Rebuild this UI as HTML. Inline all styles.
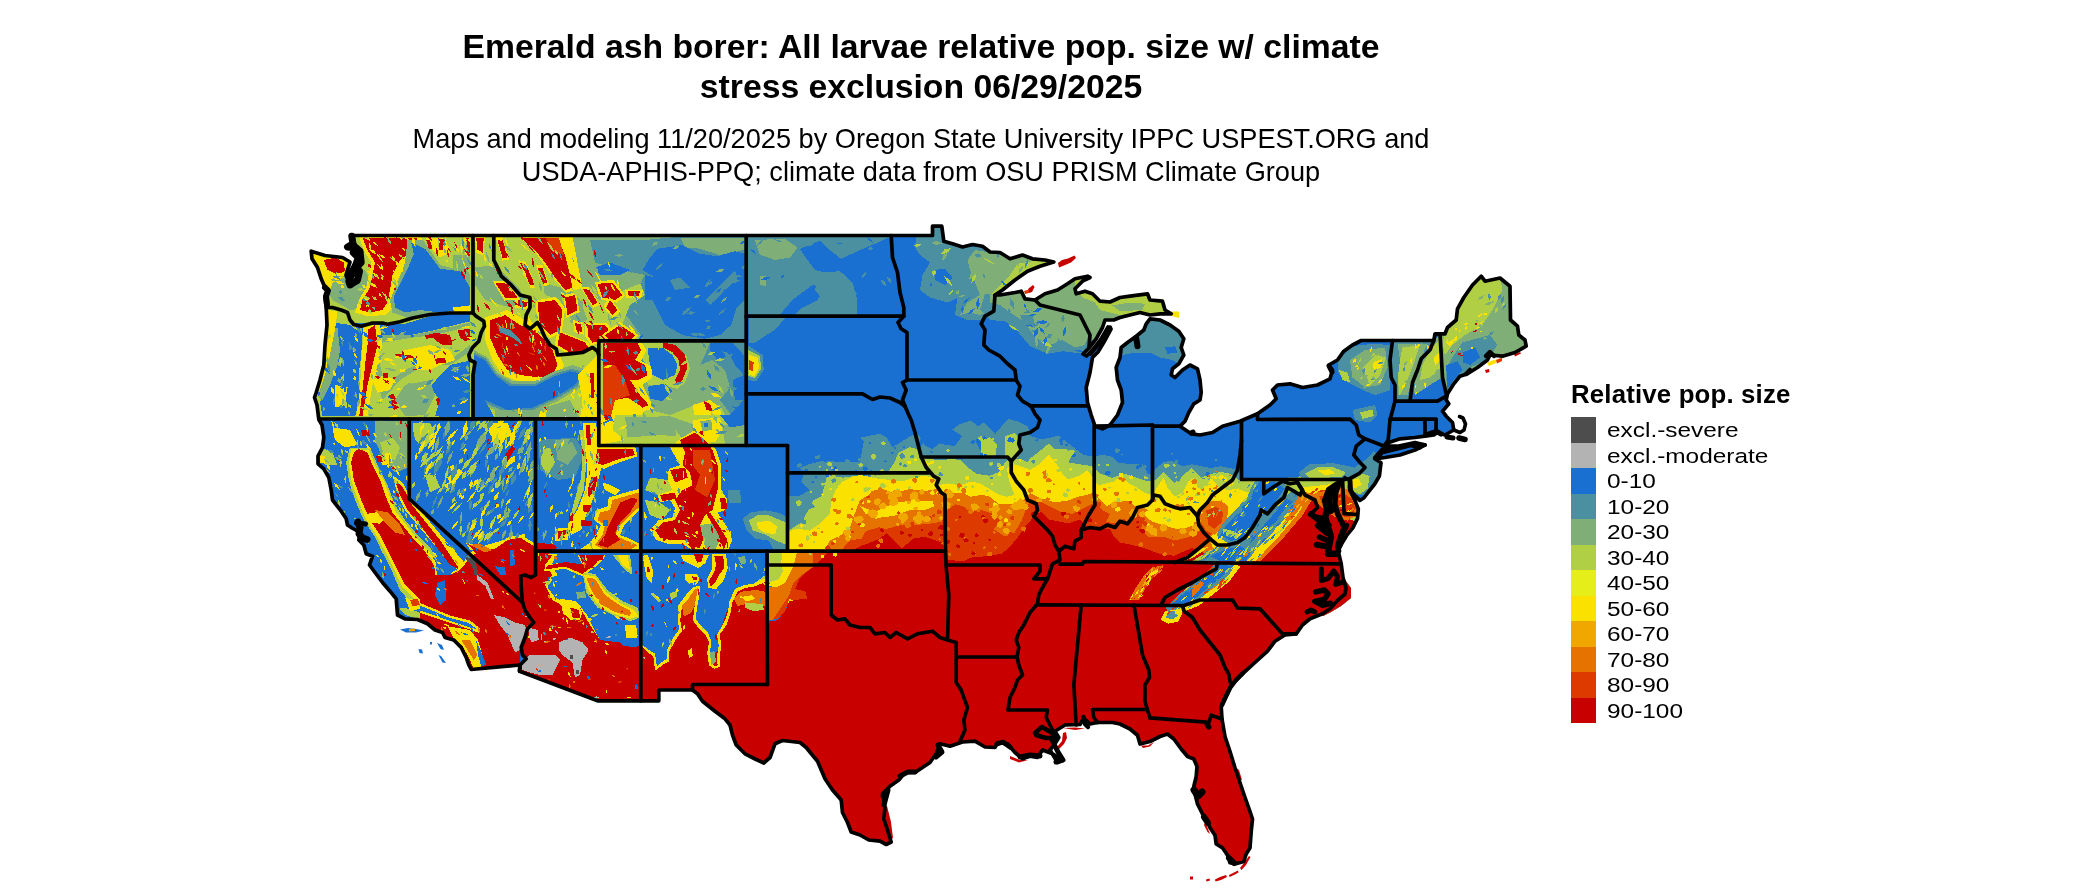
<!DOCTYPE html>
<html><head><meta charset="utf-8"><title>Emerald ash borer</title>
<style>
html,body{margin:0;padding:0;background:#fff}
body{width:2100px;height:892px;position:relative;overflow:hidden;font-family:"Liberation Sans",sans-serif;color:#000}
.t{position:absolute;left:0;width:1842px;text-align:center;white-space:nowrap;will-change:transform}
.t1{font-weight:bold;font-size:33.72px;line-height:40px}
  .t2{font-size:27.16px;line-height:34px}
.lt{will-change:transform;position:absolute;left:1571px;top:379px;font-weight:bold;font-size:25.8px;letter-spacing:0.17px;line-height:30px;white-space:nowrap}
.sw{position:absolute;left:1571px;width:25px;height:25.5px}
.lb{will-change:transform;position:absolute;left:1607px;font-size:20.5px;line-height:26px;white-space:nowrap;transform-origin:0 50%;transform:scaleX(1.19)}
</style></head><body>
<div class="t t1" style="top:26px">Emerald ash borer: All larvae relative pop. size w/ climate</div>
<div class="t t1" style="top:66px">stress exclusion 06/29/2025</div>
<div class="t t2" style="top:122px">Maps and modeling 11/20/2025 by Oregon State University IPPC USPEST.ORG and</div>
<div class="t t2" style="top:155px">USDA-APHIS-PPQ; climate data from OSU PRISM Climate Group</div>
<svg width="2100" height="892" viewBox="0 0 2100 892" style="position:absolute;left:0;top:0"><defs><clipPath id="us"><polygon points="351.2,235.5 932.5,235.5 932.5,226.2 941.8,226.2 943.8,241.2 952.5,243.8 962.5,247.0 972.5,244.5 982.5,246.2 990.0,252.0 1000.0,252.5 1010.0,258.8 1022.5,255.0 1032.5,258.8 1045.0,260.0 1053.8,262.0 1040.0,266.2 1027.5,271.2 1015.0,280.0 1002.5,290.0 995.0,295.0 1000.0,295.0 1015.0,292.5 1021.2,291.2 1025.0,298.8 1035.0,300.0 1045.0,293.8 1057.5,290.0 1067.5,283.8 1075.0,278.8 1087.5,276.2 1090.0,277.5 1082.5,281.2 1075.0,288.8 1076.2,293.8 1085.0,291.2 1092.5,293.8 1100.0,301.2 1110.0,302.0 1120.0,297.5 1130.0,296.2 1147.5,293.8 1150.0,300.0 1162.5,301.2 1165.0,310.0 1171.2,313.8 1160.0,313.8 1150.0,315.0 1140.0,312.5 1130.0,315.0 1120.0,317.5 1113.8,320.0 1105.0,320.0 1102.5,327.5 1096.2,338.8 1089.0,348.0 1083.0,354.0 1086.5,356.0 1093.5,349.0 1100.5,340.0 1108.0,327.0 1111.0,329.0 1104.0,342.0 1098.0,352.0 1092.5,357.5 1090.0,372.5 1086.2,387.5 1087.5,402.5 1091.2,415.0 1095.0,426.2 1102.5,428.8 1110.0,425.0 1117.5,415.0 1122.5,402.5 1121.2,390.0 1117.5,380.0 1116.2,367.5 1120.0,357.5 1121.2,347.5 1127.5,342.5 1136.2,336.2 1143.8,330.0 1146.2,323.8 1150.0,318.8 1160.0,320.0 1170.0,325.0 1178.8,331.2 1183.8,338.8 1181.2,347.5 1183.8,355.0 1178.8,363.8 1172.5,368.8 1171.2,375.0 1175.0,377.5 1182.5,370.0 1190.0,365.0 1197.5,368.8 1200.0,380.0 1201.2,392.5 1200.0,400.0 1193.8,403.8 1188.8,412.5 1185.0,421.2 1180.0,426.2 1191.2,433.8 1200.0,435.0 1212.5,432.5 1222.5,426.2 1240.0,421.2 1257.5,413.8 1270.0,405.0 1276.2,398.8 1272.5,390.0 1277.5,385.0 1290.0,383.8 1302.5,387.5 1317.5,385.0 1330.0,378.8 1332.5,370.0 1328.8,365.0 1337.5,360.0 1343.8,351.2 1352.5,345.0 1361.2,340.5 1433.8,340.5 1435.0,333.8 1445.0,333.8 1447.5,327.5 1456.2,320.0 1457.5,308.8 1463.8,297.5 1472.5,285.0 1481.2,276.2 1485.0,281.2 1500.0,278.0 1510.0,286.2 1510.5,320.0 1517.5,326.2 1518.8,335.0 1525.0,340.0 1526.2,346.2 1515.0,352.5 1502.5,356.2 1490.0,355.0 1487.5,360.0 1477.5,367.5 1467.5,373.8 1460.0,376.2 1453.8,383.8 1447.5,393.8 1446.2,400.0 1448.8,403.8 1442.5,411.2 1446.2,416.2 1452.5,422.5 1453.8,430.0 1445.0,435.0 1437.5,432.5 1433.8,435.0 1425.0,436.2 1415.0,437.5 1400.0,438.8 1388.8,442.5 1383.8,446.2 1397.5,446.2 1415.0,442.5 1425.0,445.0 1415.0,450.0 1400.0,455.0 1385.0,457.5 1375.0,458.8 1381.0,462.8 1379.4,476.0 1374.7,484.0 1368.5,491.8 1363.8,498.0 1359.8,500.4 1352.8,493.4 1349.6,487.0 1350.4,480.0 1351.2,491.8 1355.9,502.8 1358.3,509.0 1357.5,518.5 1352.8,527.9 1346.5,535.7 1341.8,543.6 1338.6,549.8 1338.8,553.8 1341.2,563.8 1343.0,577.5 1346.0,588.0 1345.0,594.0 1338.0,600.0 1330.0,608.8 1322.5,613.8 1310.0,618.8 1302.5,625.0 1296.2,633.8 1285.0,635.0 1275.0,641.2 1267.5,651.2 1255.0,662.5 1245.0,671.5 1237.5,679.0 1231.2,685.2 1227.5,694.0 1221.2,706.5 1222.0,719.0 1225.0,736.5 1230.0,751.5 1235.0,767.8 1238.8,779.0 1243.8,794.0 1250.0,811.5 1252.5,819.0 1251.2,831.5 1250.0,847.8 1246.2,854.0 1243.8,861.5 1235.0,864.0 1230.0,862.8 1227.5,855.2 1222.5,847.8 1216.2,844.0 1215.0,835.2 1210.0,827.8 1206.2,819.0 1202.5,814.0 1197.5,804.0 1195.0,794.0 1193.8,786.5 1196.2,776.5 1197.0,766.5 1193.8,759.0 1187.5,756.5 1181.2,749.0 1173.8,739.0 1167.5,734.0 1160.0,736.5 1150.0,741.5 1140.0,744.0 1137.5,735.2 1130.0,729.0 1120.0,724.0 1112.5,722.5 1097.5,722.5 1090.0,724.0 1083.8,718.0 1080.0,724.5 1065.0,725.0 1055.0,731.2 1058.8,737.5 1055.0,743.8 1050.0,750.0 1057.5,762.5 1062.5,760.0 1052.5,753.8 1042.5,750.0 1037.5,757.5 1030.0,756.2 1022.5,758.8 1015.0,752.5 1007.5,743.8 997.5,742.5 995.0,747.5 985.0,747.0 975.0,741.2 962.5,742.0 950.0,746.2 940.0,743.8 936.2,753.8 930.0,762.5 915.0,772.5 905.0,772.5 898.8,780.0 890.0,786.2 882.5,793.8 885.0,807.5 883.8,818.8 887.5,830.0 891.2,842.0 886.2,844.5 880.0,841.2 868.8,840.0 860.0,835.0 851.2,832.0 847.5,822.5 842.5,812.5 841.2,800.0 832.5,790.0 825.0,778.8 817.5,761.2 806.2,747.5 800.0,742.5 782.5,740.5 775.0,743.8 770.0,757.5 763.8,763.0 756.2,759.5 745.0,753.8 736.2,745.0 732.5,735.0 730.0,725.0 725.0,718.8 715.0,711.2 702.5,701.2 697.5,693.8 692.5,690.0 658.8,690.0 658.8,700.8 597.5,700.8 519.5,671.2 520.0,665.0 471.2,669.5 468.8,665.0 466.2,657.5 461.2,647.5 453.8,640.0 445.0,637.5 442.5,632.5 435.0,630.0 427.5,623.8 417.5,619.5 405.0,618.8 397.5,615.0 396.2,598.8 390.0,591.2 382.5,582.5 375.0,572.5 369.5,565.0 372.5,556.2 366.2,553.8 363.8,545.0 358.8,540.0 360.0,532.5 352.0,528.0 347.5,525.0 346.2,518.8 341.2,511.2 332.5,500.0 331.2,490.0 328.8,477.5 323.8,468.8 318.0,463.8 318.0,456.2 322.5,447.5 323.8,437.5 322.0,425.0 318.8,419.5 317.0,405.0 314.5,397.5 316.2,392.5 320.0,380.0 323.8,365.0 325.0,345.0 327.0,325.0 326.2,307.5 325.0,297.5 327.5,290.0 325.0,287.5 321.2,278.8 317.5,267.5 312.0,258.8 311.2,251.2 325.0,255.5 342.5,257.5 350.0,262.0 346.0,275.0 350.0,285.0 358.0,282.0 360.0,262.0 358.0,248.0 351.2,240.0"/><polygon points="1342,576 1351,588 1351,598 1341,606 1331,612 1323,616 1320,613 1338,600 1346,592"/></clipPath></defs><g clip-path="url(#us)" shape-rendering="crispEdges"><rect x="300" y="220" width="1240" height="670" fill="#1a70d0"/><polygon points="788.4,475.0 809.4,474.4 799.1,468.1 808.6,464.3 823.8,460.5 842.9,462.4 860.1,462.4 862.0,451.0 863.9,441.4 860.1,437.6 869.6,435.7 879.1,433.8 886.7,437.6 892.5,447.2 902.0,441.4 911.5,435.7 917.2,433.8 919.2,435.7 924.9,445.2 932.5,449.1 942.0,441.4 951.6,430.0 959.2,424.3 970.6,420.5 978.2,426.2 984.0,422.4 989.7,428.1 995.4,433.8 1004.9,422.4 1008.7,418.6 1020.2,422.4 1027.8,426.2 1030.0,435.7 1041.4,439.5 1051.0,437.6 1058.6,435.7 1068.1,443.3 1075.7,449.1 1083.4,454.8 1092.9,456.7 1102.4,454.8 1112.0,456.7 1117.7,462.4 1131.0,464.3 1142.5,464.3 1148.2,473.8 1152.0,475.7 1155.8,468.1 1163.4,462.4 1171.1,460.5 1182.5,466.2 1192.0,464.3 1201.6,466.2 1211.1,468.1 1220.6,466.2 1230.2,468.1 1237.8,470.0 1241.6,475.7 1244.6,478.3 1246.6,458.2 1260.7,456.1 1264.8,470.3 1285.0,477.3 1299.1,472.3 1309.2,464.2 1333.4,464.2 1353.6,468.3 1367.7,458.2 1373.8,452.1 1381.8,460.2 1379.8,480.4 1369.7,496.5 1361.7,502.6 1361.7,900.0 788.4,900.0" fill="#4a90a0"/><polygon points="788.4,475.0 803.3,475.0 801.3,482.1 809.4,490.2 799.3,496.2 788.4,496.2" fill="#1a70d0"/><polygon points="935.0,432.0 950.0,428.0 962.0,436.0 955.0,446.0 940.0,444.0" fill="#1a70d0"/><polygon points="975.0,440.0 985.0,436.0 992.0,446.0 980.0,450.0" fill="#1a70d0"/><polygon points="788.4,530.6 801.3,522.5 809.4,508.3 813.4,500.3 821.5,496.2 825.5,482.1 827.5,475.0 842.9,477.7 856.2,475.7 862.0,479.6 875.3,475.7 886.7,473.8 894.4,462.4 898.2,452.9 909.6,447.2 917.2,449.1 921.1,454.8 926.8,458.6 942.0,460.5 951.6,458.6 961.1,460.5 968.7,468.1 976.3,473.8 989.7,475.7 999.2,471.9 1004.9,462.4 1008.7,458.6 1014.5,458.6 1020.2,458.6 1027.8,462.4 1030.0,458.6 1037.6,452.9 1049.1,443.3 1054.8,449.1 1066.2,449.1 1071.9,454.8 1068.1,462.4 1079.6,464.3 1092.9,466.2 1100.5,473.8 1112.0,477.7 1125.3,473.8 1136.7,477.7 1148.2,481.5 1155.8,479.6 1163.4,471.9 1171.1,479.6 1176.8,485.3 1182.5,475.7 1192.0,468.1 1201.6,477.7 1211.1,473.8 1220.6,471.9 1230.2,473.8 1236.8,477.7 1239.7,481.5 1240.6,480.4 1248.6,462.2 1258.7,460.2 1260.7,472.3 1268.8,480.4 1297.1,478.3 1305.1,470.3 1321.3,468.3 1341.5,472.3 1353.6,474.3 1361.7,472.3 1369.7,478.3 1367.7,488.4 1357.6,494.5 1357.6,900.0 788.4,900.0" fill="#b0cf45"/><polygon points="981.0,441.0 990.0,437.0 997.0,445.0 995.0,458.0 981.0,458.0" fill="#b0cf45"/><polygon points="1005.0,436.0 1015.0,433.0 1020.0,440.0 1018.0,458.0 1005.0,458.0" fill="#b0cf45"/><polygon points="788.4,531.6 797.2,528.5 809.4,530.6 821.5,522.5 829.5,514.4 831.6,500.3 835.6,490.2 841.7,482.1 853.8,476.1 861.8,475.0 873.9,478.1 886.7,479.6 902.0,481.5 913.4,477.7 924.9,475.7 932.5,477.7 938.2,485.3 947.7,483.4 961.1,485.3 970.6,481.5 980.2,483.4 989.7,489.1 999.2,494.8 1006.8,496.7 1014.5,494.8 1008.7,479.6 1006.8,468.1 1014.5,464.3 1025.9,468.1 1030.0,470.0 1039.5,464.3 1049.1,454.8 1056.7,464.3 1062.4,473.8 1068.1,479.6 1079.6,475.7 1087.2,470.0 1092.9,477.7 1098.6,485.3 1113.9,481.5 1121.5,475.7 1129.1,483.4 1136.7,487.2 1144.4,492.9 1152.0,494.8 1155.8,489.1 1163.4,477.7 1167.2,487.2 1174.9,496.7 1182.5,492.9 1188.2,481.5 1193.9,477.7 1197.7,487.2 1209.2,485.3 1220.6,487.2 1228.2,485.3 1235.9,487.2 1230.5,486.4 1240.6,486.4 1250.6,490.5 1248.6,498.5 1240.6,506.6 1232.5,516.7 1226.4,526.8 1246.6,545.0 1246.6,900.0 788.4,900.0" fill="#fbe100"/><polygon points="821.5,550.7 825.5,549.7 829.5,540.6 841.7,534.6 849.7,528.5 853.8,516.4 859.8,500.3 869.9,494.2 871.5,491.0 882.9,489.1 894.4,492.9 909.6,489.1 924.9,491.0 936.3,489.1 942.0,494.8 947.7,492.9 963.0,492.9 970.6,496.7 982.1,494.8 989.7,496.7 999.2,504.3 1008.7,504.3 1018.3,502.4 1025.9,498.6 1030.0,492.9 1041.4,498.6 1054.8,502.4 1068.1,500.5 1077.7,496.7 1087.2,494.8 1092.9,492.9 1098.6,498.6 1106.2,506.2 1115.8,502.4 1129.1,500.5 1134.8,506.2 1140.6,506.2 1148.2,510.1 1142.5,513.9 1152.0,521.5 1163.4,525.3 1176.8,529.1 1188.2,527.2 1195.8,521.5 1195.8,512.0 1201.6,506.2 1209.2,502.4 1220.6,500.5 1228.2,506.2 1228.2,513.9 1220.6,525.3 1214.9,532.9 1209.2,538.7 1213.0,548.2 1213.0,900.0 821.5,900.0" fill="#e67300"/><polygon points="860.1,506.2 875.3,512.0 886.7,506.2 898.2,502.4 913.4,500.5 932.5,500.5 934.4,506.2 924.9,510.1 909.6,510.1 894.4,515.8 879.1,517.7 865.8,513.9" fill="#fbe100"/><polygon points="1152.0,500.5 1159.6,498.6 1167.2,506.2 1178.7,510.1 1192.0,510.1 1195.8,515.8 1193.9,525.3 1182.5,529.1 1171.1,523.4 1161.5,515.8 1152.0,510.1" fill="#fbe100"/><polygon points="837.6,550.7 841.7,549.7 849.7,540.6 861.8,538.6 865.8,531.0 879.1,527.2 886.7,529.1 898.2,525.3 913.4,525.3 932.5,523.4 942.0,521.5 947.7,510.1 955.4,504.3 963.0,506.2 970.6,512.0 982.1,510.1 993.5,513.9 1001.1,521.5 993.5,529.1 1004.9,536.7 1014.5,532.9 1022.1,519.6 1026.9,506.2 1030.0,502.4 1037.6,500.5 1049.1,506.2 1060.5,512.0 1071.9,513.9 1083.4,508.2 1094.8,502.4 1102.4,510.1 1110.1,513.9 1106.2,521.5 1113.9,523.4 1121.5,519.6 1129.1,517.7 1136.7,513.9 1144.4,519.6 1140.6,529.1 1148.2,536.7 1163.4,536.7 1174.9,540.6 1190.1,536.7 1199.7,531.0 1201.6,519.6 1199.7,513.9 1209.2,508.2 1218.7,510.1 1222.5,519.6 1216.8,529.1 1209.2,536.7 1201.6,544.4 1201.6,553.9 1201.6,900.0 837.6,900.0" fill="#dd3a00"/><polygon points="769.0,551.7 785.1,551.7 781.1,566.9 785.1,570.9 779.1,579.0 773.0,583.0 769.0,583.0" fill="#b0cf45"/><polygon points="782.1,551.7 799.3,551.7 793.2,566.9 789.2,575.0 785.1,583.0 777.1,587.1 769.0,586.1 770.0,582.0 779.1,579.0 783.1,570.9 781.1,564.9" fill="#fbe100"/><polygon points="797.2,551.7 815.4,551.7 813.4,566.9 801.3,575.0 793.2,583.0 789.2,595.1 781.1,607.2 773.0,619.4 769.0,620.4 769.0,587.1 777.1,587.1 785.1,583.0 789.2,575.0 793.2,566.9" fill="#e67300"/><polygon points="813.4,551.7 829.5,551.7 817.4,566.9 809.4,572.9 799.3,579.0 795.2,589.1 805.3,591.1 807.3,599.2 799.3,601.2 789.2,599.2 785.1,611.3 777.1,619.4 773.0,619.4 781.1,607.2 789.2,595.1 793.2,583.0 801.3,575.0 813.4,566.9" fill="#dd3a00"/><polygon points="640.0,900.0 640.0,720.0 718.5,650.0 720.6,635.5 722.6,623.4 726.6,611.3 732.7,603.2 740.7,609.3 748.8,611.3 754.9,617.3 765.0,611.3 769.0,621.4 777.1,620.4 785.1,611.3 789.2,601.2 801.3,599.2 807.3,599.2 805.3,591.1 795.2,589.1 799.3,579.0 805.3,572.9 813.4,566.9 819.5,560.8 827.5,552.8 841.7,550.7 853.8,549.7 861.8,545.7 869.9,542.7 880.0,538.6 886.7,532.9 898.2,544.4 902.0,548.2 913.4,538.7 924.9,536.7 942.0,542.5 943.9,552.0 947.7,559.6 963.0,561.5 970.6,557.7 989.7,555.8 1001.1,553.9 1008.7,548.2 1018.3,536.7 1025.9,525.3 1030.0,521.5 1035.7,513.9 1041.4,512.0 1049.1,519.6 1058.6,521.5 1068.1,523.4 1079.6,519.6 1085.3,525.3 1096.7,529.1 1110.1,529.1 1113.9,536.7 1119.6,542.5 1129.1,544.4 1144.4,548.2 1159.6,553.9 1174.9,555.8 1182.5,552.0 1192.0,548.2 1201.6,552.0 1220.4,561.1 1246.6,559.1 1256.7,547.0 1268.8,536.9 1278.9,528.8 1289.0,518.7 1297.1,508.6 1305.1,500.6 1311.2,498.5 1321.3,506.6 1333.4,508.6 1341.5,516.7 1353.6,520.7 1361.7,520.7 1420.0,520.0 1420.0,900.0" fill="#c90000"/><polygon points="1202.2,506.6 1212.3,500.6 1222.4,502.6 1228.4,510.6 1226.4,520.7 1222.4,528.8 1214.3,534.9 1206.2,530.8 1200.2,520.7" fill="#e67300"/><polygon points="1206.2,510.6 1216.3,506.6 1223.4,512.7 1221.4,522.8 1214.3,528.8 1208.3,524.8" fill="#dd3a00"/><polygon points="1220.4,483.4 1238.5,480.4 1254.7,485.4 1256.7,492.5 1248.6,504.6 1240.6,512.7 1234.5,506.6 1240.6,496.5 1238.5,488.4 1226.4,490.5" fill="#b0cf45"/><polygon points="1226.4,492.5 1238.5,489.4 1248.6,492.5 1246.6,500.6 1238.5,508.6 1230.5,506.6 1226.4,500.6" fill="#fbe100"/><polygon points="1257.7,477.3 1276.9,479.4 1289.0,487.4 1278.9,504.6 1268.8,514.7 1260.7,522.8 1252.7,532.8 1244.6,542.9 1228.4,543.9 1216.3,534.9 1223.4,522.8 1231.5,513.7 1239.5,505.6 1247.6,496.5 1251.7,486.4" fill="#4a90a0"/><polygon points="1260.7,480.4 1274.9,482.4 1285.0,488.4 1274.9,502.6 1264.8,512.7 1256.7,520.7 1248.6,530.8 1242.6,538.9 1230.5,540.9 1220.4,534.9 1226.4,524.8 1234.5,516.7 1242.6,508.6 1250.6,498.5 1254.7,488.4" fill="#1a70d0"/><polygon points="1223.4,528.8 1232.5,530.8 1240.6,534.9 1236.5,538.9 1228.4,536.9 1223.4,533.9" fill="#b0cf45"/><polygon points="1293.0,490.5 1301.1,492.5 1299.1,502.6 1291.0,512.7 1280.9,524.8 1270.8,534.9 1260.7,545.0 1250.6,557.1 1246.6,561.1 1206.2,561.1 1192.1,561.1 1208.3,551.0 1220.4,545.0 1232.5,542.9 1246.6,536.9 1256.7,526.8 1266.8,516.7 1276.9,506.6 1285.0,496.5" fill="#4a90a0"/><polygon points="1210.3,556.1 1224.4,550.0 1240.6,546.0 1250.6,553.0 1246.6,560.7 1220.4,561.5" fill="#1a70d0"/><polygon points="1260.7,528.8 1274.9,512.7 1287.0,498.5 1291.0,500.6 1278.9,516.7 1264.8,532.8" fill="#1a70d0"/><polygon points="1246.6,561.1 1252.7,553.0 1262.8,542.9 1272.8,532.8 1282.9,520.7 1293.0,508.6 1301.1,498.5 1306.1,500.6 1298.1,513.7 1286.0,527.8 1275.9,539.9 1265.8,550.0 1255.7,561.1" fill="#fbe100"/><polygon points="1255.7,561.1 1265.8,550.0 1275.9,539.9 1286.0,527.8 1298.1,513.7 1306.1,500.6 1311.2,500.6 1303.1,514.7 1291.0,528.8 1280.9,540.9 1270.8,551.0 1260.7,561.1" fill="#e67300"/><polygon points="1192.1,561.1 1200.2,556.1 1210.3,550.0 1220.4,546.0 1216.3,551.0 1206.2,557.1 1198.2,561.1" fill="#b0cf45"/><polygon points="1180.0,559.1 1188.1,555.0 1198.2,549.0 1208.3,547.0 1200.2,553.0 1192.1,558.1 1184.0,561.1 1180.0,561.1" fill="#fbe100"/><polygon points="1216.3,563.1 1235.5,565.1 1225.4,579.3 1210.3,590.4 1195.1,602.5 1180.0,608.5 1167.9,613.6 1165.9,607.5 1180.0,593.4 1191.1,585.3 1203.2,575.2 1210.3,568.2" fill="#4a90a0"/><polygon points="1218.3,564.1 1231.5,566.1 1221.4,577.2 1208.3,587.3 1194.1,599.5 1180.0,605.5 1171.9,609.5 1171.9,603.5 1180.0,596.4 1192.1,587.3 1204.2,577.2 1212.3,569.2" fill="#1a70d0"/><polygon points="1192.1,589.4 1200.2,581.3 1204.2,583.3 1198.2,591.4 1192.1,597.4" fill="#e67300"/><polygon points="1235.5,565.1 1240.6,566.1 1229.4,581.3 1214.3,593.4 1199.2,605.5 1184.0,611.6 1176.0,615.6 1167.9,613.6 1180.0,608.5 1195.1,602.5 1210.3,590.4 1225.4,579.3" fill="#fbe100"/><polygon points="1164.9,611.6 1173.9,609.5 1182.0,613.6 1178.0,621.7 1167.9,623.7 1160.8,619.6" fill="#fbe100"/><polygon points="1167.9,611.6 1173.9,610.6 1178.0,615.6 1171.9,619.6 1165.9,617.6" fill="#4a90a0"/><polygon points="1129.1,600.0 1136.7,586.3 1144.4,574.9 1152.0,567.2 1163.4,565.3 1161.5,571.1 1152.0,578.7 1144.4,590.1 1138.7,600.0" fill="#e67300"/><polygon points="1144.4,582.5 1150.1,573.0 1159.6,568.2 1157.7,572.0 1152.0,577.7 1147.2,585.4" fill="#fbe100"/><polygon points="1301.1,490.5 1313.2,494.5 1321.3,490.5 1329.4,488.4 1341.5,486.4 1351.6,492.5 1357.6,500.6 1357.6,514.7 1347.5,520.7 1337.4,518.7 1325.3,510.6 1317.2,502.6 1309.2,500.6 1301.1,506.6 1293.0,516.7 1285.0,524.8 1278.9,528.8 1287.0,518.7 1293.0,508.6 1297.1,498.5" fill="#e67300"/><polygon points="1319.3,496.5 1329.4,493.5 1341.5,492.5 1351.6,498.5 1355.6,508.6 1349.5,517.7 1339.5,515.7 1329.4,508.6 1321.3,502.6" fill="#dd3a00"/><polygon points="1301.1,487.4 1321.3,485.4 1337.4,483.4 1341.5,486.8 1329.4,488.8 1321.3,490.9 1313.2,494.1 1303.1,491.5" fill="#fbe100"/><polygon points="1245.6,457.2 1260.7,455.1 1265.8,470.3 1256.7,477.3 1244.6,477.3" fill="#4a90a0"/><polygon points="1248.6,461.2 1258.7,459.2 1260.7,471.3 1252.7,475.3 1248.6,470.3" fill="#b0cf45"/><polygon points="1251.7,462.2 1256.7,461.2 1257.7,468.3 1252.7,469.3" fill="#fbe100"/><polygon points="1266.8,452.1 1305.1,452.1 1309.2,462.2 1299.1,470.3 1285.0,476.3 1268.8,477.3 1265.8,470.3" fill="#1a70d0"/><polygon points="1240.6,440.0 1240.6,479.4 1266.8,479.4 1301.1,476.3 1309.2,462.2 1361.7,462.2 1361.7,440.0" fill="#1a70d0"/><polygon points="1299.1,472.3 1309.2,464.2 1333.4,463.2 1353.6,467.2 1361.7,470.3 1357.6,477.3 1301.1,478.3" fill="#4a90a0"/><polygon points="1305.1,473.3 1317.2,467.2 1333.4,467.2 1345.5,472.3 1341.5,477.3 1309.2,477.9" fill="#b0cf45"/><polygon points="1317.2,470.3 1329.4,469.3 1335.4,473.3 1325.3,475.3" fill="#fbe100"/><polygon points="1345.5,476.3 1357.6,474.3 1367.7,458.2 1373.8,451.1 1381.8,460.2 1379.8,480.4 1369.7,496.5 1361.7,502.6 1353.6,500.6 1349.5,490.5" fill="#4a90a0"/><polygon points="1349.5,477.3 1361.7,473.3 1369.7,476.3 1367.7,488.4 1359.6,494.5 1351.6,490.5" fill="#b0cf45"/><polygon points="1350.6,480.4 1358.6,478.3 1361.7,484.4 1355.6,488.4 1350.6,486.4" fill="#fbe100"/><polygon points="1353.6,495.5 1361.7,494.5 1365.7,498.5 1359.6,503.6 1353.6,501.6" fill="#1a70d0"/><polygon points="595.0,235.0 891.2,235.0 891.2,314.5 746.2,314.5 746.2,340.5 595.0,340.5" fill="#4a90a0"/><polygon points="600.0,236.2 745.0,236.2 743.8,252.5 725.0,250.0 705.0,252.5 687.5,245.0 662.5,242.5 650.0,250.0 625.0,245.0 600.0,248.8" fill="#7fae76"/><polygon points="687.5,237.5 710.0,237.5 707.5,247.5 695.0,248.8" fill="#b0cf45"/><polygon points="657.5,247.5 682.5,245.0 700.0,255.0 717.5,257.5 735.0,252.5 743.8,255.0 743.8,300.0 735.0,307.5 730.0,325.0 720.0,335.0 705.0,338.8 682.5,335.0 665.0,325.0 657.5,310.0 662.5,300.0 660.0,287.5 655.0,277.5 642.5,270.0 650.0,257.5" fill="#1a70d0"/><polygon points="707.5,292.5 720.0,280.0 735.0,267.5 737.5,275.0 725.0,287.5 712.5,297.5" fill="#4a90a0"/><polygon points="670.0,280.0 680.0,278.8 685.0,287.5 675.0,291.2 668.8,287.5" fill="#4a90a0"/><polygon points="600.0,248.8 625.0,247.5 647.5,252.5 657.5,262.5 650.0,275.0 657.5,290.0 657.5,310.0 665.0,325.0 682.5,335.0 675.0,340.5 600.0,340.5" fill="#7fae76"/><polygon points="600.0,270.0 620.0,267.5 642.5,275.0 652.5,290.0 650.0,305.0 637.5,315.0 625.0,325.0 640.0,340.5 600.0,340.5" fill="#b0cf45"/><polygon points="600.0,278.8 617.5,277.5 637.5,285.0 647.5,293.8 642.5,302.5 625.0,305.0 620.0,320.0 610.0,325.0 600.0,325.0" fill="#fbe100"/><polygon points="600.0,283.8 612.5,282.5 622.5,292.5 617.5,300.0 605.0,300.0 600.0,297.5" fill="#c90000"/><polygon points="627.5,291.2 640.0,290.0 640.0,297.5 628.8,297.5" fill="#c90000"/><polygon points="605.0,305.0 615.0,305.0 618.8,315.0 610.0,317.5" fill="#c90000"/><polygon points="600.0,330.0 610.0,326.2 625.0,325.0 637.5,340.5 600.0,340.5" fill="#c90000"/><polygon points="618.8,252.5 632.5,248.8 642.5,253.8 641.2,262.5 627.5,265.0 620.0,260.0" fill="#b0cf45"/><polygon points="622.5,254.5 635.0,252.5 638.8,257.5 630.0,261.2 623.0,258.8" fill="#fbe100"/><polygon points="625.0,255.5 633.8,255.0 633.8,258.8 625.5,259.0" fill="#c90000"/><polygon points="646.2,260.0 653.8,258.8 655.0,265.0 648.8,266.2" fill="#b0cf45"/><polygon points="648.8,333.8 660.0,335.0 665.0,340.5 647.5,340.5" fill="#b0cf45"/><polygon points="650.0,334.5 656.2,335.0 656.2,338.8 651.2,338.0" fill="#c90000"/><polygon points="755.0,240.0 785.0,238.8 797.5,247.5 790.0,257.5 775.0,260.0 760.0,255.0" fill="#7fae76"/><polygon points="800.0,248.8 820.0,240.5 831.2,251.2 841.2,258.8 860.0,250.0 875.0,243.8 887.5,237.5 903.8,237.5 903.8,314.5 857.5,314.5 855.0,297.5 847.5,282.5 835.0,273.8 825.0,272.5 815.0,270.0 807.5,260.0" fill="#1a70d0"/><polygon points="792.5,300.0 812.5,285.0 825.0,287.5 817.5,300.0 802.5,307.5 795.0,314.5 780.0,314.5" fill="#1a70d0"/><polygon points="825.0,272.5 840.0,271.2 852.5,282.5 857.5,300.0 856.2,313.8 832.5,313.8 825.0,302.5 815.0,290.0 817.5,278.8" fill="#4a90a0"/><polygon points="760.0,276.2 766.2,276.2 766.2,286.2 760.0,285.0" fill="#7fae76"/><polygon points="748.8,318.0 785.0,318.0 775.0,330.0 762.5,337.5 755.0,342.5 748.8,342.5" fill="#4a90a0"/><polygon points="730.0,345.0 743.8,342.5 762.5,355.0 763.8,370.0 756.2,381.2 747.5,380.0 740.0,370.0 732.5,357.5" fill="#4a90a0"/><polygon points="733.8,346.2 743.8,347.5 760.0,356.2 761.2,368.8 755.0,378.0 748.8,376.2 742.5,367.5 736.2,357.5" fill="#b0cf45"/><polygon points="736.2,350.0 743.0,351.2 743.8,367.5 738.8,360.0" fill="#fbe100"/><polygon points="748.8,355.0 757.5,357.5 759.5,367.5 754.5,376.2 748.8,374.5" fill="#fbe100"/><polygon points="749.2,360.0 753.8,362.5 752.5,371.2 749.2,370.0" fill="#dd3a00"/><polygon points="600.0,341.2 745.0,341.2 745.0,445.5 600.0,445.5" fill="#4a90a0"/><polygon points="632.5,342.5 710.0,342.5 705.0,355.0 700.0,365.0 712.5,360.0 725.0,370.0 730.0,387.5 720.0,400.0 735.0,420.0 743.8,425.0 743.8,445.5 601.2,445.5 601.2,420.0 615.0,405.0 632.5,400.0 645.0,380.0 650.0,365.0" fill="#7fae76"/><polygon points="710.0,342.5 732.5,342.5 743.8,355.0 743.8,375.0 735.0,365.0 730.0,355.0 717.5,360.0 710.0,350.0" fill="#1a70d0"/><polygon points="725.0,420.0 743.8,400.0 744.5,445.5 730.0,445.5" fill="#1a70d0"/><polygon points="732.5,380.0 744.5,375.0 744.5,400.0 735.0,400.0" fill="#1a70d0"/><polygon points="601.2,420.0 615.0,400.0 632.5,397.5 650.0,410.0 670.0,415.0 695.0,405.0 720.0,405.0 730.0,425.0 725.0,445.5 601.2,445.5" fill="#b0cf45"/><polygon points="601.2,415.0 612.5,400.0 627.5,397.5 647.5,407.5 637.5,420.0 615.0,425.0 610.0,445.5 601.2,445.5" fill="#fbe100"/><polygon points="692.5,405.0 710.0,400.0 720.0,407.5 722.5,425.0 717.5,440.0 707.5,445.5 682.5,445.5 690.0,430.0 695.0,417.5" fill="#fbe100"/><polygon points="698.8,420.0 710.0,418.8 712.5,430.0 701.2,431.2" fill="#7fae76"/><polygon points="702.5,422.5 707.5,422.5 708.0,427.5 703.0,427.5" fill="#1a70d0"/><polygon points="703.8,401.2 710.0,403.8 712.5,411.2 706.2,410.0" fill="#c90000"/><polygon points="693.8,431.2 701.2,430.0 703.8,445.0 696.2,445.0" fill="#c90000"/><polygon points="680.0,438.8 686.2,437.5 687.5,445.0 681.2,445.0" fill="#c90000"/><polygon points="637.5,342.5 662.5,342.5 675.0,345.0 686.2,355.0 690.0,368.8 685.0,382.5 677.5,388.8 660.0,385.0 648.8,385.0 642.5,375.0 646.2,365.0 640.0,355.0" fill="#b0cf45"/><polygon points="647.5,347.5 662.5,347.5 672.5,355.0 677.5,365.0 675.0,375.0 662.5,380.0 652.5,375.0 650.0,365.0" fill="#1a70d0"/><polygon points="647.5,386.2 665.0,383.8 672.5,391.2 662.5,401.2 650.0,398.8" fill="#1a70d0"/><polygon points="662.5,342.5 675.0,345.0 685.0,355.0 687.5,367.5 682.5,380.0 677.5,385.0 675.0,380.0 680.0,370.0 678.8,360.0 672.5,352.5 662.5,347.5" fill="#c90000"/><polygon points="600.0,341.2 641.2,341.2 646.2,350.0 641.2,361.2 651.2,366.2 652.5,377.5 642.5,385.0 650.0,400.0 653.8,408.8 642.5,411.2 627.5,401.2 617.5,403.8 612.5,422.5 600.0,422.5" fill="#fbe100"/><polygon points="601.2,342.5 637.5,342.5 641.2,350.0 635.0,360.0 645.0,365.0 647.5,375.0 637.5,380.0 630.0,380.0 640.0,395.0 648.8,405.0 642.5,407.5 627.5,397.5 615.0,400.0 610.0,420.0 603.8,420.0 601.2,400.0" fill="#c90000"/><polygon points="601.2,365.0 615.0,365.0 625.0,380.0 630.0,395.0 615.0,400.0 610.0,420.0 603.8,420.0 601.2,400.0" fill="#dd3a00"/><polygon points="916.2,236.5 932.5,235.5 933.8,227.5 941.8,227.5 943.8,241.2 962.5,247.0 980.0,247.5 995.0,253.8 1010.0,260.0 995.0,295.0 992.5,312.5 980.0,320.0 967.5,320.0 955.0,315.0 957.5,297.5 947.5,302.5 930.0,297.5 920.0,290.0 922.5,275.0 930.0,262.5 920.0,255.0 915.0,247.5" fill="#4a90a0"/><polygon points="933.8,270.0 945.0,268.8 952.5,277.5 945.0,285.0 935.0,280.0" fill="#1a70d0"/><polygon points="975.0,250.0 990.0,252.5 1000.0,253.8 1010.0,259.5 1022.5,256.2 1032.5,259.5 1045.0,260.5 1055.0,262.0 1035.0,267.5 1020.0,273.8 1005.0,282.5 995.0,295.0 992.5,310.0 980.0,315.0 970.0,312.5 960.0,315.0 967.5,302.5 980.0,295.0 975.0,282.5 970.0,270.0 967.5,260.0" fill="#7fae76"/><polygon points="1017.5,263.8 1032.5,261.2 1053.8,262.0 1032.5,268.8 1017.5,278.8 1005.0,290.0 995.0,297.5 990.0,295.0 1000.0,285.0 1010.0,275.0" fill="#b0cf45"/><polygon points="1025.0,271.2 1040.0,265.0 1051.2,262.5 1037.5,268.8 1026.2,275.0" fill="#fbe100"/><polygon points="985.0,293.8 1000.0,293.8 1021.2,291.2 1025.0,298.8 1035.0,300.0 1060.0,310.0 1080.0,315.0 1086.2,325.0 1090.0,335.0 1092.5,342.5 1083.8,353.8 1062.5,351.2 1047.5,353.8 1030.0,346.2 1017.5,331.2 1005.0,321.2 990.0,320.0 980.0,310.0" fill="#4a90a0"/><polygon points="990.0,293.8 1000.0,293.8 1021.2,291.2 1025.0,298.8 1035.0,300.0 1060.0,310.0 1080.0,315.0 1086.2,325.0 1088.8,333.8 1085.0,345.0 1075.0,347.5 1062.5,340.0 1050.0,345.0 1035.0,337.5 1025.0,322.5 1010.0,312.5 1000.0,305.0 990.0,302.5" fill="#7fae76"/><polygon points="1020.0,315.0 1032.5,315.0 1035.0,325.0 1025.0,327.5" fill="#4a90a0"/><polygon points="1032.5,297.5 1045.0,292.5 1057.5,288.8 1067.5,282.5 1075.0,277.5 1088.8,275.0 1085.0,281.2 1076.2,288.8 1077.5,295.0 1086.2,291.2 1093.8,293.8 1101.2,301.2 1111.2,302.5 1121.2,298.0 1131.2,296.2 1148.8,293.8 1151.2,300.0 1163.8,301.2 1166.2,310.0 1172.5,315.0 1160.0,315.0 1150.0,316.2 1140.0,313.8 1130.0,316.2 1120.0,318.8 1113.8,321.2 1105.0,321.2 1102.5,328.8 1096.2,340.0 1091.2,340.0 1086.2,325.0 1080.0,315.0 1060.0,310.0 1035.0,301.2" fill="#7fae76"/><polygon points="1075.0,280.0 1087.5,276.2 1082.5,282.5 1077.5,293.8 1085.0,291.2 1092.5,293.8 1100.0,301.2 1110.0,302.5 1120.0,298.8 1130.0,297.0 1147.5,295.0 1150.0,301.2 1162.5,302.5 1165.0,311.2 1150.0,315.0 1135.0,312.5 1120.0,315.0 1110.0,312.5 1100.0,310.0 1095.0,302.5 1082.5,297.5 1075.0,290.0" fill="#b0cf45"/><polygon points="1112.5,305.5 1130.0,302.5 1145.0,303.8 1142.5,310.0 1120.0,311.2" fill="#7fae76"/><polygon points="1150.0,319.5 1160.0,320.5 1170.0,325.5 1179.5,331.8 1184.5,339.2 1182.0,348.0 1184.5,355.0 1178.8,363.8 1172.5,360.0 1160.0,357.5 1150.0,352.5 1135.0,352.5 1122.5,355.0 1120.0,347.5 1126.2,341.8 1135.0,335.8 1142.5,329.5 1145.5,323.2" fill="#4a90a0"/><polygon points="1165.0,347.5 1175.0,346.2 1177.5,352.5 1167.5,353.8" fill="#1a70d0"/><polygon points="1337.5,360.0 1352.5,346.2 1372.5,343.8 1390.0,345.0 1390.0,390.0 1375.0,395.0 1362.5,390.0 1347.5,382.5 1337.5,372.5" fill="#4a90a0"/><polygon points="1350.0,360.0 1365.0,350.0 1385.0,347.5 1387.5,367.5 1380.0,385.0 1365.0,387.5 1352.5,377.5" fill="#7fae76"/><polygon points="1362.5,367.5 1375.0,355.0 1386.2,357.5 1380.0,375.0 1370.0,385.0" fill="#b0cf45"/><polygon points="1372.5,362.5 1382.5,358.8 1381.2,367.5 1373.8,370.0" fill="#fbe100"/><polygon points="1338.8,370.0 1347.5,372.5 1350.0,382.5 1342.5,380.0" fill="#b0cf45"/><polygon points="1352.5,410.0 1375.0,405.0 1377.5,415.0 1370.0,422.5 1355.0,420.0" fill="#4a90a0"/><polygon points="1360.0,412.5 1372.5,409.5 1373.8,416.2 1362.5,418.8" fill="#b0cf45"/><polygon points="1393.8,342.0 1432.5,342.0 1426.2,355.0 1418.0,370.0 1410.5,399.5 1395.8,399.5 1395.0,385.0 1391.2,377.5 1390.0,360.0" fill="#4a90a0"/><polygon points="1397.5,343.8 1427.5,343.8 1422.5,355.0 1415.0,370.0 1407.5,395.0 1397.5,395.0 1397.5,380.0 1400.0,360.0" fill="#7fae76"/><polygon points="1402.5,347.5 1420.0,345.0 1415.0,360.0 1407.5,380.0 1400.0,395.0 1397.5,380.0 1400.0,360.0" fill="#b0cf45"/><polygon points="1433.8,341.2 1440.0,335.0 1442.5,377.5 1430.0,385.0 1415.0,395.0 1412.5,382.5 1417.5,370.0 1421.2,358.8 1430.0,350.0" fill="#7fae76"/><polygon points="1430.0,350.0 1440.0,338.8 1441.8,367.5 1430.0,377.5 1420.0,380.0 1422.5,365.0" fill="#b0cf45"/><polygon points="1433.8,357.5 1439.5,352.5 1440.0,360.0 1435.0,365.0" fill="#fbe100"/><polygon points="1440.0,332.5 1450.0,322.5 1457.5,307.5 1472.5,283.8 1481.2,275.0 1500.0,276.2 1512.5,285.0 1512.5,320.0 1527.5,340.0 1527.5,347.5 1502.5,357.5 1487.5,360.0 1465.0,375.0 1455.0,382.5 1446.2,395.0 1442.5,377.5" fill="#7fae76"/><polygon points="1445.0,332.5 1456.2,320.0 1457.5,308.8 1472.5,285.0 1481.2,275.5 1485.0,281.2 1500.0,277.5 1502.5,290.0 1492.5,310.0 1482.5,325.0 1465.0,335.0 1452.5,345.0 1445.0,355.0 1442.5,342.5" fill="#b0cf45"/><polygon points="1446.2,342.5 1452.5,340.0 1457.5,335.0 1456.2,340.0 1450.0,346.2" fill="#fbe100"/><polygon points="1462.5,342.5 1490.0,335.0 1497.5,345.0 1487.5,360.0 1470.0,367.5 1455.0,380.0 1447.5,392.5 1445.5,370.0 1452.5,357.5" fill="#4a90a0"/><polygon points="1462.5,352.5 1475.0,347.5 1480.0,357.5 1470.0,365.0 1462.5,362.5" fill="#1a70d0"/><polygon points="1446.2,365.0 1457.5,361.2 1462.5,370.0 1453.8,380.0 1447.5,388.8" fill="#1a70d0"/><polygon points="1482.5,363.8 1497.5,357.0 1515.0,351.2 1526.2,346.2 1525.0,350.0 1505.0,360.0 1490.0,367.5" fill="#fbe100"/><polygon points="1495.0,360.5 1502.5,358.8 1501.2,363.8 1496.2,365.0" fill="#dd3a00"/><polygon points="307.5,232.5 475.0,232.5 475.0,420.0 307.5,420.0" fill="#b0cf45"/><polygon points="330.0,272.5 365.0,270.0 375.0,290.0 367.5,307.5 350.0,310.0 332.5,300.0 325.0,287.5" fill="#7fae76"/><polygon points="310.0,250.0 327.5,253.8 345.0,256.2 350.0,267.5 342.5,277.5 332.5,282.5 327.5,300.0 330.0,307.5 325.0,307.5 323.8,290.0 317.5,275.0 311.2,260.0" fill="#fbe100"/><polygon points="323.8,260.0 335.0,257.5 343.8,262.5 345.0,271.2 337.5,275.0 327.5,270.0" fill="#c90000"/><polygon points="358.8,236.2 425.0,236.2 417.5,255.0 405.0,265.0 397.5,280.0 395.0,295.0 392.5,307.5 385.0,315.0 367.5,316.2 355.0,312.5 358.8,300.0 366.2,287.5 368.8,275.0 371.2,262.5 363.8,250.0" fill="#fbe100"/><polygon points="362.5,237.5 417.5,237.5 410.0,252.5 400.0,260.0 392.5,275.0 390.0,290.0 387.5,302.5 382.5,310.0 370.0,312.5 360.0,310.0 362.5,300.0 370.0,287.5 372.5,275.0 375.0,262.5 367.5,250.0" fill="#c90000"/><polygon points="407.5,240.0 430.0,240.0 450.0,262.5 472.5,267.5 473.0,312.5 450.0,313.8 430.0,314.5 410.0,318.8 392.5,312.5 390.0,300.0 398.8,280.0 405.0,262.5" fill="#7fae76"/><polygon points="411.2,242.5 425.0,248.8 440.0,268.8 460.0,271.2 470.0,287.5 472.5,305.0 460.0,310.0 440.0,312.5 420.0,310.0 405.0,312.5 395.0,307.5 393.8,296.2 401.2,281.2 408.8,266.2 413.8,253.8" fill="#1a70d0"/><polygon points="420.0,236.2 473.0,236.2 473.0,285.0 460.0,270.0 440.0,265.0 430.0,250.0" fill="#b0cf45"/><polygon points="425.0,237.5 445.0,237.5 450.0,252.5 440.0,257.5 430.0,247.5" fill="#fbe100"/><polygon points="440.0,238.8 445.0,238.8 442.5,250.0 438.8,250.0" fill="#c90000"/><polygon points="426.2,240.0 430.0,240.0 432.5,248.8 428.8,248.8" fill="#c90000"/><polygon points="466.2,237.5 472.5,237.5 472.5,252.5 467.5,252.5" fill="#c90000"/><polygon points="452.5,255.0 472.5,255.0 472.5,285.0 462.5,272.5 452.5,267.5" fill="#7fae76"/><polygon points="452.5,307.5 472.5,305.0 472.5,313.0 455.0,313.0" fill="#fbe100"/><polygon points="332.5,322.5 350.0,325.0 362.5,335.0 361.2,355.0 358.8,375.0 360.0,400.0 355.0,416.2 322.5,416.2 320.0,402.5 327.5,385.0 335.0,365.0 337.5,342.5" fill="#1a70d0"/><polygon points="327.5,330.0 337.5,327.5 340.0,350.0 337.5,365.0 330.0,385.0 322.5,400.0 318.8,397.5 323.8,365.0 326.2,342.5" fill="#7fae76"/><polygon points="327.0,310.0 337.5,311.2 335.0,330.0 330.0,355.0 325.0,375.0 320.0,390.0 317.0,387.5 323.8,365.0 326.2,330.0" fill="#fbe100"/><polygon points="352.5,322.5 382.5,323.8 405.0,323.8 430.0,316.2 450.0,313.8 472.5,314.5 475.0,320.0 455.0,325.0 435.0,330.0 410.0,335.0 385.0,335.0 375.0,342.5 362.5,335.0" fill="#1a70d0"/><polygon points="382.5,335.0 412.5,335.0 437.5,330.0 460.0,325.0 475.0,321.2 480.0,332.5 472.5,350.0 450.0,365.0 425.0,365.0 400.0,380.0 382.5,400.0 375.0,375.0 377.5,350.0" fill="#7fae76"/><polygon points="382.5,342.5 412.5,337.5 435.0,335.0 455.0,330.0 472.5,325.0 470.0,345.0 450.0,360.0 425.0,361.2 405.0,370.0 385.0,385.0 380.0,365.0" fill="#b0cf45"/><polygon points="362.5,325.0 380.0,325.0 382.5,345.0 377.5,365.0 372.5,385.0 367.5,416.2 356.2,416.2 360.0,390.0 361.2,365.0 362.5,345.0" fill="#fbe100"/><polygon points="367.5,330.0 375.0,325.0 377.5,345.0 372.5,365.0 367.5,385.0 362.5,416.2 359.2,416.2 362.5,390.0 365.0,365.0 367.5,345.0" fill="#c90000"/><polygon points="405.0,350.0 430.0,345.0 450.0,350.0 455.0,360.0 440.0,365.0 430.0,370.0 417.5,370.0 410.0,360.0 395.0,357.5" fill="#fbe100"/><polygon points="372.5,380.0 385.0,375.0 395.0,380.0 390.0,390.0 377.5,392.5" fill="#fbe100"/><polygon points="395.0,353.8 417.5,356.2 416.2,358.8 396.2,356.2" fill="#c90000"/><polygon points="432.5,332.5 450.0,335.0 452.5,345.0 442.5,345.0 435.0,340.0" fill="#c90000"/><polygon points="457.5,330.0 472.5,328.8 475.0,337.5 465.0,341.2 460.0,337.5" fill="#c90000"/><polygon points="435.0,358.8 445.0,357.5 446.2,362.5 436.2,363.8" fill="#c90000"/><polygon points="425.0,335.0 435.0,333.8 436.2,337.5 426.2,338.8" fill="#c90000"/><polygon points="382.5,372.5 387.5,372.5 388.0,377.5 383.2,378.0" fill="#c90000"/><polygon points="388.8,395.0 393.8,393.8 398.8,407.5 393.8,410.0" fill="#c90000"/><polygon points="436.2,398.8 441.2,397.5 440.0,405.0 437.0,405.5" fill="#c90000"/><polygon points="450.0,365.0 472.5,360.0 473.0,417.5 450.0,417.5 435.0,416.2 440.0,400.0 430.0,387.5 440.0,375.0" fill="#1a70d0"/><polygon points="405.0,385.0 430.0,380.0 435.0,395.0 425.0,415.0 405.0,416.2 395.0,400.0" fill="#7fae76"/><polygon points="335.0,385.0 347.5,387.5 345.0,405.0 335.0,407.5" fill="#fbe100"/><polygon points="470.0,235.0 602.5,235.0 602.5,420.0 470.0,420.0" fill="#b0cf45"/><polygon points="570.0,235.0 747.5,235.0 747.5,342.5 600.0,342.5 600.0,300.0 582.5,287.5 575.0,262.5" fill="#7fae76"/><polygon points="590.0,240.0 645.0,240.0 670.0,237.5 747.5,236.2 747.5,341.2 645.0,341.2 630.0,320.0 620.0,307.5 630.0,300.0 645.0,275.0 620.0,270.0 595.0,262.5" fill="#4a90a0"/><polygon points="680.0,237.5 743.8,237.5 743.8,250.0 720.0,255.0 695.0,247.5 685.0,247.5" fill="#7fae76"/><polygon points="657.5,248.8 682.5,245.0 700.0,253.8 717.5,256.2 735.0,251.2 745.0,253.8 745.0,300.0 736.2,308.8 731.2,325.0 720.0,335.0 705.0,338.8 682.5,335.0 665.0,325.0 657.5,310.0 652.5,300.0 645.0,300.0 645.0,275.0 655.0,277.5 642.5,270.0 650.0,257.5" fill="#1a70d0"/><polygon points="595.0,267.5 610.0,262.5 630.0,270.0 620.0,275.0 600.0,275.0" fill="#1a70d0"/><polygon points="705.0,300.0 720.0,285.0 735.0,270.0 737.5,278.8 722.5,292.5 710.0,305.0" fill="#4a90a0"/><polygon points="670.0,280.0 680.0,277.5 690.0,287.5 675.0,290.0" fill="#4a90a0"/><polygon points="495.0,235.0 570.0,235.0 575.0,262.5 580.0,287.5 600.0,300.0 640.0,282.5 645.0,295.0 630.0,305.0 620.0,330.0 640.0,335.0 635.0,342.5 600.0,342.5 595.0,355.0 557.5,357.5 540.0,330.0 530.0,300.0 510.0,285.0 497.5,260.0" fill="#b0cf45"/><polygon points="575.0,262.5 587.5,280.0 610.0,277.5 625.0,275.0 642.5,282.5 630.0,287.5 600.0,300.0 582.5,290.0" fill="#7fae76"/><polygon points="542.5,282.5 570.0,290.0 580.0,300.0 587.5,320.0 575.0,325.0 560.0,300.0 545.0,295.0" fill="#7fae76"/><polygon points="555.0,236.2 572.5,236.2 577.5,262.5 582.5,287.5 572.5,291.2 565.0,275.0 557.5,255.0" fill="#fbe100"/><polygon points="475.0,267.5 495.0,265.0 520.0,290.0 525.0,300.0 510.0,307.5 485.0,300.0 475.0,285.0" fill="#7fae76"/><polygon points="517.6,235.7 557.9,234.5 567.4,253.2 572.4,276.7 574.3,289.9 566.2,292.8 555.2,280.5 542.0,262.1 532.6,248.2" fill="#fbe100"/><polygon points="520.0,237.5 557.5,237.5 565.0,255.0 570.0,275.0 572.5,287.5 565.0,290.0 555.0,277.5 545.0,262.5 535.0,250.0" fill="#c90000"/><polygon points="545.0,237.5 558.8,237.5 563.8,255.0 555.0,252.5" fill="#dd3a00"/><polygon points="535.5,300.3 555.7,297.1 565.1,308.4 561.7,332.4 549.9,338.0 537.6,326.8" fill="#fbe100"/><polygon points="537.5,302.5 555.0,300.0 562.5,310.0 560.0,330.0 550.0,335.0 540.0,325.0" fill="#c90000"/><polygon points="563.0,295.3 576.1,292.2 579.7,312.0 566.5,317.8" fill="#fbe100"/><polygon points="565.0,297.5 575.0,295.0 577.5,310.0 567.5,315.0" fill="#c90000"/><polygon points="595.0,282.1 613.3,279.6 625.4,295.8 616.6,302.6 600.1,299.3" fill="#fbe100"/><polygon points="597.5,283.8 612.5,282.5 622.5,295.0 615.0,300.0 602.5,297.5" fill="#c90000"/><polygon points="609.4,297.1 620.4,310.9 612.9,318.0 603.3,307.1" fill="#fbe100"/><polygon points="610.0,300.0 617.5,310.0 612.5,315.0 606.2,307.5" fill="#c90000"/><polygon points="624.7,290.1 642.8,290.1 641.4,297.6 626.1,297.6" fill="#fbe100"/><polygon points="627.5,291.2 640.0,291.2 638.8,296.2 628.8,296.2" fill="#c90000"/><polygon points="585.2,323.1 606.8,322.6 615.5,335.3 607.2,342.1 590.8,345.0 584.5,335.3" fill="#fbe100"/><polygon points="587.5,325.0 605.0,325.0 612.5,335.0 605.0,340.0 592.5,342.5 587.5,335.0" fill="#c90000"/><polygon points="602.0,335.0 620.0,322.0 638.0,335.0 632.7,341.9 607.3,341.9" fill="#fbe100"/><polygon points="605.0,335.0 620.0,325.0 635.0,335.0 630.0,340.5 610.0,340.5" fill="#c90000"/><polygon points="573.2,320.1 583.4,322.9 584.3,334.9 574.1,332.1" fill="#fbe100"/><polygon points="575.0,322.5 581.2,325.0 582.5,332.5 576.2,330.0" fill="#c90000"/><polygon points="580.3,286.7 589.7,287.0 599.8,304.5 593.2,307.9" fill="#fbe100"/><polygon points="582.5,288.8 590.0,290.0 597.5,302.5 592.5,305.0" fill="#c90000"/><polygon points="557.8,330.4 588.0,342.0 592.9,350.9 569.1,355.4 554.5,345.1" fill="#fbe100"/><polygon points="560.0,332.5 585.0,342.5 590.0,350.0 570.0,352.5 557.5,345.0" fill="#c90000"/><polygon points="496.0,237.4 502.5,237.0 509.0,260.1 502.5,260.5" fill="#fbe100"/><polygon points="497.5,240.0 502.5,240.0 507.5,257.5 502.5,257.5" fill="#c90000"/><polygon points="518.4,260.0 525.8,262.0 536.7,287.5 530.6,287.9" fill="#fbe100"/><polygon points="520.0,262.5 526.2,265.0 535.0,285.0 530.0,285.0" fill="#c90000"/><polygon points="535.9,265.0 542.5,264.5 549.2,285.0 542.5,286.8" fill="#fbe100"/><polygon points="537.5,267.5 542.5,267.5 547.5,282.5 542.5,283.8" fill="#c90000"/><polygon points="474.8,234.9 485.2,234.9 483.4,255.4 476.3,252.7" fill="#fbe100"/><polygon points="476.2,237.5 483.8,237.5 482.5,252.5 477.5,250.0" fill="#c90000"/><polygon points="492.5,280.8 508.1,280.8 520.0,299.1 504.5,300.5" fill="#fbe100"/><polygon points="495.0,282.5 507.5,283.8 517.5,297.5 505.0,297.5" fill="#c90000"/><polygon points="515.2,298.0 530.4,301.7 528.5,309.4 514.8,307.5" fill="#fbe100"/><polygon points="517.5,300.0 527.5,302.5 526.2,307.5 517.5,306.2" fill="#c90000"/><polygon points="485.0,317.5 507.5,310.0 525.0,320.0 537.5,325.0 545.0,335.0 557.5,350.0 563.8,365.0 557.5,380.0 540.0,383.8 517.5,381.2 502.5,375.0 492.5,360.0 485.0,340.0" fill="#fbe100"/><polygon points="490.0,320.0 505.0,315.0 520.0,325.0 532.5,330.0 540.0,335.0 552.5,350.0 557.5,365.0 552.5,375.0 540.0,377.5 520.0,375.0 507.5,370.0 497.5,355.0 490.0,337.5" fill="#c90000"/><polygon points="497.5,325.0 510.0,330.0 520.0,340.0 522.5,345.0 512.5,337.5 500.0,332.5" fill="#4a90a0"/><polygon points="473.8,350.0 487.5,357.5 497.5,372.5 512.5,381.2 535.0,381.2 555.0,371.2 572.5,365.0 587.5,370.0 580.0,387.5 557.5,401.2 532.5,412.5 507.5,415.0 482.5,405.0 473.8,390.0" fill="#7fae76"/><polygon points="473.8,352.5 486.2,358.8 496.2,373.8 511.2,383.8 535.0,383.8 555.0,373.8 571.2,368.8 585.0,372.5 577.5,386.2 556.2,398.8 532.5,410.0 507.5,412.5 483.8,402.5 473.8,387.5" fill="#4a90a0"/><polygon points="473.8,355.0 485.0,360.0 495.0,375.0 510.0,386.2 535.0,386.2 555.0,376.2 570.0,371.2 582.5,373.8 575.0,385.0 555.0,397.5 532.5,407.5 507.5,410.0 485.0,400.0 473.8,385.0" fill="#1a70d0"/><polygon points="473.8,385.0 485.0,400.0 495.0,418.8 473.8,418.8" fill="#1a70d0"/><polygon points="577.5,375.0 597.5,355.0 598.0,418.8 580.0,418.8 582.5,400.0" fill="#fbe100"/><polygon points="590.0,372.5 593.8,372.5 594.2,397.5 591.2,397.5" fill="#c90000"/><polygon points="495.0,410.0 535.0,410.0 570.0,400.0 580.0,418.8 495.0,418.8" fill="#7fae76"/><polygon points="540.0,411.2 547.5,410.0 545.0,418.8 538.8,418.8" fill="#fbe100"/><polygon points="375.0,421.2 408.8,421.2 408.8,467.5 395.0,472.5 382.5,457.5 375.0,440.0" fill="#7fae76"/><polygon points="380.0,442.5 392.5,437.5 400.0,447.5 395.0,460.0 385.0,457.5" fill="#b0cf45"/><polygon points="377.5,455.0 390.0,452.5 392.5,462.5 382.5,465.0" fill="#fbe100"/><polygon points="361.2,430.0 368.8,430.0 370.0,436.2 362.5,436.2" fill="#c90000"/><polygon points="376.2,456.2 385.0,455.0 385.0,461.2 377.5,462.5" fill="#c90000"/><polygon points="332.5,427.5 350.0,430.0 357.5,445.0 345.0,447.5 335.0,440.0" fill="#fbe100"/><polygon points="321.2,447.5 332.5,452.5 337.5,465.0 325.0,465.0 318.8,457.5" fill="#b0cf45"/><polygon points="319.5,455.0 325.0,456.2 325.0,463.8 319.5,462.5" fill="#fbe100"/><polygon points="350.0,447.5 370.0,447.5 377.5,465.0 387.5,485.0 395.0,505.0 405.0,520.0 417.5,535.0 430.0,547.5 440.0,565.0 443.8,585.0 445.0,605.0 430.0,612.5 412.5,605.0 400.0,590.0 392.5,572.5 382.5,552.5 373.8,535.0 363.8,520.0 355.0,500.0 348.8,480.0 346.2,462.5" fill="#b0cf45"/><polygon points="351.2,448.8 368.8,450.0 375.0,465.0 383.8,480.0 390.0,497.5 396.2,512.5 406.2,525.0 416.2,537.5 428.8,551.2 437.5,565.0 440.0,580.0 442.5,601.2 430.0,608.8 416.2,601.2 402.5,587.5 395.0,571.2 385.0,551.2 376.2,535.0 366.2,520.0 358.0,500.0 351.2,480.0 348.8,462.5" fill="#fbe100"/><polygon points="358.8,448.8 367.5,452.5 372.5,465.0 380.0,480.0 386.2,497.5 392.5,512.5 402.5,525.0 412.5,537.5 425.0,551.2 433.8,565.0 436.2,580.0 438.8,600.0 430.0,605.0 417.5,597.5 405.0,585.0 397.5,570.0 387.5,550.0 380.0,535.0 370.0,520.0 361.2,500.0 353.8,480.0 351.2,462.5 353.8,452.5" fill="#c90000"/><polygon points="367.5,513.8 382.5,511.2 386.2,517.5 380.0,523.8 370.0,522.5" fill="#fbe100"/><polygon points="375.0,510.0 387.5,512.5 400.0,525.0 405.0,535.0 395.0,532.5 385.0,522.5" fill="#e67300"/><polygon points="392.5,475.0 402.5,482.5 410.0,497.5 420.0,510.0 432.5,525.0 445.0,540.0 460.0,557.5 475.0,575.0 465.0,577.5 447.5,560.0 432.5,542.5 417.5,525.0 405.0,510.0 397.5,495.0" fill="#fbe100"/><polygon points="395.0,480.0 405.0,490.0 410.0,502.5 420.0,515.0 430.0,527.5 440.0,540.0 450.0,555.0 460.0,570.0 450.0,565.0 435.0,545.0 420.0,525.0 407.5,510.0 400.0,495.0" fill="#c90000"/><polygon points="436.2,601.2 447.5,575.0 460.0,567.5 470.0,552.5 482.5,546.2 500.0,541.2 515.0,536.2 525.0,533.8 525.0,545.0 475.0,555.0 455.0,580.0 442.5,605.0" fill="#fbe100"/><polygon points="438.8,600.0 450.0,575.0 460.0,570.0 472.5,555.0 485.0,550.0 500.0,545.0 515.0,540.0 525.0,537.5 525.0,638.0 445.0,638.0 435.0,630.0 430.0,620.0 435.0,612.5" fill="#c90000"/><polygon points="410.0,575.0 430.0,590.0 450.0,590.0 460.0,600.0 450.0,610.0 430.0,610.0 415.0,595.0" fill="#c90000"/><polygon points="436.2,565.0 450.0,567.5 452.5,585.0 445.0,600.0 438.8,600.0 437.0,580.0" fill="#1a70d0"/><polygon points="495.0,565.0 502.5,562.5 507.5,575.0 500.0,577.5" fill="#1a70d0"/><polygon points="510.0,552.5 513.8,551.2 515.0,565.0 511.2,566.2" fill="#1a70d0"/><polygon points="466.2,555.0 475.0,560.0 478.8,575.0 485.0,585.0 482.5,587.5 475.0,577.5 472.5,565.0 466.2,560.0" fill="#4d4d4d"/><polygon points="475.0,575.0 490.0,585.0 493.8,600.0 490.0,598.8 486.2,587.5 476.2,578.8" fill="#b3b3b3"/><polygon points="395.0,600.0 412.5,605.0 430.0,612.5 435.0,620.0 430.0,627.5 417.5,620.0 400.0,617.5" fill="#1a70d0"/><polygon points="398.8,607.5 410.0,608.8 425.0,615.0 430.0,622.5 420.0,620.0 405.0,615.0" fill="#b0cf45"/><polygon points="420.0,612.5 432.5,615.0 435.0,620.5 425.0,618.8" fill="#fbe100"/><polygon points="405.0,597.5 417.5,601.2 420.0,608.8 410.0,611.2" fill="#fbe100"/><polygon points="410.0,600.0 417.5,598.8 420.0,605.0 412.5,606.2" fill="#dd3a00"/><polygon points="451.0,446.0 454.2,443.9 454.7,440.2 451.6,442.3" fill="#fbe100"/><polygon points="482.5,537.6 484.6,534.4 483.8,530.7 481.8,533.9" fill="#b0cf45"/><polygon points="423.1,478.8 426.5,476.8 428.1,473.1 424.7,475.1" fill="#7fae76"/><polygon points="522.9,502.6 526.9,494.6 528.9,485.9 524.9,493.9" fill="#b0cf45"/><polygon points="448.4,447.1 450.7,442.5 449.4,437.5 447.1,442.1" fill="#b0cf45"/><polygon points="426.5,497.1 428.7,493.8 427.6,490.0 425.4,493.3" fill="#7fae76"/><polygon points="418.9,454.3 423.1,450.5 425.1,445.1 420.9,449.0" fill="#7fae76"/><polygon points="522.2,472.4 524.8,468.8 523.9,464.4 521.3,468.0" fill="#b0cf45"/><polygon points="477.1,493.4 483.1,488.9 487.3,482.7 481.3,487.1" fill="#b0cf45"/><polygon points="426.4,478.3 430.0,476.1 431.2,472.1 427.6,474.3" fill="#b0cf45"/><polygon points="523.9,441.1 529.2,435.2 531.2,427.5 525.9,433.5" fill="#fbe100"/><polygon points="493.6,501.3 498.0,497.2 499.1,491.3 494.7,495.4" fill="#fbe100"/><polygon points="470.1,511.9 472.1,504.8 470.9,497.5 468.8,504.6" fill="#4a90a0"/><polygon points="446.6,473.9 449.5,472.1 450.0,468.7 447.1,470.5" fill="#b0cf45"/><polygon points="485.6,488.9 488.2,484.6 487.4,479.6 484.8,483.9" fill="#4a90a0"/><polygon points="460.3,535.3 462.3,529.7 461.1,523.9 459.2,529.5" fill="#b0cf45"/><polygon points="509.5,534.0 512.2,529.0 512.2,523.3 509.5,528.4" fill="#4a90a0"/><polygon points="526.4,447.5 528.3,443.3 527.7,438.8 525.8,442.9" fill="#4a90a0"/><polygon points="511.3,450.6 513.7,447.3 513.2,443.1 510.7,446.5" fill="#7fae76"/><polygon points="477.8,544.4 482.6,540.3 484.7,534.4 479.9,538.5" fill="#b0cf45"/><polygon points="463.2,534.3 469.5,530.7 473.7,524.7 467.4,528.4" fill="#4a90a0"/><polygon points="459.9,440.3 462.6,438.0 463.5,434.6 460.8,436.9" fill="#b0cf45"/><polygon points="464.7,441.3 467.9,439.0 468.4,435.1 465.2,437.4" fill="#7fae76"/><polygon points="426.7,476.9 428.5,468.7 427.1,460.4 425.3,468.6" fill="#b0cf45"/><polygon points="486.3,544.7 490.2,540.2 492.2,534.6 488.3,539.1" fill="#4a90a0"/><polygon points="529.8,484.1 532.2,481.4 532.6,477.7 530.2,480.5" fill="#fbe100"/><polygon points="498.2,487.5 502.6,483.1 505.1,477.4 500.6,481.8" fill="#7fae76"/><polygon points="451.9,513.1 458.2,508.7 462.7,502.5 456.4,506.9" fill="#b0cf45"/><polygon points="495.2,460.1 498.1,456.9 497.7,452.5 494.8,455.8" fill="#7fae76"/><polygon points="474.8,491.0 479.9,486.3 481.9,479.6 476.8,484.4" fill="#b0cf45"/><polygon points="506.7,526.7 510.5,524.1 511.9,519.7 508.1,522.3" fill="#fbe100"/><polygon points="506.3,488.2 508.8,481.9 508.6,475.1 506.1,481.4" fill="#fbe100"/><polygon points="525.9,473.0 527.9,469.0 527.6,464.5 525.6,468.5" fill="#b0cf45"/><polygon points="482.8,428.8 487.6,426.4 490.0,421.7 485.2,424.1" fill="#b0cf45"/><polygon points="517.9,523.5 522.4,519.6 525.0,514.2 520.5,518.2" fill="#fbe100"/><polygon points="497.3,483.4 500.4,481.3 501.6,477.8 498.5,479.9" fill="#b0cf45"/><polygon points="415.5,502.3 419.7,496.5 421.0,489.5 416.7,495.3" fill="#7fae76"/><polygon points="527.8,509.9 530.8,504.2 531.6,497.9 528.6,503.5" fill="#b0cf45"/><polygon points="507.9,519.6 509.7,512.3 509.2,504.7 507.4,512.1" fill="#b0cf45"/><polygon points="510.6,455.0 512.9,450.6 512.7,445.7 510.4,450.1" fill="#7fae76"/><polygon points="450.9,492.8 454.4,491.5 455.4,487.8 451.8,489.2" fill="#4a90a0"/><polygon points="489.0,530.0 494.2,523.6 496.0,515.6 490.8,522.0" fill="#b0cf45"/><polygon points="477.1,493.5 478.4,487.8 477.3,482.2 476.0,487.8" fill="#b0cf45"/><polygon points="505.0,449.6 506.9,443.1 506.6,436.3 504.7,442.8" fill="#b0cf45"/><polygon points="449.5,494.0 454.1,487.7 456.7,480.4 452.2,486.7" fill="#7fae76"/><polygon points="421.5,451.5 423.1,448.0 421.8,444.4 420.2,447.9" fill="#b0cf45"/><polygon points="501.4,540.7 505.3,535.1 506.4,528.3 502.5,533.9" fill="#7fae76"/><polygon points="435.0,465.3 439.7,458.9 441.7,451.2 437.0,457.6" fill="#b0cf45"/><polygon points="493.5,533.3 497.9,531.3 500.1,527.1 495.7,529.0" fill="#b0cf45"/><polygon points="512.7,447.1 514.3,441.6 513.9,435.8 512.2,441.3" fill="#b0cf45"/><polygon points="464.1,454.1 466.8,451.0 466.1,446.9 463.4,450.1" fill="#fbe100"/><polygon points="524.2,455.0 529.2,452.4 532.2,447.7 527.2,450.3" fill="#b0cf45"/><polygon points="431.7,481.3 435.0,477.3 436.1,472.2 432.8,476.3" fill="#fbe100"/><polygon points="424.1,474.4 427.4,469.4 427.5,463.4 424.2,468.4" fill="#4a90a0"/><polygon points="452.3,502.9 455.6,500.7 455.2,496.8 452.0,499.0" fill="#b0cf45"/><polygon points="527.9,440.7 530.4,438.0 529.4,434.4 527.0,437.2" fill="#fbe100"/><polygon points="498.7,528.6 504.9,524.7 508.2,518.2 502.0,522.1" fill="#4a90a0"/><polygon points="481.5,512.4 483.4,509.2 482.0,505.7 480.1,508.9" fill="#4a90a0"/><polygon points="519.7,460.8 521.0,457.3 519.8,453.7 518.5,457.3" fill="#7fae76"/><polygon points="511.3,437.2 516.2,433.9 519.1,428.8 514.2,432.1" fill="#7fae76"/><polygon points="462.2,537.6 465.3,535.7 465.6,532.1 462.4,534.0" fill="#b0cf45"/><polygon points="527.0,464.9 530.0,456.7 529.8,447.9 526.8,456.2" fill="#7fae76"/><polygon points="502.1,463.5 505.1,460.4 505.6,456.1 502.6,459.2" fill="#b0cf45"/><polygon points="531.3,435.5 533.3,429.5 531.5,423.4 529.4,429.4" fill="#7fae76"/><polygon points="469.8,545.0 472.0,537.3 471.3,529.3 469.1,537.0" fill="#4a90a0"/><polygon points="475.2,534.9 479.7,532.6 482.5,528.4 478.1,530.7" fill="#b0cf45"/><polygon points="451.2,530.4 456.2,525.7 459.0,519.3 454.0,524.1" fill="#fbe100"/><polygon points="529.8,532.2 531.8,525.5 530.0,518.7 528.0,525.4" fill="#4a90a0"/><polygon points="428.6,441.2 435.3,436.3 439.6,429.0 432.9,434.0" fill="#fbe100"/><polygon points="484.9,512.2 486.3,508.2 485.2,504.0 483.8,508.1" fill="#b0cf45"/><polygon points="526.9,499.2 530.1,490.9 530.7,482.1 527.5,490.4" fill="#fbe100"/><polygon points="436.1,469.9 438.1,465.4 436.7,460.6 434.8,465.1" fill="#b0cf45"/><polygon points="473.2,429.0 475.4,425.9 474.9,422.1 472.7,425.3" fill="#b0cf45"/><polygon points="459.3,463.9 462.8,462.0 462.9,458.0 459.4,459.9" fill="#b0cf45"/><polygon points="488.2,514.8 492.9,511.8 495.6,507.1 491.0,510.0" fill="#4a90a0"/><polygon points="430.8,514.7 434.0,512.9 434.2,509.1 430.9,510.9" fill="#7fae76"/><polygon points="485.9,516.0 489.6,514.1 490.9,510.2 487.2,512.1" fill="#7fae76"/><polygon points="481.4,529.7 483.3,522.6 481.6,515.4 479.7,522.5" fill="#b0cf45"/><polygon points="420.3,437.5 426.1,430.8 429.6,422.6 423.8,429.3" fill="#4a90a0"/><polygon points="476.7,506.4 481.6,501.1 484.0,494.3 479.1,499.6" fill="#b0cf45"/><polygon points="462.4,439.2 469.2,434.2 474.6,427.7 467.7,432.6" fill="#7fae76"/><polygon points="442.8,441.1 445.7,434.2 446.2,426.8 443.3,433.7" fill="#4a90a0"/><polygon points="469.9,477.4 474.4,471.6 475.7,464.4 471.2,470.2" fill="#7fae76"/><polygon points="487.7,451.1 489.8,449.2 490.4,446.5 488.3,448.4" fill="#c90000"/><polygon points="486.5,443.7 488.6,441.4 488.9,438.3 486.8,440.6" fill="#c90000"/><polygon points="495.2,509.0 496.7,506.3 496.7,503.1 495.2,505.9" fill="#c90000"/><polygon points="479.0,465.3 480.0,462.5 479.5,459.5 478.5,462.3" fill="#c90000"/><polygon points="466.9,461.1 468.3,457.4 468.3,453.4 466.9,457.1" fill="#c90000"/><polygon points="429.9,489.4 432.2,488.6 433.3,486.4 431.0,487.2" fill="#c90000"/><polygon points="518.0,513.1 519.5,509.6 519.5,505.7 518.0,509.2" fill="#c90000"/><polygon points="493.1,475.9 495.4,474.1 496.4,471.4 494.1,473.2" fill="#c90000"/><polygon points="511.1,428.1 513.8,425.6 515.5,422.3 512.8,424.8" fill="#c90000"/><polygon points="497.7,535.8 499.2,533.4 499.1,530.5 497.7,533.0" fill="#c90000"/><polygon points="456.7,478.4 457.8,476.5 457.7,474.3 456.6,476.2" fill="#c90000"/><polygon points="487.1,444.8 489.8,443.4 491.4,441.0 488.8,442.3" fill="#c90000"/><polygon points="506.8,479.9 507.6,476.3 507.0,472.8 506.1,476.3" fill="#c90000"/><polygon points="497.5,433.3 499.9,431.5 500.9,428.6 498.5,430.4" fill="#c90000"/><polygon points="470.7,536.5 472.5,534.8 472.9,532.4 471.1,534.1" fill="#c90000"/><polygon points="412.5,422.5 430.0,422.5 435.0,435.0 425.0,447.5 415.0,440.0" fill="#b0cf45"/><polygon points="447.5,477.5 458.8,468.8 462.5,472.5 451.2,487.5" fill="#fbe100"/><polygon points="425.0,475.0 435.0,475.0 440.0,487.5 430.0,492.5" fill="#b0cf45"/><polygon points="505.0,455.0 512.5,445.0 515.0,448.8 507.5,461.2" fill="#c90000"/><polygon points="487.5,422.5 507.5,422.5 512.5,435.0 500.0,440.0 490.0,435.0" fill="#fbe100"/><polygon points="599.5,415.0 745.0,415.0 745.0,444.5 599.5,444.5" fill="#b0cf45"/><polygon points="625.0,417.5 670.0,416.2 695.0,425.0 692.5,437.5 660.0,435.0 627.5,437.5" fill="#7fae76"/><polygon points="600.0,415.0 615.0,415.0 612.5,430.0 625.0,440.0 600.0,444.5" fill="#fbe100"/><polygon points="603.8,415.0 611.2,415.0 610.0,420.0 605.0,420.5" fill="#c90000"/><polygon points="692.5,420.0 720.0,417.5 722.5,430.0 715.0,442.5 695.0,440.0" fill="#fbe100"/><polygon points="700.0,421.2 711.2,420.0 712.5,430.0 702.5,431.2" fill="#7fae76"/><polygon points="703.8,423.0 708.0,423.0 708.0,427.0 703.8,427.0" fill="#1a70d0"/><polygon points="692.5,432.5 702.5,431.2 706.2,444.5 695.0,444.5" fill="#c90000"/><polygon points="722.5,425.0 745.0,422.5 745.0,444.5 725.0,444.5" fill="#7fae76"/><polygon points="720.0,415.0 745.0,415.0 745.0,425.0 730.0,427.5" fill="#1a70d0"/><polygon points="538.8,440.0 575.0,437.5 585.0,452.5 575.0,477.5 557.5,480.0 540.0,470.0" fill="#4a90a0"/><polygon points="540.0,450.0 550.0,447.5 555.0,462.5 547.5,475.0 541.2,465.0" fill="#b0cf45"/><polygon points="555.0,440.0 570.0,438.8 577.5,452.5 567.5,465.0 557.5,460.0" fill="#7fae76"/><polygon points="582.5,422.5 596.2,422.5 598.0,447.5 603.8,460.0 598.8,477.5 593.8,497.5 586.2,515.0 581.2,530.0 571.2,535.0 567.5,525.0 577.5,510.0 585.0,490.0 587.5,470.0 585.0,447.5" fill="#fbe100"/><polygon points="578.8,430.0 583.8,430.0 586.2,465.0 583.8,490.0 576.2,510.0 570.0,520.0 573.8,502.5 581.2,477.5 582.5,452.5" fill="#b0cf45"/><polygon points="585.5,425.0 590.0,425.0 591.2,445.0 587.0,445.0" fill="#c90000"/><polygon points="591.2,477.5 597.5,476.2 595.0,490.0 588.8,497.5 587.5,490.0" fill="#c90000"/><polygon points="582.5,505.0 591.2,505.0 592.5,511.2 583.8,512.5" fill="#c90000"/><polygon points="581.2,520.0 592.5,521.2 591.2,526.2 581.2,526.2" fill="#c90000"/><polygon points="568.8,512.5 572.5,512.5 573.0,521.2 568.8,521.2" fill="#c90000"/><polygon points="555.0,528.8 568.8,527.5 567.5,540.0 555.0,541.2" fill="#fbe100"/><polygon points="557.5,531.2 566.2,530.0 565.0,537.5 557.5,538.8" fill="#c90000"/><polygon points="595.0,446.2 635.0,446.2 637.5,456.2 622.5,461.2 603.8,468.8 595.0,465.0" fill="#fbe100"/><polygon points="597.5,448.8 632.5,448.8 635.0,455.0 620.0,458.8 602.5,465.0 595.0,462.5" fill="#c90000"/><polygon points="608.8,497.5 630.0,491.2 639.5,488.8 639.5,510.0 632.5,517.5 623.8,526.2 620.0,535.0 630.0,538.8 639.5,543.8 639.5,551.2 577.5,551.2 590.0,542.5 597.5,532.5 601.2,525.0 593.8,520.0 596.2,510.0 607.5,506.2" fill="#fbe100"/><polygon points="612.5,500.0 630.0,495.0 638.8,492.5 638.8,507.5 630.0,515.0 620.0,525.0 615.0,535.0 625.0,540.0 637.5,545.0 630.0,550.0 605.0,550.0 595.0,545.0 602.5,535.0 605.0,525.0 597.5,520.0 600.0,512.5 610.0,510.0" fill="#e67300"/><polygon points="620.0,502.5 632.5,497.5 637.5,500.0 630.0,512.5 620.0,522.5 615.0,532.5 620.0,540.0 607.5,547.5 597.5,545.0 605.0,535.0 608.8,525.0 613.8,515.0" fill="#c90000"/><polygon points="602.5,520.0 607.5,520.0 608.0,526.2 603.0,526.2" fill="#1a70d0"/><polygon points="520.0,542.5 552.5,543.8 557.5,547.5 550.0,552.0 520.0,552.0" fill="#c90000"/><polygon points="602.5,482.5 610.0,485.0 620.0,490.0 615.0,495.0 605.0,490.0" fill="#fbe100"/><polygon points="555.7,516.3 558.8,514.5 560.0,511.0 556.9,512.9" fill="#7fae76"/><polygon points="569.3,510.0 569.8,505.2 568.7,500.5 568.2,505.3" fill="#4a90a0"/><polygon points="572.4,484.5 574.1,479.5 573.6,474.2 572.0,479.2" fill="#fbe100"/><polygon points="553.5,449.4 555.6,446.3 555.8,442.5 553.7,445.6" fill="#fbe100"/><polygon points="592.5,518.8 594.4,515.2 594.0,511.1 592.1,514.7" fill="#4a90a0"/><polygon points="555.1,519.6 557.2,515.5 557.4,510.9 555.2,515.0" fill="#fbe100"/><polygon points="544.8,537.3 546.6,532.8 546.3,527.9 544.5,532.4" fill="#7fae76"/><polygon points="591.3,532.3 592.2,529.5 590.5,527.2 589.7,529.9" fill="#4a90a0"/><polygon points="598.7,489.5 599.5,483.6 597.5,478.1 596.7,483.9" fill="#4a90a0"/><polygon points="598.6,457.8 599.5,454.7 598.1,451.8 597.2,454.9" fill="#b0cf45"/><polygon points="594.5,516.4 597.5,512.0 598.5,506.8 595.5,511.2" fill="#b0cf45"/><polygon points="539.2,442.6 541.3,440.5 540.9,437.6 538.9,439.7" fill="#fbe100"/><polygon points="576.5,493.5 578.4,488.6 578.7,483.3 576.8,488.2" fill="#7fae76"/><polygon points="570.9,498.2 572.7,495.1 572.0,491.7 570.3,494.8" fill="#b0cf45"/><polygon points="572.0,548.2 573.6,544.7 572.5,541.0 570.9,544.5" fill="#fbe100"/><polygon points="568.3,459.0 569.8,453.2 568.8,447.3 567.2,453.1" fill="#7fae76"/><polygon points="540.6,452.2 544.0,448.8 546.0,444.4 542.6,447.8" fill="#fbe100"/><polygon points="580.0,538.6 581.0,536.0 580.1,533.4 579.0,536.0" fill="#4a90a0"/><polygon points="562.3,476.0 563.1,472.3 561.1,469.1 560.4,472.8" fill="#b0cf45"/><polygon points="551.8,546.7 553.2,541.5 552.8,536.0 551.4,541.3" fill="#fbe100"/><polygon points="556.3,536.4 557.1,531.6 555.5,527.1 554.7,531.8" fill="#fbe100"/><polygon points="569.7,538.8 570.5,534.1 568.5,529.7 567.7,534.4" fill="#b0cf45"/><polygon points="552.9,544.6 553.6,541.9 552.6,539.2 552.0,541.9" fill="#4a90a0"/><polygon points="566.7,513.3 567.8,510.5 567.3,507.6 566.2,510.4" fill="#fbe100"/><polygon points="556.7,451.4 560.4,447.7 562.8,443.2 559.1,446.8" fill="#4a90a0"/><polygon points="589.7,546.0 591.1,543.4 591.0,540.4 589.6,543.0" fill="#b0cf45"/><polygon points="561.5,545.5 562.0,539.6 560.7,533.8 560.2,539.7" fill="#7fae76"/><polygon points="584.7,464.5 587.2,462.7 587.5,459.6 585.0,461.4" fill="#fbe100"/><polygon points="562.4,539.1 563.8,535.3 562.3,531.6 560.9,535.3" fill="#b0cf45"/><polygon points="576.5,458.4 578.9,455.1 579.3,451.1 576.9,454.4" fill="#4a90a0"/><polygon points="543.5,540.5 545.2,535.5 544.0,530.3 542.3,535.3" fill="#7fae76"/><polygon points="560.2,467.3 562.8,466.0 563.4,463.1 560.7,464.4" fill="#7fae76"/><polygon points="593.4,464.8 596.7,461.3 597.5,456.6 594.2,460.1" fill="#b0cf45"/><polygon points="540.1,458.7 542.9,453.4 542.8,447.4 540.0,452.7" fill="#4a90a0"/><polygon points="585.9,537.2 588.4,535.2 588.9,532.1 586.4,534.1" fill="#b0cf45"/><polygon points="585.5,518.1 589.2,514.2 590.8,509.2 587.1,513.0" fill="#7fae76"/><polygon points="589.4,484.3 592.7,480.8 593.9,476.3 590.7,479.7" fill="#4a90a0"/><polygon points="585.5,457.3 586.3,454.5 584.9,452.1 584.0,454.8" fill="#7fae76"/><polygon points="549.9,478.9 550.9,476.1 549.4,473.4 548.4,476.3" fill="#fbe100"/><polygon points="544.0,488.5 546.6,485.2 547.5,481.1 544.9,484.4" fill="#4a90a0"/><polygon points="567.6,534.5 568.6,532.0 567.7,529.4 566.7,531.9" fill="#c90000"/><polygon points="586.6,462.3 587.5,460.3 586.9,458.2 586.1,460.2" fill="#c90000"/><polygon points="551.9,456.5 552.9,454.7 552.0,452.9 551.0,454.7" fill="#c90000"/><polygon points="558.0,474.5 560.1,473.0 561.2,470.6 559.0,472.1" fill="#c90000"/><polygon points="579.4,546.4 580.1,543.8 579.0,541.5 578.3,544.0" fill="#c90000"/><polygon points="594.7,431.6 595.5,429.9 595.0,428.1 594.2,429.8" fill="#c90000"/><polygon points="594.5,471.7 596.4,470.1 597.1,467.7 595.2,469.3" fill="#c90000"/><polygon points="545.7,498.3 547.0,496.8 547.0,494.7 545.6,496.3" fill="#c90000"/><polygon points="543.1,547.9 543.6,544.8 542.2,542.0 541.7,545.1" fill="#c90000"/><polygon points="588.7,476.8 589.8,474.2 589.5,471.4 588.5,474.0" fill="#c90000"/><polygon points="670.0,447.5 680.0,438.8 695.0,430.0 707.5,438.8 716.2,450.0 721.2,465.0 721.2,490.0 727.5,500.0 725.0,510.0 717.5,512.5 727.5,527.5 732.5,540.0 727.5,551.2 695.0,552.0 682.5,543.8 667.5,543.8 656.2,540.0 650.0,530.0 658.8,520.0 672.5,517.5 676.2,510.0 670.0,500.0 660.0,502.5 657.5,495.0 672.5,490.0 667.5,480.0 668.8,468.8 680.0,465.0" fill="#fbe100"/><polygon points="650.0,477.5 667.5,480.0 672.5,490.0 657.5,495.0 645.0,490.0" fill="#b0cf45"/><polygon points="645.0,500.0 660.0,502.5 670.0,510.0 662.5,520.0 650.0,515.0" fill="#b0cf45"/><polygon points="680.0,440.0 695.0,432.5 705.0,440.0 712.5,450.0 717.5,465.0 717.5,490.0 712.5,510.0 705.0,515.0 700.0,525.0 705.0,535.0 700.0,547.5 692.5,550.0 685.0,540.0 670.0,540.0 660.0,537.5 655.0,530.0 662.5,522.5 675.0,520.0 680.0,510.0 675.0,500.0 682.5,490.0 692.5,485.0 690.0,472.5 682.5,465.0 685.0,452.5" fill="#c90000"/><polygon points="692.5,450.0 710.0,450.0 715.0,480.0 707.5,497.5 695.0,490.0 700.0,475.0 692.5,465.0" fill="#dd3a00"/><polygon points="670.0,470.0 685.0,467.5 687.5,477.5 675.0,482.5" fill="#c90000"/><polygon points="660.0,495.0 675.0,492.5 676.2,498.8 662.5,501.2" fill="#c90000"/><polygon points="700.0,525.0 717.5,522.5 720.0,540.0 715.0,550.0 705.0,547.5" fill="#7fae76"/><polygon points="706.2,513.8 710.0,512.5 720.0,527.5 727.5,540.0 723.8,550.0 717.5,532.5" fill="#c90000"/><polygon points="720.0,497.5 726.2,498.8 727.0,508.8 721.2,508.8" fill="#c90000"/><polygon points="727.5,490.0 740.0,490.0 741.2,502.5 728.8,502.5" fill="#4a90a0"/><polygon points="535.0,553.8 557.5,553.8 551.2,565.0 557.5,575.0 551.2,585.0 557.5,598.8 573.8,607.5 586.2,613.8 598.8,638.0 520.0,638.0 520.0,553.8" fill="#fbe100"/><polygon points="520.0,555.0 552.5,555.0 545.0,565.0 552.5,575.0 545.0,585.0 552.5,600.0 570.0,610.0 582.5,615.0 595.0,638.0 520.0,638.0" fill="#c90000"/><polygon points="547.5,577.5 562.5,575.0 582.5,580.0 585.0,590.0 570.0,605.0 555.0,597.5 547.5,587.5" fill="#1a70d0"/><polygon points="543.8,571.2 565.0,568.8 582.5,576.2 596.2,566.2 603.8,558.8 605.0,555.0 577.5,554.5 582.5,565.0 565.0,562.5 546.2,564.5" fill="#fbe100"/><polygon points="545.0,569.5 565.0,566.5 582.5,574.0 595.0,564.5 600.0,558.0 595.0,556.2 582.5,564.5 565.0,562.0 547.5,565.5" fill="#c90000"/><polygon points="578.8,555.0 603.8,554.5 602.5,560.0 582.5,562.5" fill="#c90000"/><polygon points="612.5,555.0 630.0,555.0 632.5,575.0 625.0,570.0" fill="#b0cf45"/><polygon points="617.5,555.0 627.5,555.0 630.0,570.0 622.5,565.0" fill="#fbe100"/><polygon points="582.5,572.5 595.0,573.8 607.5,590.0 622.5,601.2 637.5,607.5 640.0,617.5 630.0,621.2 612.5,615.0 597.5,607.5 586.2,592.5" fill="#b0cf45"/><polygon points="583.8,575.0 595.0,576.2 606.2,592.5 621.2,603.8 633.8,610.0 638.8,616.2 630.0,618.8 613.8,613.8 598.8,606.2 588.8,591.2" fill="#fbe100"/><polygon points="586.2,577.5 595.0,578.8 605.0,595.0 620.0,605.5 631.2,611.2 630.0,616.2 615.0,612.0 600.0,603.8 591.2,590.0" fill="#e67300"/><polygon points="561.2,598.8 578.8,603.8 588.8,618.8 596.2,638.0 568.8,638.0 563.8,620.0" fill="#fbe100"/><polygon points="565.0,602.5 576.2,606.2 585.0,620.0 592.5,638.0 572.5,638.0 567.5,620.0" fill="#c90000"/><polygon points="625.0,625.0 636.2,625.0 637.5,638.0 626.2,638.0" fill="#fbe100"/><polygon points="576.2,592.5 585.0,591.2 586.2,597.5 577.5,598.8" fill="#7fae76"/><polygon points="465.0,541.2 482.5,548.8 495.0,546.2 507.5,537.5 520.0,534.5 531.2,541.2 535.5,545.0 535.5,550.0 470.0,550.0" fill="#fbe100"/><polygon points="467.5,543.8 482.5,551.2 495.0,548.8 507.5,540.0 520.0,537.5 530.0,543.8 535.5,547.5 535.5,575.0 525.0,575.0 520.8,576.2 521.2,600.0 495.0,575.0" fill="#c90000"/><polygon points="470.0,545.0 485.0,552.5 492.5,550.0 480.0,543.8" fill="#e67300"/><polygon points="510.0,550.0 513.8,550.0 515.0,565.0 510.5,566.2" fill="#1a70d0"/><polygon points="495.0,566.2 505.0,567.5 506.2,575.0 500.0,575.0" fill="#1a70d0"/><polygon points="420.0,575.0 495.0,575.0 522.5,602.5 533.8,622.5 525.0,637.5 520.0,650.0 520.0,665.5 471.2,670.0 445.0,640.0 420.0,620.0" fill="#c90000"/><polygon points="536.2,552.5 557.5,547.5 540.0,560.0 545.0,575.0 540.0,585.0 550.0,595.0 555.0,610.0 570.0,617.5 580.0,607.5 590.0,625.0 600.0,640.0 620.0,642.5 627.5,650.0 641.0,645.0 641.0,702.5 597.5,702.5 520.0,672.5 520.0,665.0 526.2,658.8 522.5,655.0 521.2,647.5 525.0,637.5 527.5,628.8 533.8,622.5 530.0,617.5 525.0,610.0 522.5,602.5 521.2,587.5 520.8,576.2 525.0,575.0 531.2,577.5 535.5,575.0" fill="#c90000"/><polygon points="560.0,598.8 576.2,601.2 582.5,612.5 580.0,620.0 570.0,620.0 562.5,611.2" fill="#fbe100"/><polygon points="570.0,607.5 578.8,610.0 580.0,617.5 572.5,617.5" fill="#c90000"/><polygon points="493.8,615.0 505.0,617.5 515.0,622.5 525.0,625.0 527.5,635.0 520.0,650.0 515.0,652.5 507.5,635.0 500.0,625.0" fill="#b3b3b3"/><polygon points="558.8,642.5 570.0,637.5 582.5,642.5 588.8,650.0 582.5,660.0 580.0,675.0 575.0,677.5 572.5,662.5 562.5,655.0 558.8,650.0" fill="#b3b3b3"/><polygon points="521.2,662.5 530.0,655.0 555.0,655.0 560.0,660.0 552.5,675.0 540.0,675.0 530.0,672.5 522.5,670.0" fill="#b3b3b3"/><polygon points="527.5,627.5 537.5,630.0 538.8,640.0 531.2,642.5" fill="#b3b3b3"/><polygon points="569.5,655.0 573.0,655.0 573.0,658.8 569.5,658.8" fill="#4d4d4d"/><polygon points="575.5,669.5 578.5,669.5 578.5,673.8 575.5,673.8" fill="#4d4d4d"/><polygon points="467.5,556.2 473.8,558.8 478.8,575.0 476.2,576.2 471.2,565.0 467.0,560.0" fill="#4d4d4d"/><polygon points="477.5,575.0 487.5,582.5 493.8,598.8 491.2,599.5 485.5,586.2 477.0,579.5" fill="#b3b3b3"/><polygon points="420.0,603.0 435.0,609.2 450.0,615.5 470.0,620.5 480.5,628.8 479.0,633.0 468.8,629.0 450.0,623.0 435.0,618.0 420.0,613.0" fill="#fbe100"/><polygon points="420.0,605.5 433.8,611.2 448.8,617.5 468.8,623.0 477.5,629.5 468.8,627.0 450.0,621.0 435.0,615.5 420.0,610.5" fill="#1a70d0"/><polygon points="447.5,626.2 470.0,630.0 478.0,640.0 482.5,655.0 481.2,667.0 473.8,669.0 468.8,657.5 462.5,646.2 453.8,638.8" fill="#fbe100"/><polygon points="445.0,637.0 453.8,640.0 461.2,647.5 466.2,657.5 471.2,669.5 468.8,665.0 463.0,653.8 457.5,646.2 450.0,640.5" fill="#b0cf45"/><polygon points="461.2,640.0 470.0,640.0 477.5,655.0 473.8,660.0 467.5,650.0" fill="#e67300"/><polygon points="476.2,640.0 482.5,655.0 486.2,665.0 481.2,666.2 478.0,655.0" fill="#1a70d0"/><polygon points="437.5,582.5 445.0,580.0 446.2,600.0 440.0,605.0 435.0,595.0" fill="#1a70d0"/><polygon points="435.0,560.0 440.0,558.8 445.0,572.5 438.8,575.0" fill="#1a70d0"/><polygon points="640.8,643.7 648.8,650.0 655.1,653.6 656.9,667.0 661.4,662.5 666.8,658.9 666.8,650.0 674.0,636.5 679.3,629.3 677.6,620.4 678.4,605.1 686.5,594.3 692.8,587.2 700.0,585.4 699.1,597.0 697.3,606.0 695.5,618.6 700.9,625.7 708.1,632.9 711.6,641.9 709.8,652.7 711.6,663.4 715.2,666.1 717.6,665.2 717.0,656.3 718.8,645.5 717.0,634.7 724.2,622.2 727.8,612.3 729.6,600.6 735.0,589.0 743.0,585.4 753.8,583.6 767.1,573.7 767.1,706.5 641.1,706.5 641.1,641.9" fill="#b0cf45"/><polygon points="640.8,643.7 648.8,650.0 655.1,653.6 656.9,667.0 661.4,662.5 666.8,658.9 666.8,650.0 674.0,636.5 679.3,629.3 677.6,620.4 678.4,605.1 686.5,594.3 692.8,587.2 700.0,585.4 699.1,597.0 697.3,606.0 695.5,618.6 700.9,625.7 708.1,632.9 711.6,641.9 709.8,652.7 711.6,663.4 715.2,666.1 717.6,665.2 717.0,656.3 718.8,645.5 717.0,634.7 724.2,622.2 727.8,612.3 729.6,600.6 735.0,589.0 743.0,585.4 753.8,583.6 767.1,577.3 767.1,706.5 641.1,706.5 641.1,643.7" fill="#fbe100"/><polygon points="642.6,647.3 647.9,652.7 653.3,656.3 655.1,670.6 662.3,665.2 668.6,661.6 669.5,650.9 676.7,638.3 682.0,631.1 680.2,620.4 682.0,606.0 689.2,597.0 694.6,589.9 698.2,588.1 696.4,597.0 694.6,606.0 692.8,620.4 698.2,627.5 705.4,634.7 709.0,641.9 707.2,652.7 709.0,665.2 714.3,668.8 719.7,667.0 719.7,656.3 721.5,645.5 719.7,634.7 726.9,624.0 730.5,613.2 732.3,602.4 737.7,591.7 744.8,588.1 755.6,586.3 767.1,580.9 767.1,706.5 612.1,706.5 612.1,645.5" fill="#c90000"/><polygon points="682.0,606.0 689.2,597.0 694.6,589.9 698.2,588.1 696.4,597.0 694.6,606.0 691.0,613.2 683.8,616.8" fill="#e67300"/><polygon points="734.1,598.8 741.3,591.7 755.6,589.9 765.5,591.7 765.5,606.0 755.6,607.8 744.8,604.2 737.7,606.0" fill="#e67300"/><polygon points="741.3,597.0 752.0,595.2 755.6,598.8 746.6,601.5" fill="#fbe100"/><polygon points="744.8,602.4 762.8,604.2 763.7,609.6 753.8,611.4 744.8,607.8" fill="#b0cf45"/><polygon points="642.6,555.8 647.9,554.9 653.3,571.9 651.5,582.7 647.0,579.1 644.4,566.5" fill="#fbe100"/><polygon points="647.0,566.5 649.4,566.5 649.7,571.9 647.4,571.9" fill="#c90000"/><polygon points="680.2,554.9 709.0,554.9 705.4,562.9 698.2,568.3 691.0,564.7 683.8,561.1" fill="#fbe100"/><polygon points="693.7,554.0 703.6,554.0 701.8,561.1 697.3,562.9" fill="#c90000"/><polygon points="711.6,554.0 726.0,554.0 727.8,568.3 723.3,580.9 716.1,589.0 708.1,588.1 707.2,579.1 712.5,568.3" fill="#fbe100"/><polygon points="714.3,555.8 723.3,555.8 724.2,568.3 719.7,573.7 715.2,582.7 710.7,586.3 709.0,580.9 714.3,571.9 716.1,564.7" fill="#c90000"/><polygon points="685.6,573.7 698.2,574.6 699.1,580.9 689.2,583.6 684.7,579.1" fill="#fbe100"/><polygon points="691.9,576.4 697.3,576.9 696.4,580.0 691.9,580.0" fill="#c90000"/><polygon points="669.5,593.4 676.7,590.8 677.6,596.1 671.3,599.7" fill="#b0cf45"/><polygon points="649.7,592.6 653.3,592.6 661.4,600.6 658.7,602.4" fill="#b0cf45"/><polygon points="737.7,557.6 744.8,555.8 746.6,562.9 741.3,564.7" fill="#7fae76"/><polygon points="687.4,650.9 691.9,648.2 692.8,656.3 689.2,658.0" fill="#fbe100"/><polygon points="709.8,652.7 714.3,650.9 716.1,661.6 711.6,665.2" fill="#7fae76"/><polygon points="634.5,685.0 637.2,684.1 638.1,688.5 635.0,689.4" fill="#1a70d0"/><polygon points="742.8,518.4 750.8,512.4 765.0,510.4 777.1,512.4 786.1,516.4 786.1,548.7 773.0,548.7 769.0,540.6 754.9,538.6 746.8,530.6" fill="#4a90a0"/><polygon points="748.8,520.5 756.9,515.4 769.0,515.4 781.1,520.5 786.1,522.5 786.1,544.7 776.1,540.6 765.0,534.6 752.8,530.6" fill="#b0cf45"/><polygon points="756.9,522.5 769.0,520.5 777.1,526.5 775.0,534.6 765.0,532.6 757.9,528.5" fill="#fbe100"/><polygon points="381.1,276.2 381.4,278.6 383.3,280.2 383.0,277.8" fill="#fbe100"/><polygon points="379.7,254.4 382.4,258.5 386.5,261.3 383.8,257.2" fill="#c90000"/><polygon points="381.2,263.9 381.1,267.3 382.7,270.3 382.8,266.9" fill="#fbe100"/><polygon points="365.6,234.1 366.4,238.1 369.8,240.7 368.9,236.6" fill="#fbe100"/><polygon points="401.9,247.5 402.9,249.9 405.3,251.2 404.2,248.7" fill="#fbe100"/><polygon points="368.7,241.1 368.7,246.2 370.9,250.7 370.9,245.7" fill="#fbe100"/><polygon points="392.1,282.4 394.8,285.8 398.9,287.1 396.2,283.7" fill="#b0cf45"/><polygon points="393.7,280.9 395.6,284.0 398.9,285.3 397.1,282.2" fill="#fbe100"/><polygon points="380.9,273.9 381.8,276.4 384.0,277.5 383.2,275.1" fill="#b0cf45"/><polygon points="404.1,236.9 403.7,239.5 405.6,241.4 406.0,238.8" fill="#c90000"/><polygon points="395.7,257.6 397.4,260.5 400.4,261.9 398.8,259.0" fill="#c90000"/><polygon points="383.2,235.0 384.1,238.5 386.6,241.1 385.7,237.6" fill="#c90000"/><polygon points="366.8,271.0 368.1,273.2 370.7,273.7 369.3,271.5" fill="#fbe100"/><polygon points="394.7,236.5 398.0,240.1 402.4,242.2 399.2,238.6" fill="#c90000"/><polygon points="403.3,236.1 405.8,239.3 409.7,240.3 407.2,237.2" fill="#fbe100"/><polygon points="366.8,307.1 368.4,311.9 372.4,315.1 370.8,310.3" fill="#b0cf45"/><polygon points="370.0,297.4 370.5,300.3 372.7,302.2 372.2,299.3" fill="#c90000"/><polygon points="371.9,296.3 373.8,299.6 377.5,300.6 375.6,297.3" fill="#b0cf45"/><polygon points="392.2,281.1 393.9,283.9 396.8,285.3 395.1,282.5" fill="#7fae76"/><polygon points="365.5,303.4 366.8,308.0 369.6,311.9 368.4,307.3" fill="#fbe100"/><polygon points="396.2,260.2 396.1,264.0 398.3,267.2 398.4,263.3" fill="#fbe100"/><polygon points="372.0,273.1 372.3,277.4 374.5,281.1 374.2,276.8" fill="#7fae76"/><polygon points="378.5,292.6 379.0,295.4 381.6,296.6 381.0,293.8" fill="#fbe100"/><polygon points="372.6,272.1 375.0,276.6 379.5,279.1 377.0,274.6" fill="#fbe100"/><polygon points="369.8,255.6 370.5,258.9 372.9,261.3 372.2,257.9" fill="#fbe100"/><polygon points="364.8,251.7 365.1,253.9 366.7,255.4 366.4,253.2" fill="#fbe100"/><polygon points="374.7,273.4 375.7,276.7 378.3,278.8 377.3,275.6" fill="#b0cf45"/><polygon points="368.8,281.9 369.1,284.7 371.7,285.8 371.4,283.0" fill="#b0cf45"/><polygon points="399.7,269.3 401.0,271.7 403.8,272.0 402.4,269.6" fill="#fbe100"/><polygon points="379.2,254.4 382.0,257.4 386.0,258.4 383.2,255.4" fill="#fbe100"/><polygon points="392.9,277.3 393.7,280.9 396.4,283.4 395.6,279.8" fill="#b0cf45"/><polygon points="412.2,236.9 413.2,240.1 415.7,242.3 414.7,239.1" fill="#fbe100"/><polygon points="412.5,240.8 413.7,244.7 416.4,247.7 415.3,243.8" fill="#7fae76"/><polygon points="367.7,279.4 368.9,283.4 372.2,285.8 371.1,281.8" fill="#b0cf45"/><polygon points="386.9,236.7 388.2,241.7 391.7,245.5 390.4,240.5" fill="#7fae76"/><polygon points="400.9,232.7 401.2,237.1 403.5,240.8 403.3,236.4" fill="#7fae76"/><polygon points="370.1,282.6 373.0,286.5 377.6,288.1 374.7,284.2" fill="#fbe100"/><polygon points="400.2,253.7 400.8,257.2 403.7,259.3 403.1,255.8" fill="#c90000"/><polygon points="367.3,302.8 367.3,305.5 368.9,307.7 368.9,305.0" fill="#fbe100"/><polygon points="367.9,263.2 368.3,266.6 371.1,268.6 370.7,265.2" fill="#c90000"/><polygon points="384.9,296.1 385.9,300.7 388.8,304.4 387.8,299.8" fill="#b0cf45"/><polygon points="390.2,257.2 392.6,260.3 396.1,262.2 393.7,259.1" fill="#b0cf45"/><polygon points="362.6,235.5 366.0,239.1 370.4,241.1 367.1,237.5" fill="#b0cf45"/><polygon points="398.2,236.2 400.8,239.2 404.4,241.0 401.8,238.0" fill="#fbe100"/><polygon points="402.0,238.6 402.4,242.0 405.1,243.9 404.7,240.6" fill="#c90000"/><polygon points="411.8,236.7 411.8,241.7 414.6,245.8 414.6,240.9" fill="#fbe100"/><polygon points="368.8,249.2 372.2,253.0 377.0,254.3 373.7,250.5" fill="#fbe100"/><polygon points="372.0,241.4 374.9,244.6 379.0,246.3 376.0,243.1" fill="#fbe100"/><polygon points="375.3,252.6 378.0,256.7 381.8,259.7 379.1,255.6" fill="#fbe100"/><polygon points="392.1,269.6 394.2,273.5 398.2,275.5 396.1,271.6" fill="#fbe100"/><polygon points="382.0,292.2 383.9,296.0 387.6,298.2 385.6,294.4" fill="#b0cf45"/><polygon points="391.2,255.3 392.6,258.7 395.6,260.9 394.2,257.5" fill="#fbe100"/><polygon points="385.5,294.8 387.6,297.8 390.9,299.2 388.9,296.2" fill="#c90000"/><polygon points="371.9,306.4 372.9,309.1 375.7,310.1 374.7,307.3" fill="#7fae76"/><polygon points="366.6,304.6 366.5,308.4 369.1,311.1 369.2,307.3" fill="#c90000"/><polygon points="376.7,263.3 379.1,267.4 382.7,270.4 380.3,266.3" fill="#fbe100"/><polygon points="378.5,256.5 380.1,259.9 383.0,262.2 381.4,258.8" fill="#b0cf45"/><polygon points="393.6,287.0 393.6,289.4 395.7,290.6 395.7,288.2" fill="#c90000"/><polygon points="365.3,296.8 366.4,300.9 369.1,304.3 368.0,300.1" fill="#7fae76"/><polygon points="398.3,253.9 399.7,256.8 402.8,257.9 401.4,254.9" fill="#b0cf45"/><polygon points="446.7,244.7 445.7,250.0 447.1,255.3 448.1,249.9" fill="#fbe100"/><polygon points="471.1,270.0 470.7,273.5 472.2,276.7 472.6,273.2" fill="#fbe100"/><polygon points="472.4,241.9 471.9,244.8 473.1,247.4 473.6,244.6" fill="#fbe100"/><polygon points="461.3,271.2 461.0,274.2 463.0,276.5 463.3,273.4" fill="#c90000"/><polygon points="444.8,233.2 443.7,236.9 444.4,240.6 445.5,236.9" fill="#7fae76"/><polygon points="443.9,240.0 443.3,243.7 445.2,247.1 445.8,243.3" fill="#4a90a0"/><polygon points="456.4,261.0 455.9,266.5 457.9,271.7 458.4,266.2" fill="#b0cf45"/><polygon points="464.7,267.3 464.2,271.2 465.7,274.9 466.2,270.9" fill="#c90000"/><polygon points="465.8,244.1 466.6,249.0 469.1,253.2 468.2,248.4" fill="#4a90a0"/><polygon points="445.8,233.2 444.3,237.2 445.4,241.3 446.8,237.3" fill="#fbe100"/><polygon points="464.0,249.0 466.3,254.0 470.8,257.2 468.5,252.2" fill="#c90000"/><polygon points="467.4,259.3 468.9,263.5 472.3,266.4 470.8,262.2" fill="#4a90a0"/><polygon points="462.0,257.5 463.1,263.3 465.9,268.4 464.8,262.7" fill="#fbe100"/><polygon points="437.2,235.9 438.2,239.5 440.4,242.4 439.5,238.8" fill="#4a90a0"/><polygon points="468.0,264.2 467.7,268.6 469.0,272.8 469.3,268.4" fill="#7fae76"/><polygon points="447.9,243.9 447.0,247.5 447.9,251.0 448.8,247.5" fill="#fbe100"/><polygon points="469.3,237.0 468.0,239.8 469.3,242.6 470.5,239.8" fill="#fbe100"/><polygon points="462.6,238.5 461.8,243.9 463.8,249.0 464.5,243.6" fill="#4a90a0"/><polygon points="444.3,248.9 443.5,251.6 445.4,253.8 446.2,251.0" fill="#7fae76"/><polygon points="461.1,243.3 460.0,248.2 461.9,252.8 463.0,247.9" fill="#fbe100"/><polygon points="461.9,251.3 461.2,254.7 462.8,257.9 463.4,254.5" fill="#b0cf45"/><polygon points="465.4,233.6 463.9,239.1 465.1,244.8 466.6,239.2" fill="#fbe100"/><polygon points="447.3,249.4 447.2,254.1 449.0,258.5 449.0,253.8" fill="#c90000"/><polygon points="453.3,247.0 454.0,249.6 456.2,251.2 455.5,248.5" fill="#4a90a0"/><polygon points="438.8,238.9 437.5,244.0 437.9,249.2 439.2,244.2" fill="#b0cf45"/><polygon points="472.2,236.7 470.6,240.8 471.4,245.1 473.0,241.0" fill="#7fae76"/><polygon points="448.2,247.6 448.4,250.3 450.6,252.1 450.4,249.3" fill="#c90000"/><polygon points="454.8,245.1 456.0,249.6 459.4,252.6 458.2,248.2" fill="#fbe100"/><polygon points="463.6,255.7 463.2,260.5 465.5,264.8 465.9,259.9" fill="#7fae76"/><polygon points="454.1,241.2 455.1,245.8 457.5,249.8 456.5,245.2" fill="#c90000"/><polygon points="447.2,259.0 445.8,261.0 446.9,263.2 448.3,261.2" fill="#fbe100"/><polygon points="463.9,247.6 462.7,251.2 463.7,254.9 464.9,251.3" fill="#7fae76"/><polygon points="464.3,250.5 465.5,254.3 468.2,257.4 467.0,253.5" fill="#fbe100"/><polygon points="436.0,247.1 435.5,251.8 437.6,256.0 438.1,251.3" fill="#c90000"/><polygon points="437.9,237.6 440.2,242.5 444.4,246.0 442.0,241.1" fill="#c90000"/><polygon points="466.5,264.9 467.2,270.3 470.4,274.8 469.7,269.4" fill="#b0cf45"/><polygon points="427.1,234.7 428.9,238.7 432.5,241.3 430.7,237.3" fill="#c90000"/><polygon points="462.2,271.4 462.7,276.2 465.3,280.4 464.7,275.6" fill="#c90000"/><polygon points="471.2,258.3 470.8,261.0 472.8,262.9 473.1,260.2" fill="#fbe100"/><polygon points="466.8,266.4 466.3,268.8 468.1,270.3 468.7,268.0" fill="#c90000"/><polygon points="332.5,275.8 334.1,278.4 337.2,278.3 335.6,275.7" fill="#4a90a0"/><polygon points="354.1,279.0 357.8,281.2 361.9,280.0 358.2,277.8" fill="#b0cf45"/><polygon points="354.8,273.4 357.0,276.8 360.9,277.9 358.7,274.5" fill="#7fae76"/><polygon points="362.3,296.5 364.0,299.3 367.2,300.0 365.5,297.2" fill="#b0cf45"/><polygon points="365.8,302.2 367.0,305.4 370.4,305.4 369.2,302.2" fill="#4a90a0"/><polygon points="344.8,276.9 344.6,279.9 347.5,280.6 347.7,277.6" fill="#b0cf45"/><polygon points="349.7,286.5 352.5,289.9 357.0,289.8 354.1,286.4" fill="#7fae76"/><polygon points="335.9,271.7 336.7,275.9 340.4,277.8 339.6,273.7" fill="#7fae76"/><polygon points="361.8,299.5 363.9,301.5 366.5,300.0 364.3,297.9" fill="#4a90a0"/><polygon points="340.6,284.8 341.4,287.7 344.3,288.4 343.4,285.6" fill="#fbe100"/><polygon points="335.3,281.6 339.1,284.3 343.7,283.5 339.9,280.8" fill="#fbe100"/><polygon points="335.1,274.4 337.1,278.5 340.9,281.2 338.9,277.0" fill="#4a90a0"/><polygon points="337.2,273.5 340.0,276.7 344.0,277.8 341.3,274.7" fill="#b0cf45"/><polygon points="335.5,273.1 338.1,276.4 342.3,276.2 339.7,272.9" fill="#fbe100"/><polygon points="356.7,289.1 360.3,291.5 364.6,290.4 360.9,288.0" fill="#b0cf45"/><polygon points="339.0,290.8 342.5,293.3 346.8,293.3 343.3,290.8" fill="#b0cf45"/><polygon points="329.9,278.8 333.2,281.0 337.2,280.6 333.8,278.4" fill="#7fae76"/><polygon points="341.1,291.4 342.7,293.8 345.2,292.4 343.5,289.9" fill="#7fae76"/><polygon points="362.0,285.4 363.4,287.6 365.9,287.5 364.6,285.3" fill="#fbe100"/><polygon points="338.4,291.8 340.3,294.0 342.6,292.2 340.7,290.0" fill="#4a90a0"/><polygon points="349.7,278.4 350.5,281.2 353.1,282.6 352.3,279.8" fill="#4a90a0"/><polygon points="357.9,301.1 358.7,303.8 361.1,305.3 360.4,302.6" fill="#b0cf45"/><polygon points="338.0,296.9 340.7,300.6 345.2,301.0 342.6,297.3" fill="#4a90a0"/><polygon points="363.7,298.5 366.3,300.2 369.3,299.5 366.7,297.8" fill="#fbe100"/><polygon points="365.2,296.3 367.6,298.7 370.9,298.9 368.5,296.6" fill="#b0cf45"/><polygon points="471.6,341.4 474.9,340.8 476.5,337.9 473.3,338.6" fill="#1a70d0"/><polygon points="460.0,404.1 465.2,402.6 468.5,398.3 463.3,399.8" fill="#fbe100"/><polygon points="445.3,367.4 448.7,366.7 451.1,364.3 447.7,365.0" fill="#b0cf45"/><polygon points="434.3,344.8 438.1,348.3 443.0,350.0 439.2,346.4" fill="#7fae76"/><polygon points="400.8,356.2 404.2,357.9 407.8,356.8 404.4,355.1" fill="#7fae76"/><polygon points="374.8,388.3 379.3,386.2 382.4,382.2 377.9,384.3" fill="#fbe100"/><polygon points="376.3,403.1 380.9,402.0 384.0,398.5 379.5,399.6" fill="#fbe100"/><polygon points="373.2,364.9 379.1,363.8 383.3,359.5 377.3,360.6" fill="#fbe100"/><polygon points="368.0,414.8 371.0,415.8 373.9,414.7 370.9,413.6" fill="#7fae76"/><polygon points="374.5,342.3 379.4,341.0 382.6,337.0 377.7,338.4" fill="#b0cf45"/><polygon points="408.9,331.9 411.7,333.4 414.8,333.0 412.1,331.4" fill="#1a70d0"/><polygon points="453.2,352.3 457.4,352.2 460.7,349.6 456.5,349.7" fill="#4a90a0"/><polygon points="370.7,418.4 376.3,416.8 380.0,412.3 374.4,414.0" fill="#b0cf45"/><polygon points="421.0,403.2 426.3,402.8 430.0,398.9 424.6,399.3" fill="#4a90a0"/><polygon points="461.0,327.8 466.7,328.3 472.1,326.7 466.5,326.2" fill="#fbe100"/><polygon points="469.6,329.7 471.7,333.1 475.6,334.2 473.5,330.7" fill="#1a70d0"/><polygon points="452.6,371.3 456.7,372.0 459.7,369.0 455.5,368.3" fill="#b0cf45"/><polygon points="391.7,332.0 392.6,336.2 395.6,339.1 394.7,335.0" fill="#b0cf45"/><polygon points="380.8,327.6 385.4,326.7 388.5,323.2 383.9,324.1" fill="#7fae76"/><polygon points="378.8,328.3 381.5,332.1 385.7,334.1 383.0,330.3" fill="#7fae76"/><polygon points="382.8,321.4 384.0,325.2 387.7,326.8 386.5,322.9" fill="#fbe100"/><polygon points="416.3,352.8 421.0,354.2 425.4,351.8 420.6,350.3" fill="#fbe100"/><polygon points="359.0,406.9 363.9,409.7 369.5,410.1 364.6,407.3" fill="#b0cf45"/><polygon points="421.9,418.9 426.8,417.4 429.8,413.3 424.9,414.8" fill="#7fae76"/><polygon points="359.1,368.5 362.8,370.6 367.0,370.4 363.3,368.4" fill="#fbe100"/><polygon points="388.2,395.7 388.3,401.2 391.8,405.3 391.8,399.9" fill="#1a70d0"/><polygon points="444.5,318.4 445.7,324.3 449.5,328.9 448.4,323.0" fill="#1a70d0"/><polygon points="362.7,399.2 365.8,398.9 368.1,396.7 364.9,397.0" fill="#1a70d0"/><polygon points="377.8,328.7 383.2,328.8 388.2,326.9 382.8,326.8" fill="#fbe100"/><polygon points="461.4,392.2 467.0,393.0 472.0,390.6 466.5,389.8" fill="#4a90a0"/><polygon points="416.5,390.3 422.1,389.3 426.2,385.2 420.5,386.2" fill="#fbe100"/><polygon points="388.9,361.4 392.7,364.9 397.6,366.5 393.8,363.0" fill="#fbe100"/><polygon points="403.5,328.4 407.5,332.2 412.8,334.0 408.7,330.2" fill="#1a70d0"/><polygon points="413.9,355.2 412.9,357.6 415.1,359.2 416.1,356.7" fill="#fbe100"/><polygon points="406.5,400.1 409.0,403.3 413.1,402.9 410.6,399.7" fill="#7fae76"/><polygon points="401.0,353.3 401.8,358.5 405.8,361.8 405.0,356.7" fill="#1a70d0"/><polygon points="450.1,404.2 452.1,409.3 455.9,413.3 453.9,408.2" fill="#1a70d0"/><polygon points="373.5,385.3 378.9,387.2 384.5,385.7 379.1,383.9" fill="#fbe100"/><polygon points="400.3,372.5 404.3,371.9 406.7,368.6 402.7,369.3" fill="#fbe100"/><polygon points="381.9,358.8 387.7,361.0 393.8,360.4 388.1,358.1" fill="#fbe100"/><polygon points="452.7,404.0 452.0,406.6 454.4,407.9 455.0,405.3" fill="#7fae76"/><polygon points="461.5,376.8 465.2,380.7 470.0,382.9 466.4,379.0" fill="#fbe100"/><polygon points="385.0,368.3 390.4,370.8 396.4,370.7 391.0,368.3" fill="#7fae76"/><polygon points="396.7,337.4 402.6,335.8 406.5,331.0 400.6,332.6" fill="#7fae76"/><polygon points="370.8,373.0 370.6,377.0 373.2,380.1 373.4,376.1" fill="#7fae76"/><polygon points="460.6,375.8 465.7,377.0 470.4,374.6 465.3,373.5" fill="#7fae76"/><polygon points="452.9,376.3 456.4,379.6 461.0,380.7 457.5,377.4" fill="#fbe100"/><polygon points="399.9,406.9 403.9,408.5 407.7,406.4 403.7,404.9" fill="#fbe100"/><polygon points="386.5,338.4 389.2,341.1 393.0,341.0 390.3,338.2" fill="#fbe100"/><polygon points="465.6,330.6 465.2,334.1 467.4,336.9 467.7,333.4" fill="#7fae76"/><polygon points="389.5,416.7 394.6,417.4 399.6,415.8 394.5,415.1" fill="#fbe100"/><polygon points="427.5,349.7 429.5,353.7 433.8,354.9 431.8,350.9" fill="#7fae76"/><polygon points="439.5,329.7 445.6,330.1 450.9,327.1 444.8,326.7" fill="#b0cf45"/><polygon points="406.8,385.4 410.0,385.8 412.0,383.2 408.8,382.8" fill="#7fae76"/><polygon points="451.6,365.5 453.6,370.4 458.2,373.0 456.2,368.1" fill="#4a90a0"/><polygon points="388.8,377.7 391.9,381.7 396.6,383.4 393.6,379.4" fill="#fbe100"/><polygon points="359.5,392.1 362.0,395.8 366.4,396.1 364.0,392.4" fill="#1a70d0"/><polygon points="374.9,403.0 379.5,403.6 383.8,402.0 379.2,401.4" fill="#7fae76"/><polygon points="411.2,361.0 412.4,364.2 415.6,365.6 414.4,362.3" fill="#1a70d0"/><polygon points="425.6,385.5 430.7,383.9 433.3,379.2 428.2,380.8" fill="#4a90a0"/><polygon points="409.9,336.1 412.6,337.5 415.0,335.8 412.4,334.3" fill="#1a70d0"/><polygon points="382.7,399.7 388.6,401.3 394.5,399.6 388.6,398.1" fill="#b0cf45"/><polygon points="464.8,336.8 470.2,338.9 475.9,339.0 470.6,336.9" fill="#fbe100"/><polygon points="387.2,407.4 391.5,408.4 395.5,406.8 391.3,405.8" fill="#1a70d0"/><polygon points="417.3,385.6 420.5,387.6 424.1,386.4 420.9,384.4" fill="#7fae76"/><polygon points="366.2,339.8 369.9,342.1 374.1,341.1 370.4,338.8" fill="#1a70d0"/><polygon points="376.3,335.7 379.5,338.1 383.4,337.0 380.2,334.6" fill="#1a70d0"/><polygon points="399.7,368.2 400.0,371.2 402.5,372.8 402.2,369.8" fill="#fbe100"/><polygon points="450.4,371.3 456.2,370.3 460.4,366.2 454.7,367.3" fill="#7fae76"/><polygon points="466.7,364.0 466.2,368.7 468.8,372.8 469.2,368.0" fill="#7fae76"/><polygon points="417.5,368.8 420.5,369.5 422.7,367.2 419.6,366.4" fill="#1a70d0"/><polygon points="370.5,371.6 373.5,375.9 378.5,377.3 375.5,373.1" fill="#fbe100"/><polygon points="449.6,346.8 450.2,349.1 452.6,349.5 452.0,347.2" fill="#7fae76"/><polygon points="363.2,331.6 364.3,336.2 368.4,338.4 367.3,333.9" fill="#1a70d0"/><polygon points="416.1,333.1 420.7,333.0 424.6,330.6 420.0,330.8" fill="#1a70d0"/><polygon points="445.6,329.4 448.7,329.5 450.3,326.9 447.2,326.8" fill="#7fae76"/><polygon points="412.5,356.7 413.7,361.5 417.7,364.4 416.5,359.6" fill="#1a70d0"/><polygon points="396.1,388.9 398.8,390.3 401.5,389.2 398.9,387.8" fill="#fbe100"/><polygon points="456.8,413.8 460.0,413.6 461.5,410.8 458.3,410.9" fill="#fbe100"/><polygon points="363.6,403.6 367.9,407.8 373.7,409.5 369.4,405.3" fill="#1a70d0"/><polygon points="385.2,341.3 389.7,340.9 393.4,338.2 388.9,338.7" fill="#fbe100"/><polygon points="459.2,399.4 463.7,401.0 468.0,398.8 463.5,397.1" fill="#4a90a0"/><polygon points="469.2,321.2 471.7,325.4 476.2,327.4 473.7,323.1" fill="#4a90a0"/><polygon points="392.4,403.4 396.9,406.2 402.2,406.6 397.7,403.8" fill="#b0cf45"/><polygon points="377.3,358.9 382.5,356.5 385.9,351.9 380.7,354.3" fill="#7fae76"/><polygon points="371.8,370.5 375.3,371.9 379.0,371.3 375.5,369.8" fill="#fbe100"/><polygon points="406.8,407.2 409.4,410.1 413.2,410.4 410.7,407.5" fill="#7fae76"/><polygon points="432.7,353.4 437.6,352.7 441.7,349.9 436.8,350.6" fill="#7fae76"/><polygon points="420.3,394.5 423.0,397.9 427.3,398.0 424.6,394.6" fill="#b0cf45"/><polygon points="378.0,350.2 379.0,354.1 382.8,355.3 381.8,351.4" fill="#b0cf45"/><polygon points="401.2,360.4 405.0,360.4 408.2,358.4 404.4,358.3" fill="#c90000"/><polygon points="434.0,353.8 433.7,356.8 435.1,359.4 435.5,356.4" fill="#c90000"/><polygon points="386.3,379.5 386.8,381.6 388.8,381.8 388.3,379.8" fill="#c90000"/><polygon points="376.5,378.8 378.3,379.2 379.3,377.6 377.4,377.1" fill="#c90000"/><polygon points="449.1,341.6 452.8,341.2 456.2,339.3 452.4,339.7" fill="#c90000"/><polygon points="392.3,379.3 394.9,379.2 396.2,377.1 393.7,377.2" fill="#c90000"/><polygon points="402.0,350.6 402.1,354.2 404.5,357.0 404.3,353.3" fill="#c90000"/><polygon points="465.2,335.9 468.6,337.3 472.2,336.4 468.8,335.1" fill="#c90000"/><polygon points="373.7,376.0 377.3,378.0 381.4,378.1 377.8,376.1" fill="#c90000"/><polygon points="392.0,328.3 392.1,331.8 394.3,334.6 394.2,331.0" fill="#c90000"/><polygon points="412.1,369.0 415.3,370.5 418.8,370.3 415.6,368.9" fill="#c90000"/><polygon points="429.4,368.5 429.4,371.5 431.1,374.1 431.1,371.0" fill="#c90000"/><polygon points="443.5,341.6 446.5,343.1 449.8,342.9 446.9,341.3" fill="#c90000"/><polygon points="383.3,379.3 385.4,382.6 389.1,384.0 386.9,380.8" fill="#c90000"/><polygon points="377.3,345.3 377.7,347.9 380.1,349.1 379.7,346.5" fill="#c90000"/><polygon points="442.2,350.3 443.8,353.6 446.8,355.7 445.1,352.4" fill="#c90000"/><polygon points="332.4,408.9 331.7,412.6 334.0,415.5 334.7,411.9" fill="#1a70d0"/><polygon points="354.4,376.3 353.2,378.8 355.3,380.6 356.5,378.1" fill="#fbe100"/><polygon points="348.3,397.5 346.6,401.3 347.3,405.3 349.0,401.5" fill="#1a70d0"/><polygon points="353.3,368.9 353.1,372.1 355.9,373.5 356.2,370.3" fill="#b0cf45"/><polygon points="339.9,336.0 340.8,339.6 344.0,341.5 343.1,337.9" fill="#b0cf45"/><polygon points="346.2,323.0 344.7,326.9 346.1,330.8 347.6,326.9" fill="#1a70d0"/><polygon points="327.1,361.0 327.1,366.9 329.7,372.2 329.7,366.3" fill="#4a90a0"/><polygon points="323.3,383.9 321.9,386.9 323.7,389.8 325.1,386.7" fill="#7fae76"/><polygon points="339.8,388.3 340.8,393.1 344.5,396.4 343.6,391.6" fill="#fbe100"/><polygon points="353.1,350.9 354.4,355.6 357.5,359.4 356.2,354.7" fill="#fbe100"/><polygon points="325.7,316.3 325.2,319.5 327.9,321.4 328.4,318.2" fill="#fbe100"/><polygon points="359.8,325.3 359.6,329.7 361.8,333.6 362.1,329.1" fill="#7fae76"/><polygon points="322.4,308.9 319.7,313.3 319.1,318.3 321.8,314.0" fill="#1a70d0"/><polygon points="330.6,385.9 330.6,390.9 334.3,394.3 334.2,389.3" fill="#fbe100"/><polygon points="322.4,365.1 324.8,370.6 329.7,373.9 327.3,368.5" fill="#1a70d0"/><polygon points="345.3,384.6 344.0,389.2 344.9,393.8 346.2,389.3" fill="#1a70d0"/><polygon points="319.3,390.7 317.6,393.6 318.2,396.9 319.9,394.0" fill="#1a70d0"/><polygon points="341.2,404.1 339.4,406.5 341.1,408.9 342.9,406.6" fill="#4a90a0"/><polygon points="348.3,342.2 349.7,347.4 353.5,351.4 352.1,346.2" fill="#4a90a0"/><polygon points="324.2,406.1 322.6,408.9 323.1,412.0 324.7,409.3" fill="#7fae76"/><polygon points="343.8,373.7 341.1,378.2 342.2,383.2 344.9,378.8" fill="#b0cf45"/><polygon points="338.1,362.2 338.4,365.8 341.4,367.7 341.1,364.1" fill="#7fae76"/><polygon points="321.5,332.5 322.7,337.1 326.3,340.3 325.1,335.7" fill="#7fae76"/><polygon points="354.2,359.7 354.9,363.3 357.4,365.9 356.7,362.4" fill="#7fae76"/><polygon points="355.2,392.1 354.4,395.5 356.8,398.2 357.6,394.7" fill="#7fae76"/><polygon points="348.3,404.4 347.9,407.2 350.7,407.7 351.1,404.9" fill="#b0cf45"/><polygon points="356.8,326.3 356.7,330.4 359.6,333.3 359.6,329.2" fill="#4a90a0"/><polygon points="342.5,357.7 341.6,361.9 343.6,365.8 344.5,361.5" fill="#7fae76"/><polygon points="360.2,397.8 356.9,402.9 356.5,408.9 359.9,403.9" fill="#7fae76"/><polygon points="350.0,343.1 348.6,347.3 350.1,351.6 351.4,347.3" fill="#4a90a0"/><polygon points="337.9,377.3 337.4,381.2 340.4,383.6 340.9,379.8" fill="#7fae76"/><polygon points="356.0,331.1 354.5,335.8 355.3,340.6 356.8,335.9" fill="#7fae76"/><polygon points="333.2,369.5 332.7,373.9 335.3,377.5 335.8,373.1" fill="#fbe100"/><polygon points="330.1,333.7 327.6,335.8 328.4,339.0 330.9,336.9" fill="#b0cf45"/><polygon points="354.0,335.7 355.3,339.8 358.6,342.5 357.3,338.4" fill="#fbe100"/><polygon points="327.1,355.9 326.0,360.8 328.3,365.4 329.4,360.4" fill="#7fae76"/><polygon points="343.1,396.7 341.9,401.9 342.9,407.1 344.1,401.9" fill="#7fae76"/><polygon points="342.5,385.1 340.3,387.3 342.0,390.0 344.3,387.7" fill="#1a70d0"/><polygon points="340.8,356.6 338.7,360.8 340.6,365.0 342.6,360.8" fill="#b0cf45"/><polygon points="340.1,389.5 341.9,394.4 345.5,398.2 343.7,393.3" fill="#b0cf45"/><polygon points="348.6,410.4 348.0,413.1 349.6,415.3 350.2,412.6" fill="#7fae76"/><polygon points="344.8,398.4 343.6,404.3 346.1,409.7 347.3,403.9" fill="#b0cf45"/><polygon points="334.7,396.0 333.0,400.7 333.3,405.7 335.0,401.0" fill="#4a90a0"/><polygon points="323.5,345.9 321.3,351.5 322.6,357.4 324.7,351.8" fill="#7fae76"/><polygon points="353.2,346.5 352.7,350.1 355.3,352.7 355.8,349.1" fill="#7fae76"/><polygon points="358.0,380.9 357.8,384.0 360.3,385.9 360.5,382.8" fill="#7fae76"/><polygon points="336.9,393.3 336.1,395.8 337.7,397.8 338.5,395.3" fill="#b0cf45"/><polygon points="342.5,339.4 341.3,342.9 342.4,346.5 343.6,343.0" fill="#4a90a0"/><polygon points="342.6,379.2 340.7,384.7 340.9,390.6 342.7,385.0" fill="#4a90a0"/><polygon points="345.0,374.8 343.5,380.3 345.8,385.6 347.4,380.1" fill="#1a70d0"/><polygon points="616.9,278.9 617.5,284.2 619.6,289.0 619.1,283.7" fill="#fbe100"/><polygon points="559.9,270.2 563.0,274.6 567.4,277.8 564.3,273.4" fill="#fbe100"/><polygon points="594.5,270.7 597.1,276.9 601.4,282.2 598.8,275.9" fill="#fbe100"/><polygon points="568.9,273.7 571.4,277.8 575.9,279.7 573.4,275.6" fill="#c90000"/><polygon points="578.4,321.4 580.8,325.0 584.3,327.4 581.9,323.8" fill="#c90000"/><polygon points="532.7,303.0 532.9,306.4 535.5,308.6 535.2,305.2" fill="#7fae76"/><polygon points="620.8,325.3 622.1,330.6 625.2,335.0 623.9,329.7" fill="#c90000"/><polygon points="608.3,262.1 608.5,265.4 610.3,268.1 610.1,264.9" fill="#fbe100"/><polygon points="598.4,294.2 599.0,298.4 601.8,301.7 601.1,297.5" fill="#7fae76"/><polygon points="527.6,315.7 529.0,322.2 532.7,327.6 531.4,321.1" fill="#fbe100"/><polygon points="626.2,331.2 625.9,334.5 627.3,337.5 627.6,334.2" fill="#b0cf45"/><polygon points="540.2,278.0 541.2,284.7 544.5,290.6 543.5,283.9" fill="#b0cf45"/><polygon points="522.7,269.0 523.1,274.2 526.3,278.3 525.9,273.1" fill="#fbe100"/><polygon points="484.0,254.3 484.2,259.5 486.3,264.3 486.1,259.1" fill="#fbe100"/><polygon points="605.4,285.5 605.0,288.5 606.8,290.9 607.2,287.9" fill="#b0cf45"/><polygon points="517.6,265.4 519.5,268.2 522.5,269.6 520.7,266.8" fill="#c90000"/><polygon points="506.7,280.8 509.1,285.6 513.6,288.6 511.2,283.8" fill="#7fae76"/><polygon points="505.4,320.1 505.6,325.4 507.5,330.3 507.2,325.1" fill="#fbe100"/><polygon points="516.2,311.6 518.7,314.7 522.2,316.7 519.7,313.6" fill="#fbe100"/><polygon points="527.1,323.2 527.7,327.6 530.6,331.1 530.0,326.6" fill="#fbe100"/><polygon points="577.4,326.1 576.8,330.6 579.0,334.6 579.6,330.1" fill="#c90000"/><polygon points="475.4,271.1 476.0,275.1 478.5,278.3 477.9,274.2" fill="#fbe100"/><polygon points="496.3,234.9 498.5,239.4 502.8,242.2 500.6,237.6" fill="#fbe100"/><polygon points="610.5,283.0 611.9,288.1 615.4,292.1 613.9,287.0" fill="#fbe100"/><polygon points="510.8,306.8 511.4,311.5 513.6,315.7 512.9,311.0" fill="#c90000"/><polygon points="583.0,298.2 584.0,303.3 586.8,307.5 585.9,302.5" fill="#c90000"/><polygon points="492.4,232.7 494.1,238.0 498.1,242.0 496.4,236.7" fill="#fbe100"/><polygon points="494.6,306.8 497.3,313.3 502.3,318.2 499.7,311.7" fill="#b0cf45"/><polygon points="489.6,297.7 492.9,302.8 497.6,306.6 494.3,301.5" fill="#fbe100"/><polygon points="621.1,335.4 621.8,340.3 624.3,344.6 623.7,339.7" fill="#4a90a0"/><polygon points="544.3,335.6 547.6,341.4 553.0,345.5 549.7,339.6" fill="#7fae76"/><polygon points="551.2,272.6 550.6,275.8 552.6,278.4 553.1,275.2" fill="#7fae76"/><polygon points="586.1,275.6 587.7,279.7 591.5,281.9 589.9,277.8" fill="#7fae76"/><polygon points="633.1,309.5 634.8,312.9 637.9,315.0 636.2,311.7" fill="#7fae76"/><polygon points="511.6,275.7 513.4,279.8 516.9,282.7 515.0,278.6" fill="#b0cf45"/><polygon points="505.5,300.7 508.9,306.3 514.3,309.9 510.9,304.3" fill="#c90000"/><polygon points="519.4,242.8 523.7,247.7 529.2,251.1 524.9,246.3" fill="#fbe100"/><polygon points="587.6,304.4 589.1,309.5 593.0,313.0 591.5,308.0" fill="#4a90a0"/><polygon points="614.9,321.4 618.6,326.2 623.8,329.4 620.1,324.6" fill="#7fae76"/><polygon points="518.9,234.4 523.3,239.8 528.8,244.0 524.4,238.7" fill="#c90000"/><polygon points="496.2,323.2 497.6,326.4 500.9,327.8 499.4,324.6" fill="#7fae76"/><polygon points="542.2,310.2 543.0,314.5 545.7,318.0 544.9,313.7" fill="#c90000"/><polygon points="572.4,258.3 572.7,261.0 574.5,263.0 574.2,260.3" fill="#4a90a0"/><polygon points="570.7,318.4 570.3,321.4 572.6,323.5 573.0,320.4" fill="#7fae76"/><polygon points="554.8,249.9 555.5,253.4 558.4,255.5 557.6,252.0" fill="#b0cf45"/><polygon points="580.9,297.6 580.4,302.6 582.6,307.2 583.1,302.1" fill="#7fae76"/><polygon points="531.5,256.0 531.5,262.6 534.0,268.7 534.1,262.1" fill="#c90000"/><polygon points="504.2,235.6 505.5,242.4 508.5,248.5 507.3,241.8" fill="#fbe100"/><polygon points="588.9,311.1 590.1,316.0 593.6,319.8 592.3,314.8" fill="#c90000"/><polygon points="537.6,269.1 540.5,275.4 545.1,280.6 542.2,274.3" fill="#7fae76"/><polygon points="623.3,328.5 623.7,333.9 625.9,338.9 625.5,333.5" fill="#c90000"/><polygon points="591.0,318.6 590.9,325.0 593.3,330.9 593.4,324.5" fill="#7fae76"/><polygon points="617.3,328.7 616.7,331.6 618.6,334.0 619.2,331.0" fill="#fbe100"/><polygon points="588.8,285.7 589.5,290.4 592.4,294.1 591.7,289.4" fill="#b0cf45"/><polygon points="598.7,335.2 599.9,340.5 603.8,344.2 602.5,339.0" fill="#4a90a0"/><polygon points="613.7,328.2 614.0,332.4 615.9,336.2 615.6,332.0" fill="#c90000"/><polygon points="575.0,314.1 577.3,319.1 581.4,322.6 579.1,317.7" fill="#4a90a0"/><polygon points="627.9,324.2 630.8,329.9 635.9,333.9 633.0,328.2" fill="#fbe100"/><polygon points="560.5,291.7 561.5,295.0 564.6,296.4 563.6,293.1" fill="#fbe100"/><polygon points="561.8,296.8 562.0,300.5 564.0,303.6 563.7,299.9" fill="#b0cf45"/><polygon points="619.2,311.5 619.1,315.6 621.1,319.2 621.1,315.1" fill="#7fae76"/><polygon points="491.8,252.6 492.9,255.6 495.6,257.2 494.5,254.3" fill="#c90000"/><polygon points="546.7,241.1 549.6,247.6 554.5,252.7 551.7,246.2" fill="#b0cf45"/><polygon points="578.7,321.3 581.4,325.4 585.3,328.4 582.5,324.3" fill="#b0cf45"/><polygon points="533.1,296.2 535.0,300.0 538.5,302.6 536.6,298.7" fill="#7fae76"/><polygon points="513.3,301.3 515.4,304.6 518.9,306.0 516.9,302.8" fill="#c90000"/><polygon points="594.2,266.7 595.3,270.4 598.5,272.4 597.5,268.7" fill="#7fae76"/><polygon points="560.9,294.0 562.1,297.1 565.3,298.2 564.1,295.0" fill="#c90000"/><polygon points="575.7,278.3 578.4,282.1 582.4,284.3 579.8,280.5" fill="#c90000"/><polygon points="638.2,285.2 639.0,288.9 641.4,291.8 640.6,288.1" fill="#b0cf45"/><polygon points="535.0,314.7 535.7,317.7 538.4,319.2 537.8,316.2" fill="#7fae76"/><polygon points="539.2,281.3 539.0,286.8 541.5,291.8 541.6,286.2" fill="#7fae76"/><polygon points="571.5,287.0 573.8,292.9 578.0,297.7 575.7,291.8" fill="#b0cf45"/><polygon points="501.2,241.6 501.8,244.9 504.6,246.7 504.0,243.4" fill="#c90000"/><polygon points="586.6,323.8 587.1,326.7 589.6,328.3 589.2,325.3" fill="#fbe100"/><polygon points="602.7,327.1 604.6,330.2 607.7,332.1 605.8,329.0" fill="#c90000"/><polygon points="488.3,242.2 489.3,247.2 491.8,251.7 490.8,246.7" fill="#4a90a0"/><polygon points="591.0,291.0 594.4,295.6 599.3,298.6 595.9,294.0" fill="#b0cf45"/><polygon points="524.9,294.6 529.6,299.8 535.5,303.6 530.8,298.4" fill="#c90000"/><polygon points="485.9,279.2 486.5,283.2 489.0,286.3 488.4,282.4" fill="#7fae76"/><polygon points="587.3,270.2 589.2,274.1 592.7,276.7 590.8,272.8" fill="#c90000"/><polygon points="521.5,248.2 524.0,253.2 528.7,256.3 526.2,251.3" fill="#b0cf45"/><polygon points="594.1,249.4 593.9,253.6 595.8,257.3 596.0,253.1" fill="#c90000"/><polygon points="508.1,286.9 509.3,290.5 512.7,292.1 511.5,288.5" fill="#b0cf45"/><polygon points="540.3,322.0 541.9,325.1 544.8,327.0 543.2,323.9" fill="#7fae76"/><polygon points="480.4,303.7 484.0,309.3 489.4,313.4 485.8,307.8" fill="#b0cf45"/><polygon points="556.9,314.4 557.6,318.3 559.9,321.5 559.3,317.6" fill="#b0cf45"/><polygon points="503.8,244.3 507.2,249.5 512.5,252.7 509.2,247.4" fill="#7fae76"/><polygon points="590.8,284.5 593.1,290.7 597.8,295.3 595.5,289.1" fill="#b0cf45"/><polygon points="521.4,260.9 522.1,265.0 524.9,268.0 524.2,263.9" fill="#b0cf45"/><polygon points="524.3,264.5 524.6,268.2 527.5,270.6 527.2,266.9" fill="#4a90a0"/><polygon points="537.0,235.8 539.3,240.8 543.1,244.7 540.8,239.7" fill="#7fae76"/><polygon points="504.0,251.4 505.9,255.0 509.4,257.2 507.5,253.6" fill="#c90000"/><polygon points="632.0,296.9 633.5,300.9 637.1,303.3 635.6,299.3" fill="#b0cf45"/><polygon points="503.9,266.2 506.0,271.0 510.2,274.2 508.1,269.4" fill="#4a90a0"/><polygon points="495.0,263.0 495.7,269.4 498.2,275.2 497.5,268.9" fill="#c90000"/><polygon points="477.3,304.9 476.7,309.1 478.9,312.8 479.5,308.6" fill="#c90000"/><polygon points="479.2,273.6 480.0,277.3 483.1,279.7 482.2,275.9" fill="#b0cf45"/><polygon points="609.0,319.0 611.3,324.4 615.1,329.0 612.8,323.6" fill="#b0cf45"/><polygon points="571.6,289.0 574.7,292.8 578.9,295.4 575.8,291.6" fill="#b0cf45"/><polygon points="539.9,333.8 543.3,338.7 548.4,341.7 545.0,336.8" fill="#fbe100"/><polygon points="528.5,333.9 528.9,338.6 530.9,342.9 530.5,338.2" fill="#7fae76"/><polygon points="488.3,262.5 490.0,266.0 493.5,267.9 491.7,264.4" fill="#fbe100"/><polygon points="550.9,251.9 552.3,256.6 555.5,260.3 554.1,255.6" fill="#4a90a0"/><polygon points="520.2,297.1 520.1,303.8 522.6,310.1 522.7,303.3" fill="#4a90a0"/><polygon points="633.6,290.7 634.0,295.9 636.8,300.3 636.4,295.1" fill="#4a90a0"/><polygon points="485.5,250.3 486.5,257.3 489.5,263.7 488.5,256.7" fill="#7fae76"/><polygon points="483.7,302.5 486.0,307.3 490.4,310.3 488.1,305.5" fill="#c90000"/><polygon points="526.7,243.7 530.0,248.7 534.6,252.6 531.3,247.6" fill="#c90000"/><polygon points="528.0,328.9 530.9,334.9 535.0,340.2 532.2,334.1" fill="#7fae76"/><polygon points="558.9,250.8 559.9,256.8 562.6,262.2 561.6,256.2" fill="#4a90a0"/><polygon points="589.0,320.5 589.9,323.2 592.7,323.9 591.8,321.1" fill="#c90000"/><polygon points="556.9,325.0 557.1,331.0 559.7,336.5 559.5,330.4" fill="#4a90a0"/><polygon points="532.8,279.8 534.5,286.6 538.4,292.4 536.7,285.6" fill="#b0cf45"/><polygon points="584.2,322.2 587.5,327.7 592.9,331.1 589.6,325.6" fill="#c90000"/><polygon points="599.4,332.3 600.0,337.5 602.6,342.1 602.0,336.9" fill="#c90000"/><polygon points="599.4,303.3 600.8,308.5 603.7,313.1 602.3,307.9" fill="#c90000"/><polygon points="598.7,335.1 601.1,339.8 605.3,342.9 602.9,338.2" fill="#b0cf45"/><polygon points="571.0,346.8 570.5,349.7 572.4,352.0 572.9,349.1" fill="#7fae76"/><polygon points="608.1,313.0 608.4,319.3 610.7,325.1 610.4,318.8" fill="#7fae76"/><polygon points="502.8,354.7 502.1,358.8 503.7,362.6 504.4,358.5" fill="#dd3a00"/><polygon points="516.8,351.8 517.9,354.7 520.1,356.8 519.1,353.9" fill="#e67300"/><polygon points="513.7,344.1 516.0,346.4 519.3,346.4 517.0,344.1" fill="#4a90a0"/><polygon points="539.8,339.5 540.4,343.9 542.4,348.0 541.7,343.5" fill="#fbe100"/><polygon points="513.2,370.9 514.5,373.7 516.9,375.6 515.6,372.8" fill="#4a90a0"/><polygon points="501.2,368.5 502.1,373.2 504.6,377.2 503.7,372.5" fill="#dd3a00"/><polygon points="510.0,368.2 509.3,372.1 510.9,375.7 511.6,371.8" fill="#4a90a0"/><polygon points="503.4,347.7 503.7,352.1 505.9,355.8 505.7,351.4" fill="#7fae76"/><polygon points="543.1,361.7 542.7,364.3 544.5,366.3 544.8,363.6" fill="#e67300"/><polygon points="535.3,340.8 533.9,343.7 534.6,346.9 535.9,344.0" fill="#dd3a00"/><polygon points="556.4,365.9 559.6,368.4 563.6,369.2 560.4,366.7" fill="#fbe100"/><polygon points="537.3,347.7 538.7,351.9 542.1,354.8 540.7,350.6" fill="#7fae76"/><polygon points="511.5,319.3 510.3,323.8 510.5,328.6 511.7,324.0" fill="#7fae76"/><polygon points="534.9,328.7 534.2,330.8 535.5,332.8 536.1,330.6" fill="#dd3a00"/><polygon points="536.0,364.3 535.7,367.7 537.8,370.3 538.1,367.0" fill="#e67300"/><polygon points="537.1,331.0 539.6,334.0 543.4,335.1 540.9,332.1" fill="#7fae76"/><polygon points="510.6,320.0 512.2,324.4 515.0,328.2 513.4,323.8" fill="#7fae76"/><polygon points="496.0,334.1 498.3,336.1 501.3,336.5 499.0,334.5" fill="#e67300"/><polygon points="499.5,334.0 500.2,336.3 502.1,337.8 501.4,335.4" fill="#dd3a00"/><polygon points="509.3,364.6 509.6,367.2 511.8,368.5 511.6,365.9" fill="#7fae76"/><polygon points="519.6,365.3 520.3,369.7 522.4,373.5 521.8,369.1" fill="#4a90a0"/><polygon points="506.0,345.5 506.5,350.1 508.6,354.2 508.1,349.6" fill="#fbe100"/><polygon points="507.2,335.0 506.2,338.5 506.8,342.2 507.8,338.6" fill="#fbe100"/><polygon points="501.7,363.4 505.4,366.0 509.9,366.9 506.2,364.2" fill="#e67300"/><polygon points="533.9,333.8 532.0,338.2 532.5,343.0 534.3,338.6" fill="#fbe100"/><polygon points="542.6,355.5 544.8,359.5 548.0,362.6 545.8,358.7" fill="#e67300"/><polygon points="497.4,322.3 497.6,326.6 499.2,330.6 498.9,326.3" fill="#dd3a00"/><polygon points="516.0,373.1 515.7,376.3 517.1,379.1 517.4,376.0" fill="#e67300"/><polygon points="513.0,323.5 512.0,327.1 513.0,330.7 513.9,327.1" fill="#e67300"/><polygon points="492.8,335.6 495.3,337.9 498.6,338.4 496.1,336.2" fill="#7fae76"/><polygon points="536.1,349.6 537.8,353.0 540.7,355.5 539.0,352.1" fill="#4a90a0"/><polygon points="545.5,342.8 544.2,347.5 545.2,352.2 546.4,347.6" fill="#dd3a00"/><polygon points="540.3,358.1 540.7,361.0 542.3,363.4 541.9,360.5" fill="#7fae76"/><polygon points="531.7,343.7 532.6,348.4 535.1,352.5 534.1,347.8" fill="#e67300"/><polygon points="538.8,375.3 538.0,378.5 539.4,381.4 540.1,378.3" fill="#fbe100"/><polygon points="502.0,341.5 501.6,344.9 503.0,348.1 503.4,344.6" fill="#dd3a00"/><polygon points="528.9,352.3 531.9,354.6 535.6,355.1 532.6,352.9" fill="#dd3a00"/><polygon points="500.9,353.7 502.2,356.6 505.0,358.1 503.7,355.3" fill="#4a90a0"/><polygon points="525.9,365.0 528.9,369.0 533.2,371.7 530.2,367.6" fill="#fbe100"/><polygon points="502.6,323.5 502.0,326.3 503.1,329.0 503.7,326.2" fill="#e67300"/><polygon points="693.0,298.4 697.5,297.8 700.6,294.4 696.0,295.0" fill="#7fae76"/><polygon points="684.5,330.7 687.9,328.5 688.8,324.5 685.4,326.7" fill="#1a70d0"/><polygon points="739.8,243.6 743.1,243.8 745.4,241.4 742.1,241.1" fill="#1a70d0"/><polygon points="720.8,303.1 724.9,300.6 727.4,296.6 723.3,299.1" fill="#7fae76"/><polygon points="615.1,255.5 619.5,256.8 623.8,255.3 619.4,254.0" fill="#7fae76"/><polygon points="705.1,312.9 708.2,314.8 711.5,313.1 708.3,311.3" fill="#1a70d0"/><polygon points="696.0,333.4 700.4,336.2 705.7,335.8 701.2,332.9" fill="#4a90a0"/><polygon points="711.8,302.4 716.2,303.9 720.6,302.3 716.2,300.8" fill="#1a70d0"/><polygon points="741.8,269.7 744.6,267.9 745.2,264.5 742.4,266.4" fill="#4a90a0"/><polygon points="709.0,285.0 711.7,283.5 712.6,280.5 709.9,282.1" fill="#4a90a0"/><polygon points="652.0,245.7 656.1,245.3 658.1,241.7 654.0,242.1" fill="#7fae76"/><polygon points="715.8,292.9 719.6,291.5 721.7,288.0 717.9,289.4" fill="#1a70d0"/><polygon points="690.5,333.0 693.7,335.9 698.1,335.5 694.8,332.6" fill="#4a90a0"/><polygon points="643.2,253.5 647.6,250.5 649.6,245.6 645.2,248.6" fill="#4a90a0"/><polygon points="704.5,288.4 708.8,284.5 710.7,279.0 706.3,282.8" fill="#4a90a0"/><polygon points="716.3,271.6 720.7,272.2 724.2,269.5 719.8,268.8" fill="#7fae76"/><polygon points="729.8,282.6 735.8,282.8 740.9,279.8 734.9,279.6" fill="#4a90a0"/><polygon points="697.8,295.1 703.3,296.0 708.8,294.6 703.2,293.7" fill="#1a70d0"/><polygon points="684.1,313.1 688.9,311.2 691.4,306.8 686.7,308.7" fill="#4a90a0"/><polygon points="672.4,248.8 676.6,249.0 679.6,246.1 675.4,245.8" fill="#7fae76"/><polygon points="570.5,392.0 571.7,396.7 574.6,400.6 573.4,395.9" fill="#fbe100"/><polygon points="518.4,410.7 519.0,415.0 522.1,417.9 521.5,413.7" fill="#c90000"/><polygon points="590.5,370.0 590.4,372.4 592.6,373.5 592.7,371.1" fill="#fbe100"/><polygon points="573.4,409.2 573.8,411.9 576.1,413.3 575.7,410.6" fill="#c90000"/><polygon points="578.1,409.8 576.3,411.4 577.1,413.7 579.0,412.1" fill="#c90000"/><polygon points="554.4,390.5 552.7,393.9 553.5,397.6 555.2,394.2" fill="#c90000"/><polygon points="559.6,380.5 558.7,384.1 559.6,387.8 560.5,384.1" fill="#b0cf45"/><polygon points="581.6,404.4 580.9,407.0 582.6,409.0 583.3,406.5" fill="#b0cf45"/><polygon points="565.4,415.4 564.4,417.8 565.7,419.9 566.7,417.6" fill="#fbe100"/><polygon points="585.9,415.4 586.7,418.3 589.1,420.0 588.4,417.2" fill="#7fae76"/><polygon points="596.3,402.3 597.1,404.5 599.2,405.7 598.4,403.5" fill="#c90000"/><polygon points="598.0,411.3 597.0,414.0 598.5,416.5 599.6,413.8" fill="#fbe100"/><polygon points="591.0,406.3 589.6,408.3 590.7,410.5 592.1,408.4" fill="#4a90a0"/><polygon points="575.8,406.5 577.0,409.5 579.7,411.4 578.4,408.4" fill="#b0cf45"/><polygon points="599.2,392.6 596.7,396.3 596.8,400.8 599.3,397.1" fill="#7fae76"/><polygon points="520.0,408.6 518.0,411.2 518.4,414.4 520.5,411.8" fill="#b0cf45"/><polygon points="588.1,403.4 587.1,405.8 588.8,407.9 589.8,405.5" fill="#7fae76"/><polygon points="521.7,410.1 519.4,413.1 519.7,416.9 522.0,413.8" fill="#fbe100"/><polygon points="574.4,408.2 573.4,411.4 574.1,414.8 575.1,411.5" fill="#b0cf45"/><polygon points="556.7,390.0 558.3,394.6 561.5,398.4 559.9,393.7" fill="#4a90a0"/><polygon points="595.9,392.1 595.1,396.1 596.6,400.0 597.4,395.9" fill="#4a90a0"/><polygon points="595.1,394.9 596.0,399.2 598.5,402.8 597.6,398.5" fill="#fbe100"/><polygon points="599.6,407.7 597.9,410.8 598.2,414.3 599.8,411.2" fill="#b0cf45"/><polygon points="519.3,405.5 517.8,409.4 518.2,413.5 519.7,409.6" fill="#fbe100"/><polygon points="543.9,406.1 544.9,408.8 547.2,410.6 546.2,407.9" fill="#c90000"/><polygon points="507.4,412.4 507.8,416.7 510.0,420.4 509.5,416.1" fill="#7fae76"/><polygon points="565.3,408.2 563.4,410.3 564.0,413.0 565.9,410.9" fill="#fbe100"/><polygon points="542.1,407.3 543.4,411.3 546.9,413.6 545.6,409.6" fill="#b0cf45"/><polygon points="591.4,410.9 591.1,413.2 592.5,415.1 592.8,412.8" fill="#7fae76"/><polygon points="591.8,388.2 592.3,391.1 594.9,392.5 594.4,389.6" fill="#c90000"/><polygon points="560.0,415.7 558.4,418.5 558.3,421.8 559.9,419.0" fill="#4a90a0"/><polygon points="511.9,408.1 512.1,410.6 513.9,412.1 513.8,409.7" fill="#4a90a0"/><polygon points="578.1,392.9 578.6,396.0 581.3,397.6 580.8,394.5" fill="#fbe100"/><polygon points="507.1,415.2 506.8,417.9 508.1,420.2 508.3,417.6" fill="#c90000"/><polygon points="589.8,393.9 588.5,396.0 589.7,398.1 591.0,396.1" fill="#4a90a0"/><polygon points="585.3,371.9 587.1,376.3 590.9,379.2 589.1,374.8" fill="#b0cf45"/><polygon points="540.3,404.7 540.9,409.7 544.1,413.7 543.5,408.7" fill="#7fae76"/><polygon points="574.5,389.1 572.4,391.8 572.7,395.3 574.8,392.5" fill="#fbe100"/><polygon points="584.6,399.7 583.2,402.3 584.6,405.0 586.0,402.3" fill="#b0cf45"/><polygon points="583.7,364.7 581.7,367.6 581.4,371.0 583.4,368.2" fill="#7fae76"/><polygon points="599.2,358.8 604.0,362.2 609.9,362.6 605.1,359.2" fill="#1a70d0"/><polygon points="618.8,430.0 623.9,428.5 627.8,424.8 622.7,426.3" fill="#fbe100"/><polygon points="664.8,397.6 667.8,400.2 671.8,399.7 668.7,397.2" fill="#b0cf45"/><polygon points="733.3,358.9 738.4,359.3 742.8,356.7 737.7,356.3" fill="#1a70d0"/><polygon points="603.1,367.4 608.4,367.9 613.2,365.6 607.9,365.1" fill="#fbe100"/><polygon points="633.2,401.1 636.5,402.7 639.6,400.8 636.3,399.2" fill="#4a90a0"/><polygon points="658.1,344.9 657.6,348.0 659.1,350.7 659.6,347.6" fill="#b0cf45"/><polygon points="607.1,420.2 610.3,420.8 613.2,419.2 610.0,418.7" fill="#fbe100"/><polygon points="718.8,421.6 721.2,426.0 725.2,428.8 722.9,424.5" fill="#4a90a0"/><polygon points="669.2,393.6 670.6,397.8 674.4,400.1 673.0,395.9" fill="#7fae76"/><polygon points="626.6,345.3 626.5,350.5 628.8,355.2 628.9,350.0" fill="#4a90a0"/><polygon points="731.1,406.2 737.1,409.6 743.9,410.7 737.9,407.3" fill="#1a70d0"/><polygon points="607.3,415.2 609.4,419.7 613.8,421.7 611.7,417.3" fill="#1a70d0"/><polygon points="726.4,387.0 731.9,390.0 738.1,389.2 732.6,386.2" fill="#4a90a0"/><polygon points="666.5,368.8 665.8,375.8 667.3,382.6 668.0,375.7" fill="#4a90a0"/><polygon points="672.3,385.0 678.3,384.9 683.7,382.2 677.7,382.3" fill="#4a90a0"/><polygon points="650.3,407.8 650.6,411.1 653.1,413.2 652.8,409.9" fill="#4a90a0"/><polygon points="720.8,350.7 725.5,355.5 731.9,357.4 727.2,352.7" fill="#4a90a0"/><polygon points="610.6,397.1 609.8,402.4 611.8,407.3 612.5,402.0" fill="#4a90a0"/><polygon points="706.9,369.5 707.5,375.4 711.2,379.9 710.6,374.1" fill="#1a70d0"/><polygon points="622.7,374.5 621.3,380.5 623.6,386.3 625.0,380.3" fill="#4a90a0"/><polygon points="624.8,364.1 628.4,369.0 633.8,371.9 630.2,366.9" fill="#1a70d0"/><polygon points="641.3,363.9 641.5,369.4 645.1,373.6 645.0,368.0" fill="#1a70d0"/><polygon points="680.3,365.1 685.5,364.3 689.0,360.5 683.8,361.3" fill="#b0cf45"/><polygon points="603.2,421.6 603.0,424.8 605.1,427.1 605.4,423.9" fill="#4a90a0"/><polygon points="629.1,364.0 632.2,370.3 637.0,375.4 633.9,369.1" fill="#7fae76"/><polygon points="607.3,352.1 612.0,352.6 616.4,351.1 611.7,350.5" fill="#b0cf45"/><polygon points="642.8,383.6 645.5,386.2 649.3,387.0 646.5,384.3" fill="#7fae76"/><polygon points="635.4,370.8 638.7,371.5 640.5,368.7 637.2,367.9" fill="#4a90a0"/><polygon points="709.2,416.3 713.6,418.4 718.4,418.1 714.0,416.0" fill="#7fae76"/><polygon points="714.3,415.4 714.5,419.9 717.2,423.7 717.0,419.1" fill="#7fae76"/><polygon points="631.8,421.5 631.5,424.8 634.2,426.9 634.4,423.6" fill="#4a90a0"/><polygon points="708.6,386.1 713.4,390.3 719.7,391.6 714.8,387.4" fill="#1a70d0"/><polygon points="692.1,401.2 695.7,402.0 698.6,399.6 695.0,398.9" fill="#7fae76"/><polygon points="718.4,385.3 719.4,390.1 723.1,393.5 722.1,388.6" fill="#b0cf45"/><polygon points="702.2,342.7 703.1,346.4 706.0,348.6 705.2,345.0" fill="#4a90a0"/><polygon points="699.9,389.5 703.4,391.0 706.5,388.7 703.0,387.1" fill="#4a90a0"/><polygon points="724.9,357.7 729.7,357.2 733.4,354.2 728.7,354.7" fill="#4a90a0"/><polygon points="701.3,437.2 701.8,441.3 704.6,444.3 704.2,440.2" fill="#4a90a0"/><polygon points="640.3,421.4 643.9,423.2 647.8,422.4 644.2,420.6" fill="#4a90a0"/><polygon points="620.6,433.6 620.6,438.3 622.9,442.4 622.9,437.7" fill="#7fae76"/><polygon points="711.3,410.8 711.4,416.5 714.3,421.5 714.3,415.7" fill="#b0cf45"/><polygon points="707.5,354.9 712.0,354.8 715.4,351.8 710.9,352.0" fill="#b0cf45"/><polygon points="709.7,392.6 714.7,396.9 721.3,397.7 716.3,393.4" fill="#fbe100"/><polygon points="704.6,377.9 710.0,382.4 716.8,383.3 711.5,378.8" fill="#7fae76"/><polygon points="601.1,423.6 607.7,422.4 613.6,419.1 607.0,420.3" fill="#1a70d0"/><polygon points="736.6,436.9 741.4,437.3 745.5,434.6 740.6,434.2" fill="#b0cf45"/><polygon points="691.9,426.8 693.4,430.9 697.2,432.9 695.7,428.9" fill="#4a90a0"/><polygon points="656.4,349.4 655.3,352.2 656.8,354.9 657.9,352.0" fill="#1a70d0"/><polygon points="694.1,393.7 694.9,397.9 698.7,400.0 697.8,395.8" fill="#7fae76"/><polygon points="713.9,360.8 720.0,361.2 725.6,358.9 719.5,358.4" fill="#b0cf45"/><polygon points="647.6,431.7 651.6,434.8 656.6,435.9 652.6,432.8" fill="#4a90a0"/><polygon points="731.7,415.3 734.8,417.5 738.5,417.3 735.4,415.2" fill="#1a70d0"/><polygon points="638.3,385.4 640.6,390.8 644.8,395.0 642.4,389.6" fill="#4a90a0"/><polygon points="730.3,388.2 729.9,393.3 732.9,397.5 733.3,392.3" fill="#7fae76"/><polygon points="636.6,387.4 634.8,390.6 636.7,393.8 638.5,390.6" fill="#b0cf45"/><polygon points="643.3,412.0 643.5,417.8 646.8,422.6 646.6,416.7" fill="#7fae76"/><polygon points="716.1,429.4 717.0,432.3 720.1,432.6 719.2,429.6" fill="#7fae76"/><polygon points="605.6,342.8 604.3,346.4 605.7,349.9 607.0,346.3" fill="#b0cf45"/><polygon points="733.4,370.4 735.6,374.3 739.6,376.4 737.4,372.5" fill="#4a90a0"/><polygon points="598.9,406.6 600.4,412.5 604.7,417.0 603.2,411.0" fill="#4a90a0"/><polygon points="711.5,411.1 717.9,409.6 723.4,405.9 717.0,407.5" fill="#4a90a0"/><polygon points="714.1,365.3 715.5,369.7 719.7,371.6 718.3,367.2" fill="#4a90a0"/><polygon points="632.7,413.5 633.0,416.8 636.2,417.7 635.9,414.4" fill="#4a90a0"/><polygon points="715.3,434.1 722.3,434.3 728.4,431.0 721.5,430.9" fill="#4a90a0"/><polygon points="675.4,430.2 676.2,436.7 680.6,441.6 679.8,435.1" fill="#b0cf45"/><polygon points="664.4,384.4 666.1,390.7 670.7,395.3 669.1,389.0" fill="#b0cf45"/><polygon points="633.3,352.4 635.6,354.6 638.4,353.2 636.1,351.0" fill="#4a90a0"/><polygon points="650.8,404.2 652.3,407.2 655.6,406.9 654.1,403.9" fill="#4a90a0"/><polygon points="657.4,420.9 656.1,424.9 658.1,428.6 659.4,424.6" fill="#7fae76"/><polygon points="333.5,482.3 335.6,486.8 339.7,489.8 337.6,485.2" fill="#fbe100"/><polygon points="357.2,521.9 358.6,524.3 361.4,524.1 360.0,521.7" fill="#b0cf45"/><polygon points="389.5,455.4 388.7,460.5 390.0,465.4 390.8,460.3" fill="#4a90a0"/><polygon points="373.3,432.6 373.8,435.9 376.8,437.4 376.2,434.1" fill="#fbe100"/><polygon points="382.0,451.5 382.4,455.2 385.1,457.8 384.6,454.1" fill="#b0cf45"/><polygon points="331.1,420.0 331.9,424.7 334.2,428.8 333.5,424.1" fill="#fbe100"/><polygon points="334.2,421.4 335.3,426.1 338.9,429.5 337.8,424.7" fill="#b0cf45"/><polygon points="366.5,442.8 367.1,447.3 369.7,451.1 369.1,446.6" fill="#fbe100"/><polygon points="338.1,457.9 337.7,460.4 339.7,462.0 340.2,459.5" fill="#c90000"/><polygon points="382.4,461.2 384.4,464.3 387.6,466.0 385.6,463.0" fill="#fbe100"/><polygon points="343.9,449.6 346.0,452.7 349.4,454.3 347.3,451.1" fill="#b0cf45"/><polygon points="337.3,454.9 339.2,457.8 342.5,458.7 340.7,455.8" fill="#7fae76"/><polygon points="356.9,444.6 357.0,447.1 358.8,448.9 358.8,446.3" fill="#4a90a0"/><polygon points="327.4,449.4 330.2,452.8 334.5,453.6 331.7,450.2" fill="#4a90a0"/><polygon points="366.4,425.3 365.9,428.9 367.6,432.1 368.2,428.5" fill="#b0cf45"/><polygon points="366.5,535.0 366.8,539.9 368.7,544.4 368.4,539.5" fill="#7fae76"/><polygon points="343.9,520.5 346.7,524.1 350.6,526.2 347.8,522.7" fill="#fbe100"/><polygon points="387.3,423.5 388.8,426.8 392.0,428.6 390.5,425.3" fill="#7fae76"/><polygon points="362.7,420.9 363.8,425.2 366.6,428.7 365.6,424.4" fill="#4a90a0"/><polygon points="327.0,463.3 327.1,467.3 329.8,470.2 329.7,466.2" fill="#fbe100"/><polygon points="348.1,486.9 350.3,491.3 354.2,494.2 352.0,489.8" fill="#7fae76"/><polygon points="395.3,468.6 396.9,473.2 400.2,476.9 398.7,472.2" fill="#fbe100"/><polygon points="334.9,429.5 334.4,432.0 335.7,434.3 336.2,431.7" fill="#fbe100"/><polygon points="357.3,438.3 356.2,443.0 356.8,447.8 357.9,443.1" fill="#b0cf45"/><polygon points="383.5,572.9 383.8,575.6 386.4,576.5 386.1,573.9" fill="#c90000"/><polygon points="332.5,442.2 333.4,444.4 335.6,445.5 334.7,443.2" fill="#fbe100"/><polygon points="372.3,439.8 373.7,442.3 376.4,442.8 375.1,440.4" fill="#b0cf45"/><polygon points="398.4,454.1 401.7,457.5 406.0,459.2 402.8,455.8" fill="#4a90a0"/><polygon points="341.0,457.9 339.4,462.8 340.4,467.8 341.9,462.9" fill="#b0cf45"/><polygon points="396.0,422.0 396.1,424.4 398.3,425.4 398.2,423.0" fill="#b0cf45"/><polygon points="365.7,444.8 367.4,447.7 370.7,448.6 369.0,445.7" fill="#fbe100"/><polygon points="378.7,451.9 380.4,455.7 383.6,458.2 381.9,454.4" fill="#4a90a0"/><polygon points="400.6,431.8 399.7,436.1 400.6,440.4 401.5,436.1" fill="#c90000"/><polygon points="343.8,510.0 343.2,512.3 344.9,513.9 345.5,511.7" fill="#b0cf45"/><polygon points="323.3,468.2 326.6,471.6 331.1,473.2 327.8,469.8" fill="#b0cf45"/><polygon points="388.7,433.2 389.8,436.2 392.2,438.4 391.1,435.4" fill="#c90000"/><polygon points="381.7,456.9 381.6,459.9 383.5,462.3 383.6,459.3" fill="#fbe100"/><polygon points="355.6,519.2 355.1,523.6 356.8,527.7 357.3,523.3" fill="#c90000"/><polygon points="388.8,469.8 389.4,474.5 392.4,478.2 391.8,473.5" fill="#b0cf45"/><polygon points="393.1,464.8 394.1,468.1 396.4,470.6 395.5,467.3" fill="#fbe100"/><polygon points="397.8,451.9 401.0,455.1 405.1,456.9 402.0,453.7" fill="#b0cf45"/><polygon points="389.2,465.0 392.5,468.5 396.8,470.6 393.6,467.0" fill="#c90000"/><polygon points="388.3,463.3 386.9,466.0 388.4,468.6 389.8,465.9" fill="#fbe100"/><polygon points="335.4,493.2 336.3,496.1 338.6,498.2 337.7,495.2" fill="#4a90a0"/><polygon points="338.1,499.2 337.3,504.3 339.4,508.9 340.2,503.9" fill="#b0cf45"/><polygon points="361.4,439.2 363.5,443.6 367.8,446.1 365.7,441.7" fill="#4a90a0"/><polygon points="365.9,434.7 367.5,439.4 370.9,443.2 369.3,438.4" fill="#7fae76"/><polygon points="403.2,487.4 403.8,490.4 405.9,492.7 405.2,489.7" fill="#b0cf45"/><polygon points="401.3,452.6 400.3,456.6 401.1,460.6 402.1,456.6" fill="#b0cf45"/><polygon points="404.9,462.7 404.0,464.9 404.6,467.1 405.5,464.9" fill="#fbe100"/><polygon points="375.6,554.3 376.7,556.6 379.0,557.4 377.9,555.2" fill="#fbe100"/><polygon points="378.9,420.0 381.1,422.9 384.7,423.1 382.5,420.3" fill="#7fae76"/><polygon points="334.9,456.8 337.3,460.0 341.2,461.0 338.8,457.8" fill="#7fae76"/><polygon points="405.2,422.3 405.9,426.5 408.5,429.8 407.8,425.6" fill="#c90000"/><polygon points="329.7,481.8 329.8,486.8 332.8,491.0 332.7,485.9" fill="#4a90a0"/><polygon points="396.5,465.4 398.1,467.6 400.6,468.3 399.1,466.1" fill="#fbe100"/><polygon points="386.8,440.9 388.7,444.1 391.9,446.2 389.9,443.0" fill="#4a90a0"/><polygon points="353.0,517.5 354.5,519.4 356.9,519.4 355.4,517.5" fill="#b0cf45"/><polygon points="400.7,419.2 399.5,422.3 401.0,425.3 402.2,422.2" fill="#c90000"/><polygon points="322.7,434.2 323.3,436.8 325.7,437.6 325.1,435.1" fill="#4a90a0"/><polygon points="384.9,431.2 384.3,434.7 386.1,437.8 386.8,434.3" fill="#b0cf45"/><polygon points="345.2,475.1 344.3,479.2 345.4,483.3 346.4,479.2" fill="#b0cf45"/><polygon points="383.9,564.8 383.7,567.7 384.9,570.4 385.2,567.5" fill="#fbe100"/><polygon points="352.8,537.0 356.4,540.1 360.8,541.9 357.2,538.8" fill="#b0cf45"/><polygon points="375.1,436.4 376.5,439.9 379.4,442.2 378.0,438.7" fill="#7fae76"/><polygon points="347.2,466.3 347.0,469.2 348.8,471.4 349.0,468.5" fill="#b0cf45"/><polygon points="391.7,432.5 393.1,434.4 395.5,434.7 394.0,432.8" fill="#7fae76"/><polygon points="398.6,436.1 399.6,439.5 402.1,442.1 401.1,438.7" fill="#b0cf45"/><polygon points="356.2,428.3 357.3,432.9 360.0,436.9 358.9,432.3" fill="#fbe100"/><polygon points="360.1,440.0 360.2,444.3 362.5,447.9 362.4,443.6" fill="#b0cf45"/><polygon points="388.2,439.8 388.8,442.2 391.1,443.0 390.6,440.6" fill="#b0cf45"/><polygon points="341.6,448.5 340.6,451.9 342.4,454.9 343.4,451.6" fill="#b0cf45"/><polygon points="382.1,573.5 381.7,576.3 383.8,578.1 384.3,575.3" fill="#b0cf45"/><polygon points="322.5,458.1 325.8,461.4 330.0,463.5 326.7,460.1" fill="#7fae76"/><polygon points="407.1,473.8 405.8,478.2 407.3,482.5 408.6,478.1" fill="#fbe100"/><polygon points="327.1,480.2 328.2,485.2 331.5,489.1 330.4,484.1" fill="#b0cf45"/><polygon points="379.7,558.5 379.7,561.6 382.3,563.3 382.2,560.2" fill="#fbe100"/><polygon points="382.4,572.1 382.5,575.6 384.2,578.6 384.1,575.1" fill="#7fae76"/><polygon points="380.4,455.4 382.8,459.2 386.9,461.2 384.5,457.4" fill="#b0cf45"/><polygon points="337.6,485.1 340.5,487.7 344.2,488.4 341.3,485.8" fill="#4a90a0"/><polygon points="388.8,499.3 391.4,503.1 395.6,504.8 393.0,501.1" fill="#c90000"/><polygon points="393.7,479.5 395.8,483.1 399.6,484.7 397.5,481.1" fill="#4a90a0"/><polygon points="437.3,560.9 437.8,563.8 440.5,565.0 439.9,562.2" fill="#4a90a0"/><polygon points="417.1,519.6 416.8,522.2 418.7,523.9 418.9,521.4" fill="#b0cf45"/><polygon points="389.0,496.8 389.8,500.1 392.9,501.7 392.1,498.4" fill="#fbe100"/><polygon points="398.3,506.1 399.0,509.4 401.5,511.8 400.8,508.5" fill="#b0cf45"/><polygon points="431.7,551.0 433.9,554.9 437.7,557.3 435.5,553.4" fill="#fbe100"/><polygon points="431.6,555.0 432.2,558.4 435.1,560.3 434.5,556.9" fill="#fbe100"/><polygon points="404.8,512.2 404.8,515.4 406.7,518.0 406.8,514.8" fill="#b0cf45"/><polygon points="417.2,523.4 419.3,527.4 423.1,529.6 421.0,525.7" fill="#4a90a0"/><polygon points="379.7,480.0 383.0,483.5 387.3,485.5 384.1,482.0" fill="#fbe100"/><polygon points="424.2,536.5 425.4,539.8 428.1,542.1 426.9,538.8" fill="#b0cf45"/><polygon points="391.9,494.8 394.6,499.1 399.1,501.5 396.4,497.1" fill="#7fae76"/><polygon points="410.4,524.0 411.1,526.6 413.6,526.9 413.0,524.4" fill="#fbe100"/><polygon points="378.8,470.9 379.2,473.4 381.1,475.0 380.7,472.5" fill="#4a90a0"/><polygon points="435.2,566.4 436.2,569.4 439.2,570.3 438.2,567.3" fill="#7fae76"/><polygon points="430.5,544.1 430.7,547.3 432.6,549.9 432.4,546.7" fill="#4a90a0"/><polygon points="392.6,501.5 394.0,504.3 397.0,505.2 395.5,502.4" fill="#b0cf45"/><polygon points="415.1,523.1 415.6,527.3 417.8,530.8 417.3,526.7" fill="#fbe100"/><polygon points="387.0,473.3 388.5,476.6 391.4,478.8 389.9,475.5" fill="#b0cf45"/><polygon points="426.3,555.0 428.6,558.2 432.0,560.0 429.7,556.8" fill="#7fae76"/><polygon points="396.3,488.7 397.3,493.1 399.7,496.8 398.8,492.5" fill="#7fae76"/><polygon points="426.6,548.3 426.5,551.0 428.0,553.4 428.0,550.6" fill="#c90000"/><polygon points="400.6,496.4 403.7,500.3 408.3,502.3 405.1,498.5" fill="#c90000"/><polygon points="441.4,553.8 442.3,556.0 444.5,556.8 443.6,554.6" fill="#7fae76"/><polygon points="385.1,481.9 385.8,486.6 388.6,490.5 387.8,485.8" fill="#b0cf45"/><polygon points="378.4,469.0 379.5,471.1 381.8,471.7 380.7,469.6" fill="#7fae76"/><polygon points="422.0,544.2 421.7,546.8 423.5,548.6 423.8,546.0" fill="#c90000"/><polygon points="393.9,479.1 394.5,482.6 397.6,484.5 396.9,481.0" fill="#b0cf45"/><polygon points="414.2,529.7 415.6,532.6 418.7,533.2 417.4,530.3" fill="#c90000"/><polygon points="393.1,489.5 392.7,492.0 394.7,493.5 395.1,491.0" fill="#fbe100"/><polygon points="414.3,535.6 415.1,537.8 417.2,538.8 416.3,536.6" fill="#c90000"/><polygon points="396.3,493.3 396.3,495.9 398.5,497.2 398.6,494.6" fill="#c90000"/><polygon points="397.5,502.2 399.8,506.2 403.6,508.9 401.2,504.9" fill="#4a90a0"/><polygon points="402.1,507.7 401.6,510.8 404.0,513.0 404.4,509.9" fill="#b0cf45"/><polygon points="386.9,491.3 387.2,494.1 389.5,495.7 389.1,492.9" fill="#fbe100"/><polygon points="439.6,567.2 441.5,571.0 444.8,573.5 442.9,569.8" fill="#7fae76"/><polygon points="434.5,558.6 436.7,562.5 440.6,564.8 438.3,561.0" fill="#4a90a0"/><polygon points="413.5,514.3 414.0,517.9 416.0,521.0 415.6,517.3" fill="#7fae76"/><polygon points="396.4,492.8 396.9,495.1 399.0,496.0 398.5,493.7" fill="#c90000"/><polygon points="461.7,578.2 463.1,581.9 465.5,584.9 464.2,581.2" fill="#fbe100"/><polygon points="454.8,559.1 455.6,562.0 457.9,564.0 457.1,561.1" fill="#e67300"/><polygon points="433.6,542.0 433.5,544.0 435.4,544.7 435.4,542.7" fill="#e67300"/><polygon points="500.8,603.9 502.5,607.5 505.4,610.2 503.7,606.6" fill="#e67300"/><polygon points="461.6,571.4 462.7,573.2 464.9,572.8 463.7,570.9" fill="#4a90a0"/><polygon points="478.1,626.6 478.1,629.9 479.7,632.8 479.7,629.5" fill="#e67300"/><polygon points="449.8,545.6 452.0,548.7 455.6,549.9 453.4,546.7" fill="#4a90a0"/><polygon points="485.3,628.5 485.3,631.5 487.1,633.9 487.0,631.0" fill="#e67300"/><polygon points="444.5,545.1 445.9,548.9 448.5,551.9 447.2,548.1" fill="#fbe100"/><polygon points="433.2,556.6 433.4,558.8 435.0,560.3 434.8,558.0" fill="#1a70d0"/><polygon points="464.5,538.3 464.8,542.3 466.3,546.0 466.1,542.0" fill="#1a70d0"/><polygon points="454.4,630.2 456.6,633.7 460.3,635.7 458.1,632.1" fill="#e67300"/><polygon points="455.9,569.0 456.7,571.8 458.6,573.8 457.8,571.1" fill="#e67300"/><polygon points="410.3,538.6 410.4,541.4 411.9,543.9 411.8,541.0" fill="#1a70d0"/><polygon points="506.2,621.1 507.5,623.9 510.1,625.6 508.8,622.8" fill="#1a70d0"/><polygon points="474.8,595.0 477.2,596.3 480.0,596.0 477.5,594.8" fill="#e67300"/><polygon points="519.1,586.0 519.7,587.9 521.4,588.9 520.8,587.1" fill="#1a70d0"/><polygon points="466.3,579.5 466.4,581.4 468.3,581.9 468.1,580.0" fill="#1a70d0"/><polygon points="509.6,634.6 509.1,636.5 510.7,637.7 511.3,635.8" fill="#e67300"/><polygon points="440.8,625.4 441.1,629.7 442.8,633.6 442.5,629.3" fill="#e67300"/><polygon points="462.2,545.0 463.3,548.2 465.5,550.7 464.4,547.5" fill="#4a90a0"/><polygon points="470.0,626.8 471.7,630.9 474.9,633.8 473.2,629.8" fill="#1a70d0"/><polygon points="457.9,622.9 458.9,626.1 461.1,628.6 460.1,625.4" fill="#1a70d0"/><polygon points="442.7,627.2 444.7,628.8 447.3,628.3 445.2,626.7" fill="#fbe100"/><polygon points="443.1,624.1 446.7,625.7 450.6,626.1 447.0,624.5" fill="#fbe100"/><polygon points="500.4,559.9 501.3,562.1 503.7,562.7 502.7,560.5" fill="#e67300"/><polygon points="521.7,612.8 521.7,615.0 523.6,616.1 523.6,613.9" fill="#1a70d0"/><polygon points="436.5,587.4 437.7,590.0 440.3,590.8 439.2,588.3" fill="#fbe100"/><polygon points="504.9,632.3 506.6,634.5 509.3,635.1 507.6,632.9" fill="#1a70d0"/><polygon points="415.7,548.3 414.9,550.0 416.4,551.2 417.1,549.5" fill="#1a70d0"/><polygon points="444.3,541.8 446.9,545.3 450.8,547.4 448.2,543.9" fill="#1a70d0"/><polygon points="475.9,546.8 476.1,549.9 477.6,552.6 477.4,549.5" fill="#1a70d0"/><polygon points="499.2,559.7 503.0,561.5 507.2,561.1 503.4,559.3" fill="#1a70d0"/><polygon points="511.1,553.5 512.5,556.5 515.5,557.9 514.1,554.9" fill="#4a90a0"/><polygon points="519.2,548.9 522.1,551.2 525.7,552.0 522.8,549.7" fill="#fbe100"/><polygon points="505.7,593.0 507.1,595.0 509.5,595.4 508.1,593.4" fill="#fbe100"/><polygon points="477.4,573.3 480.5,575.3 484.0,576.1 480.9,574.1" fill="#1a70d0"/><polygon points="430.8,567.7 433.0,569.2 435.6,568.6 433.4,567.1" fill="#1a70d0"/><polygon points="501.5,590.3 502.1,592.1 504.0,592.8 503.3,590.9" fill="#fbe100"/><polygon points="428.0,543.2 427.6,545.2 429.2,546.5 429.6,544.5" fill="#1a70d0"/><polygon points="420.3,581.8 424.2,583.8 428.7,583.9 424.7,581.9" fill="#1a70d0"/><polygon points="436.3,612.8 437.0,616.7 439.3,619.9 438.7,616.0" fill="#fbe100"/><polygon points="509.1,542.6 510.3,544.7 512.5,545.8 511.3,543.7" fill="#1a70d0"/><polygon points="446.8,562.4 446.5,565.9 448.1,569.1 448.3,565.6" fill="#1a70d0"/><polygon points="480.0,545.9 481.3,547.3 483.2,547.0 481.9,545.6" fill="#1a70d0"/><polygon points="436.6,562.4 439.1,564.4 442.3,564.3 439.8,562.3" fill="#fbe100"/><polygon points="464.7,555.8 468.6,557.7 472.9,557.3 469.0,555.5" fill="#4a90a0"/><polygon points="451.4,546.6 452.2,550.4 455.1,553.1 454.3,549.3" fill="#fbe100"/><polygon points="443.0,587.4 444.9,589.8 447.8,590.5 445.9,588.2" fill="#e67300"/><polygon points="461.0,632.4 464.6,634.9 469.0,635.5 465.3,633.0" fill="#1a70d0"/><polygon points="508.1,472.6 512.0,470.5 513.1,466.2 509.2,468.3" fill="#7fae76"/><polygon points="528.5,520.4 532.9,515.6 535.4,509.7 531.0,514.4" fill="#fbe100"/><polygon points="446.7,453.3 450.4,447.9 451.0,441.4 447.3,446.8" fill="#7fae76"/><polygon points="487.5,471.6 489.5,468.6 488.6,465.0 486.5,468.1" fill="#b0cf45"/><polygon points="497.8,523.8 503.3,520.2 506.4,514.5 500.9,518.1" fill="#fbe100"/><polygon points="436.9,509.1 441.5,502.5 443.7,494.8 439.1,501.4" fill="#7fae76"/><polygon points="446.4,492.1 450.9,485.4 452.6,477.5 448.1,484.2" fill="#fbe100"/><polygon points="490.9,530.4 492.5,526.1 492.0,521.5 490.4,525.8" fill="#fbe100"/><polygon points="463.4,493.3 465.8,490.9 466.2,487.6 463.8,490.0" fill="#fbe100"/><polygon points="490.1,475.5 495.8,471.1 499.5,464.9 493.8,469.4" fill="#b0cf45"/><polygon points="427.1,466.4 429.4,463.5 429.8,459.7 427.4,462.6" fill="#4a90a0"/><polygon points="485.5,461.0 488.2,457.7 488.7,453.4 486.0,456.7" fill="#fbe100"/><polygon points="499.4,444.4 504.8,439.5 507.2,432.6 501.8,437.6" fill="#b0cf45"/><polygon points="491.0,492.8 493.9,490.5 494.5,486.8 491.6,489.1" fill="#fbe100"/><polygon points="485.8,468.7 487.8,462.4 487.0,455.9 484.9,462.2" fill="#4a90a0"/><polygon points="445.4,454.9 449.3,452.1 450.3,447.4 446.4,450.2" fill="#4a90a0"/><polygon points="477.1,488.9 481.1,483.4 481.4,476.6 477.5,482.1" fill="#b0cf45"/><polygon points="528.8,424.9 532.0,423.5 532.9,420.1 529.7,421.5" fill="#7fae76"/><polygon points="485.5,509.3 489.2,505.3 489.9,499.9 486.2,503.9" fill="#b0cf45"/><polygon points="502.1,491.1 504.1,484.4 503.6,477.4 501.7,484.1" fill="#7fae76"/><polygon points="503.7,516.9 506.6,511.1 507.4,504.6 504.4,510.4" fill="#7fae76"/><polygon points="505.7,505.1 509.6,502.5 511.2,498.2 507.3,500.7" fill="#fbe100"/><polygon points="498.2,451.2 500.7,447.0 501.0,442.2 498.6,446.4" fill="#4a90a0"/><polygon points="521.3,451.1 523.5,446.4 523.2,441.1 521.0,445.9" fill="#4a90a0"/><polygon points="501.7,444.5 503.8,440.5 503.0,436.1 500.8,440.0" fill="#4a90a0"/><polygon points="484.7,485.0 490.4,480.9 493.6,474.7 487.9,478.7" fill="#b0cf45"/><polygon points="448.3,510.8 453.8,506.9 457.5,501.2 452.0,505.2" fill="#fbe100"/><polygon points="447.3,453.7 451.1,447.2 453.0,439.9 449.2,446.4" fill="#4a90a0"/><polygon points="442.9,490.0 446.4,488.2 448.0,484.6 444.4,486.3" fill="#4a90a0"/><polygon points="451.5,489.9 454.5,487.4 454.0,483.5 451.0,486.0" fill="#7fae76"/><polygon points="444.3,494.3 449.3,489.8 452.1,483.6 447.1,488.2" fill="#b0cf45"/><polygon points="505.3,497.8 508.2,494.0 509.1,489.3 506.2,493.1" fill="#4a90a0"/><polygon points="480.0,439.5 485.8,434.6 490.0,428.4 484.2,433.3" fill="#b0cf45"/><polygon points="437.2,493.9 441.3,491.1 443.1,486.5 439.0,489.3" fill="#b0cf45"/><polygon points="431.6,509.2 435.7,502.4 437.5,494.6 433.5,501.5" fill="#4a90a0"/><polygon points="415.6,460.2 417.7,456.8 416.9,452.9 414.7,456.3" fill="#fbe100"/><polygon points="525.3,505.9 528.1,503.1 528.5,499.2 525.6,501.9" fill="#4a90a0"/><polygon points="466.7,546.0 470.1,541.9 469.9,536.5 466.4,540.6" fill="#4a90a0"/><polygon points="412.0,488.2 415.0,485.1 415.3,480.9 412.3,483.9" fill="#b0cf45"/><polygon points="492.0,483.5 496.1,481.8 497.7,477.6 493.5,479.3" fill="#4a90a0"/><polygon points="523.5,439.8 528.5,435.2 531.4,429.1 526.4,433.6" fill="#b0cf45"/><polygon points="460.1,525.5 462.4,518.1 461.9,510.3 459.7,517.7" fill="#7fae76"/><polygon points="466.8,531.3 469.4,526.1 470.1,520.4 467.4,525.5" fill="#7fae76"/><polygon points="430.9,453.1 433.9,447.9 434.7,442.0 431.7,447.2" fill="#b0cf45"/><polygon points="523.6,437.4 528.6,432.7 530.9,426.3 525.9,431.0" fill="#b0cf45"/><polygon points="470.8,488.7 476.0,485.0 479.4,479.5 474.2,483.3" fill="#b0cf45"/><polygon points="459.1,498.0 462.3,494.7 462.9,490.2 459.7,493.4" fill="#fbe100"/><polygon points="499.5,455.6 502.6,448.6 502.4,440.9 499.3,448.0" fill="#b0cf45"/><polygon points="441.4,491.0 445.3,484.4 446.4,476.9 442.6,483.4" fill="#b0cf45"/><polygon points="467.1,502.2 472.8,497.4 476.3,490.8 470.6,495.6" fill="#fbe100"/><polygon points="470.0,490.0 472.8,484.8 472.1,479.0 469.3,484.2" fill="#fbe100"/><polygon points="471.4,544.4 473.4,541.4 473.3,537.8 471.2,540.8" fill="#4a90a0"/><polygon points="478.0,540.9 482.1,536.7 482.7,530.8 478.5,535.0" fill="#fbe100"/><polygon points="426.9,437.1 428.9,433.4 428.9,429.1 426.9,432.9" fill="#fbe100"/><polygon points="466.4,540.0 471.5,535.4 473.6,528.8 468.5,533.4" fill="#4a90a0"/><polygon points="501.1,509.0 503.7,503.0 503.4,496.5 500.8,502.5" fill="#7fae76"/><polygon points="427.3,471.1 433.2,466.8 435.9,460.0 430.0,464.3" fill="#b0cf45"/><polygon points="498.8,484.7 501.3,478.2 501.1,471.4 498.7,477.8" fill="#b0cf45"/><polygon points="502.3,494.4 507.2,488.4 509.3,480.9 504.3,486.9" fill="#4a90a0"/><polygon points="479.3,489.6 483.6,485.5 486.0,480.1 481.7,484.2" fill="#7fae76"/><polygon points="485.6,432.7 489.6,426.4 489.2,419.0 485.2,425.3" fill="#b0cf45"/><polygon points="459.9,450.1 464.1,447.8 466.2,443.5 461.9,445.7" fill="#7fae76"/><polygon points="424.1,459.9 426.6,455.7 426.1,450.7 423.6,455.0" fill="#7fae76"/><polygon points="522.7,446.4 526.6,441.5 527.5,435.5 523.6,440.3" fill="#b0cf45"/><polygon points="510.5,445.7 515.3,438.5 514.8,429.9 510.1,437.1" fill="#fbe100"/><polygon points="463.2,437.9 467.7,429.9 467.0,420.6 462.5,428.7" fill="#fbe100"/><polygon points="419.3,468.0 426.7,463.6 430.9,456.1 423.6,460.5" fill="#b0cf45"/><polygon points="526.7,458.6 530.7,451.0 530.6,442.3 526.5,449.9" fill="#7fae76"/><polygon points="523.2,471.1 526.4,464.0 525.5,456.2 522.2,463.3" fill="#b0cf45"/><polygon points="467.0,475.9 473.8,472.1 477.6,465.3 470.8,469.1" fill="#b0cf45"/><polygon points="477.3,451.8 482.4,444.3 484.1,435.4 479.1,442.9" fill="#7fae76"/><polygon points="496.7,428.9 500.8,426.9 502.0,422.6 497.9,424.5" fill="#7fae76"/><polygon points="428.3,460.9 434.0,456.9 436.7,450.4 430.9,454.4" fill="#b0cf45"/><polygon points="427.3,450.5 434.0,443.4 436.7,434.1 430.0,441.2" fill="#fbe100"/><polygon points="518.6,476.0 523.6,469.0 525.1,460.6 520.1,467.5" fill="#7fae76"/><polygon points="430.4,439.7 433.3,434.8 432.2,429.3 429.3,434.1" fill="#fbe100"/><polygon points="504.3,449.9 511.9,443.3 516.7,434.5 509.2,441.1" fill="#fbe100"/><polygon points="517.1,454.6 523.0,452.5 524.4,446.4 518.6,448.5" fill="#7fae76"/><polygon points="445.4,441.9 452.9,436.7 457.9,429.1 450.5,434.3" fill="#fbe100"/><polygon points="529.1,484.4 533.9,478.3 535.6,470.7 530.8,476.8" fill="#7fae76"/><polygon points="450.2,471.7 454.3,469.3 453.8,464.5 449.7,466.9" fill="#fbe100"/><polygon points="420.3,435.4 424.6,429.4 424.4,422.1 420.0,428.1" fill="#fbe100"/><polygon points="506.9,482.3 512.6,476.2 515.6,468.4 509.9,474.5" fill="#7fae76"/><polygon points="517.8,470.4 520.3,466.5 519.3,462.0 516.8,465.9" fill="#fbe100"/><polygon points="511.6,434.6 517.8,427.5 520.8,418.7 514.7,425.7" fill="#fbe100"/><polygon points="528.9,477.1 533.1,474.0 531.7,469.0 527.5,472.1" fill="#fbe100"/><polygon points="528.3,482.1 533.9,474.9 534.5,465.9 528.9,473.0" fill="#7fae76"/><polygon points="445.3,436.8 450.2,428.8 449.3,419.6 444.4,427.5" fill="#7fae76"/><polygon points="495.3,450.9 499.2,444.0 499.5,436.2 495.6,443.0" fill="#b0cf45"/><polygon points="417.8,454.5 423.3,448.4 425.3,440.5 419.8,446.6" fill="#fbe100"/><polygon points="561.4,447.3 563.7,443.8 563.8,439.7 561.5,443.1" fill="#fbe100"/><polygon points="595.5,538.7 597.0,536.9 596.4,534.7 595.0,536.5" fill="#c90000"/><polygon points="583.9,497.4 586.7,493.5 587.6,488.8 584.7,492.6" fill="#b0cf45"/><polygon points="573.7,437.7 575.9,433.7 576.7,429.2 574.5,433.2" fill="#b0cf45"/><polygon points="566.5,533.2 568.5,531.5 568.1,528.8 566.1,530.6" fill="#7fae76"/><polygon points="603.3,494.2 604.3,491.6 603.1,489.1 602.1,491.7" fill="#7fae76"/><polygon points="578.1,442.3 579.4,438.7 578.5,435.0 577.1,438.6" fill="#7fae76"/><polygon points="574.2,526.8 576.0,523.3 575.7,519.3 573.9,522.8" fill="#fbe100"/><polygon points="629.8,524.3 631.9,520.3 631.6,515.8 629.6,519.8" fill="#b0cf45"/><polygon points="595.5,503.1 596.3,499.9 594.4,497.3 593.6,500.5" fill="#b0cf45"/><polygon points="590.3,439.4 593.2,435.9 593.7,431.3 590.7,434.9" fill="#4a90a0"/><polygon points="567.9,444.7 570.6,441.5 571.4,437.4 568.7,440.6" fill="#4a90a0"/><polygon points="602.9,544.2 604.2,540.4 604.0,536.4 602.7,540.2" fill="#4a90a0"/><polygon points="568.1,492.2 570.9,488.4 572.0,483.7 569.1,487.5" fill="#fbe100"/><polygon points="591.1,513.3 592.4,509.7 591.3,506.0 590.0,509.6" fill="#7fae76"/><polygon points="563.8,537.9 565.9,535.7 566.6,532.8 564.5,534.9" fill="#fbe100"/><polygon points="605.5,482.0 604.9,477.1 602.6,472.8 603.1,477.7" fill="#c90000"/><polygon points="555.3,541.3 556.7,539.2 556.3,536.6 554.9,538.8" fill="#fbe100"/><polygon points="550.2,512.4 552.8,508.6 552.9,504.1 550.3,507.8" fill="#fbe100"/><polygon points="543.2,428.2 543.6,423.8 542.3,419.5 541.9,423.9" fill="#c90000"/><polygon points="622.2,535.3 625.1,532.5 625.4,528.5 622.4,531.3" fill="#4a90a0"/><polygon points="538.3,532.1 539.1,529.0 537.7,526.2 536.8,529.3" fill="#7fae76"/><polygon points="580.9,440.9 582.8,439.0 582.4,436.3 580.5,438.2" fill="#fbe100"/><polygon points="592.6,549.4 592.3,544.5 589.5,540.5 589.9,545.4" fill="#7fae76"/><polygon points="594.5,495.9 594.7,492.2 592.2,489.4 592.1,493.1" fill="#7fae76"/><polygon points="574.6,551.3 576.1,549.5 575.9,547.2 574.5,549.0" fill="#b0cf45"/><polygon points="546.9,477.5 547.7,473.4 546.0,469.6 545.2,473.7" fill="#7fae76"/><polygon points="628.7,532.6 630.5,529.6 630.3,526.1 628.6,529.1" fill="#c90000"/><polygon points="589.6,488.8 592.9,485.0 594.7,480.3 591.3,484.1" fill="#7fae76"/><polygon points="545.1,440.6 546.2,438.3 545.2,435.9 544.1,438.3" fill="#fbe100"/><polygon points="622.3,547.4 622.7,544.6 621.7,542.1 621.2,544.8" fill="#4a90a0"/><polygon points="566.1,429.2 567.8,424.6 566.9,419.7 565.2,424.3" fill="#7fae76"/><polygon points="596.3,464.4 599.2,461.3 599.6,457.0 596.8,460.2" fill="#7fae76"/><polygon points="583.3,534.0 585.0,531.9 583.7,529.5 582.0,531.7" fill="#4a90a0"/><polygon points="553.9,536.0 557.5,532.9 558.8,528.3 555.2,531.4" fill="#7fae76"/><polygon points="625.2,455.8 626.6,452.0 625.5,448.1 624.2,451.9" fill="#4a90a0"/><polygon points="538.1,471.3 539.0,467.6 538.2,463.8 537.3,467.5" fill="#4a90a0"/><polygon points="569.8,516.1 572.1,514.6 572.1,511.9 569.8,513.3" fill="#b0cf45"/><polygon points="598.2,531.2 598.4,527.4 596.2,524.3 595.9,528.1" fill="#fbe100"/><polygon points="574.3,554.6 576.2,550.0 576.3,545.1 574.4,549.6" fill="#b0cf45"/><polygon points="543.6,494.1 545.8,490.8 546.6,486.9 544.4,490.2" fill="#c90000"/><polygon points="630.6,545.6 633.2,544.0 633.5,540.9 630.9,542.5" fill="#b0cf45"/><polygon points="572.6,427.7 573.3,425.6 572.5,423.6 571.8,425.7" fill="#b0cf45"/><polygon points="560.7,515.0 562.8,513.3 562.2,510.7 560.1,512.3" fill="#b0cf45"/><polygon points="592.6,459.7 592.7,454.7 590.2,450.3 590.1,455.3" fill="#7fae76"/><polygon points="583.7,456.7 584.3,452.4 582.3,448.5 581.7,452.8" fill="#c90000"/><polygon points="571.3,531.3 572.9,527.1 572.6,522.7 571.0,526.9" fill="#c90000"/><polygon points="594.7,535.2 594.9,530.6 593.4,526.2 593.3,530.8" fill="#c90000"/><polygon points="618.3,531.2 619.7,527.9 618.3,524.7 616.9,527.9" fill="#4a90a0"/><polygon points="582.0,426.9 581.8,422.7 579.9,418.9 580.1,423.1" fill="#4a90a0"/><polygon points="682.9,504.6 681.8,508.3 683.2,511.9 684.3,508.2" fill="#4a90a0"/><polygon points="645.1,532.9 645.4,534.8 647.2,535.6 646.9,533.7" fill="#c90000"/><polygon points="694.6,546.9 695.1,549.0 697.2,549.1 696.8,547.1" fill="#fbe100"/><polygon points="663.8,455.8 663.1,457.8 664.5,459.4 665.2,457.4" fill="#7fae76"/><polygon points="725.9,527.2 725.7,529.4 727.5,530.8 727.6,528.6" fill="#7fae76"/><polygon points="659.8,455.1 658.7,458.1 660.5,460.7 661.5,457.7" fill="#fbe100"/><polygon points="650.9,468.1 649.5,472.0 649.6,476.1 651.1,472.3" fill="#c90000"/><polygon points="709.7,492.7 709.9,496.4 712.4,499.2 712.2,495.5" fill="#7fae76"/><polygon points="686.6,541.5 686.9,543.6 689.0,544.1 688.7,542.0" fill="#fbe100"/><polygon points="657.2,481.8 657.0,485.8 658.6,489.6 658.8,485.5" fill="#7fae76"/><polygon points="702.8,546.2 704.1,550.5 707.2,553.6 705.9,549.4" fill="#c90000"/><polygon points="710.7,459.4 713.0,462.9 716.6,464.9 714.4,461.4" fill="#fbe100"/><polygon points="671.2,493.0 669.5,496.2 670.7,499.7 672.4,496.5" fill="#c90000"/><polygon points="684.7,485.8 684.5,489.0 686.0,491.8 686.2,488.6" fill="#fbe100"/><polygon points="727.4,457.9 726.1,460.4 726.9,463.0 728.1,460.5" fill="#c90000"/><polygon points="674.9,508.8 674.2,511.4 676.1,513.2 676.8,510.7" fill="#fbe100"/><polygon points="727.6,541.4 726.5,545.4 727.0,549.5 728.1,545.5" fill="#c90000"/><polygon points="670.6,508.2 669.0,509.7 669.9,511.8 671.6,510.2" fill="#7fae76"/><polygon points="730.4,530.6 728.8,533.0 730.0,535.7 731.6,533.3" fill="#fbe100"/><polygon points="725.2,521.0 724.4,522.9 725.2,524.8 726.0,522.9" fill="#4a90a0"/><polygon points="716.5,517.8 716.5,521.2 719.0,523.7 719.0,520.2" fill="#4a90a0"/><polygon points="689.5,447.5 690.3,450.0 692.5,451.6 691.6,449.1" fill="#fbe100"/><polygon points="721.3,530.1 723.6,531.8 726.5,532.0 724.2,530.2" fill="#c90000"/><polygon points="682.7,531.3 685.8,534.2 689.9,535.3 686.8,532.5" fill="#7fae76"/><polygon points="652.7,530.9 651.1,533.6 651.3,536.8 652.9,534.1" fill="#4a90a0"/><polygon points="662.8,514.3 662.3,518.0 664.0,521.4 664.5,517.7" fill="#c90000"/><polygon points="711.3,525.3 710.9,529.9 713.1,534.0 713.5,529.4" fill="#c90000"/><polygon points="708.8,468.7 709.2,471.6 711.9,472.7 711.5,469.8" fill="#fbe100"/><polygon points="673.1,512.0 673.6,516.0 675.8,519.4 675.3,515.4" fill="#b0cf45"/><polygon points="688.3,523.9 688.9,526.9 691.5,528.3 691.0,525.4" fill="#c90000"/><polygon points="724.5,470.3 726.4,472.3 729.1,472.3 727.3,470.4" fill="#c90000"/><polygon points="678.4,504.8 679.5,506.5 681.6,506.5 680.4,504.7" fill="#fbe100"/><polygon points="683.8,534.3 686.5,536.7 690.0,537.8 687.3,535.4" fill="#fbe100"/><polygon points="707.5,530.0 706.7,532.3 708.1,534.3 709.0,532.0" fill="#7fae76"/><polygon points="664.7,480.4 663.9,483.0 665.2,485.4 666.1,482.8" fill="#c90000"/><polygon points="682.0,542.4 682.7,546.5 685.2,549.9 684.4,545.8" fill="#c90000"/><polygon points="685.8,537.4 685.3,541.0 687.2,544.1 687.7,540.5" fill="#4a90a0"/><polygon points="693.0,511.0 691.5,514.0 692.6,517.2 694.1,514.2" fill="#fbe100"/><polygon points="653.5,468.4 652.9,470.3 653.8,472.2 654.4,470.2" fill="#7fae76"/><polygon points="655.8,499.8 657.0,503.7 660.2,506.4 658.9,502.5" fill="#4a90a0"/><polygon points="665.2,470.3 666.0,473.1 668.5,474.7 667.6,471.9" fill="#b0cf45"/><polygon points="654.7,496.7 655.8,500.1 658.9,501.8 657.8,498.5" fill="#c90000"/><polygon points="663.6,537.9 663.2,540.4 665.3,541.7 665.7,539.2" fill="#c90000"/><polygon points="654.2,497.1 653.6,499.1 655.0,500.7 655.6,498.6" fill="#fbe100"/><polygon points="691.1,463.1 690.7,467.1 692.4,470.8 692.9,466.8" fill="#c90000"/><polygon points="646.4,529.3 644.4,533.1 644.0,537.4 646.0,533.6" fill="#4a90a0"/><polygon points="651.3,491.4 653.2,494.3 656.7,494.7 654.8,491.8" fill="#4a90a0"/><polygon points="658.9,487.6 660.8,489.8 663.6,490.5 661.8,488.2" fill="#7fae76"/><polygon points="651.1,528.0 652.0,529.9 654.1,530.3 653.2,528.4" fill="#c90000"/><polygon points="703.0,458.5 701.0,461.9 702.0,465.6 704.0,462.3" fill="#7fae76"/><polygon points="689.8,463.5 690.6,465.4 692.6,466.2 691.8,464.3" fill="#b0cf45"/><polygon points="705.1,475.8 704.6,480.3 705.7,484.7 706.2,480.2" fill="#fbe100"/><polygon points="644.4,512.3 644.0,516.9 646.3,520.9 646.6,516.3" fill="#fbe100"/><polygon points="711.7,469.1 711.3,472.3 712.9,475.2 713.3,471.9" fill="#c90000"/><polygon points="677.8,487.0 677.4,491.3 680.0,494.7 680.3,490.5" fill="#4a90a0"/><polygon points="705.0,536.5 703.5,540.6 703.5,545.0 705.0,540.9" fill="#b0cf45"/><polygon points="710.6,466.9 710.3,469.9 711.8,472.4 712.1,469.5" fill="#4a90a0"/><polygon points="682.0,521.1 684.9,523.9 688.8,524.7 685.9,522.0" fill="#b0cf45"/><polygon points="710.0,545.6 707.3,548.5 706.1,552.3 708.9,549.4" fill="#c90000"/><polygon points="717.7,517.6 719.9,519.9 723.1,520.1 720.9,517.8" fill="#c90000"/><polygon points="684.3,500.7 684.6,502.8 686.6,503.5 686.3,501.4" fill="#fbe100"/><polygon points="723.3,489.9 721.2,492.1 720.7,495.1 722.9,493.0" fill="#b0cf45"/><polygon points="675.3,460.0 677.7,462.6 681.2,462.4 678.8,459.8" fill="#b0cf45"/><polygon points="655.4,525.2 656.1,528.1 658.8,529.5 658.0,526.6" fill="#4a90a0"/><polygon points="642.2,459.4 643.5,461.9 646.2,462.8 644.9,460.3" fill="#7fae76"/><polygon points="654.7,502.3 654.6,505.5 656.0,508.3 656.1,505.2" fill="#fbe100"/><polygon points="695.6,531.1 695.3,533.3 697.5,533.7 697.7,531.5" fill="#fbe100"/><polygon points="722.2,476.5 722.7,479.6 725.0,481.7 724.5,478.6" fill="#fbe100"/><polygon points="677.2,473.7 675.6,475.4 675.8,477.8 677.4,476.1" fill="#7fae76"/><polygon points="710.9,501.0 708.4,503.0 708.4,506.3 710.9,504.2" fill="#7fae76"/><polygon points="687.4,517.0 687.7,519.2 689.8,519.4 689.6,517.3" fill="#fbe100"/><polygon points="673.8,527.1 674.4,531.4 677.1,534.8 676.5,530.5" fill="#b0cf45"/><polygon points="716.0,538.8 718.7,542.1 722.7,543.2 720.0,539.9" fill="#c90000"/><polygon points="692.3,534.3 694.0,536.9 697.1,537.7 695.3,535.1" fill="#fbe100"/><polygon points="679.1,519.4 677.7,521.5 678.9,523.8 680.4,521.6" fill="#b0cf45"/><polygon points="719.8,543.6 718.8,545.5 720.5,546.9 721.5,545.0" fill="#c90000"/><polygon points="724.1,509.4 723.2,513.8 725.3,517.8 726.1,513.3" fill="#c90000"/><polygon points="685.6,458.8 684.5,461.9 685.4,465.1 686.4,462.0" fill="#4a90a0"/><polygon points="724.6,450.5 725.6,453.4 728.1,455.1 727.1,452.2" fill="#b0cf45"/><polygon points="684.0,469.6 682.8,473.7 683.4,478.0 684.5,473.9" fill="#fbe100"/><polygon points="635.8,569.9 635.1,572.0 636.4,573.9 637.1,571.7" fill="#c90000"/><polygon points="587.6,620.1 590.3,621.0 592.2,619.0 589.5,618.1" fill="#fbe100"/><polygon points="614.2,595.1 616.5,595.5 617.2,593.3 614.9,592.9" fill="#b0cf45"/><polygon points="558.5,627.5 560.2,628.0 561.7,627.0 560.0,626.4" fill="#fbe100"/><polygon points="614.2,633.6 615.0,635.6 617.2,635.5 616.4,633.5" fill="#4a90a0"/><polygon points="546.8,594.7 549.5,597.6 553.5,598.0 550.8,595.1" fill="#fbe100"/><polygon points="619.9,612.4 621.9,612.4 623.3,610.9 621.3,610.9" fill="#c90000"/><polygon points="595.6,601.7 598.3,601.2 599.8,598.9 597.2,599.5" fill="#fbe100"/><polygon points="613.7,615.6 617.2,618.7 621.7,619.6 618.2,616.5" fill="#fbe100"/><polygon points="557.7,612.9 560.0,612.8 560.7,610.5 558.4,610.7" fill="#fbe100"/><polygon points="538.8,552.3 537.6,554.5 538.3,556.8 539.5,554.7" fill="#fbe100"/><polygon points="542.6,582.4 547.2,583.3 551.4,581.4 546.8,580.6" fill="#b0cf45"/><polygon points="597.8,602.3 598.1,605.5 600.1,608.0 599.7,604.8" fill="#b0cf45"/><polygon points="554.5,555.8 554.4,558.5 556.6,560.0 556.7,557.3" fill="#e67300"/><polygon points="593.1,580.4 591.9,583.6 592.6,586.9 593.8,583.7" fill="#4a90a0"/><polygon points="581.5,556.2 582.3,559.2 584.9,561.0 584.0,558.0" fill="#4a90a0"/><polygon points="600.3,567.3 601.4,569.8 604.0,570.6 602.9,568.1" fill="#fbe100"/><polygon points="549.6,626.7 552.8,627.7 555.8,626.4 552.7,625.4" fill="#e67300"/><polygon points="628.1,562.3 630.2,562.2 631.6,560.7 629.5,560.8" fill="#b0cf45"/><polygon points="574.0,622.1 576.6,622.7 579.0,621.6 576.4,621.0" fill="#c90000"/><polygon points="627.1,632.5 628.9,633.5 630.5,632.2 628.7,631.1" fill="#fbe100"/><polygon points="536.8,627.6 540.1,628.7 543.5,627.9 540.2,626.8" fill="#c90000"/><polygon points="552.5,581.0 552.6,584.7 554.9,587.7 554.8,583.9" fill="#fbe100"/><polygon points="548.9,594.6 548.1,597.2 549.8,599.3 550.6,596.8" fill="#e67300"/><polygon points="631.0,597.3 629.9,600.2 631.2,603.1 632.2,600.2" fill="#c90000"/><polygon points="540.8,555.6 539.7,558.2 540.6,560.9 541.7,558.3" fill="#b0cf45"/><polygon points="544.2,553.8 545.7,556.1 548.3,556.9 546.8,554.6" fill="#b0cf45"/><polygon points="544.6,553.5 545.3,557.0 548.1,559.1 547.4,555.7" fill="#4a90a0"/><polygon points="540.6,585.0 541.4,586.5 543.2,586.7 542.4,585.1" fill="#c90000"/><polygon points="548.5,628.3 549.3,630.6 551.7,630.7 550.9,628.5" fill="#fbe100"/><polygon points="630.6,635.5 635.0,636.4 639.3,635.1 634.9,634.2" fill="#fbe100"/><polygon points="551.3,624.9 551.4,626.7 552.9,627.6 552.7,625.8" fill="#4a90a0"/><polygon points="619.2,617.2 622.7,619.9 627.2,620.3 623.6,617.6" fill="#c90000"/><polygon points="553.2,582.5 556.2,582.3 558.6,580.6 555.6,580.8" fill="#fbe100"/><polygon points="621.8,572.5 624.0,573.1 625.3,571.2 623.1,570.6" fill="#4a90a0"/><polygon points="590.9,631.3 591.9,633.3 594.0,633.0 593.1,631.0" fill="#b0cf45"/><polygon points="616.4,621.9 616.3,624.1 618.2,625.3 618.3,623.1" fill="#c90000"/><polygon points="602.4,612.2 604.1,614.2 606.7,614.2 605.0,612.2" fill="#fbe100"/><polygon points="589.5,567.1 592.1,568.2 594.7,567.2 592.1,566.1" fill="#c90000"/><polygon points="585.5,555.3 585.1,558.8 586.4,562.1 586.8,558.6" fill="#fbe100"/><polygon points="586.1,625.0 585.5,627.0 587.3,628.1 587.9,626.1" fill="#4a90a0"/><polygon points="577.7,621.5 581.0,621.6 584.1,620.2 580.7,620.0" fill="#e67300"/><polygon points="550.0,576.6 549.4,579.9 551.2,582.9 551.7,579.5" fill="#fbe100"/><polygon points="584.8,561.1 583.3,564.5 584.4,568.0 585.9,564.6" fill="#e67300"/><polygon points="541.3,633.7 540.6,637.2 541.7,640.6 542.4,637.1" fill="#b0cf45"/><polygon points="564.1,618.6 565.1,622.0 568.2,623.7 567.2,620.3" fill="#c90000"/><polygon points="566.4,617.9 566.5,622.0 568.3,625.7 568.2,621.6" fill="#fbe100"/><polygon points="575.5,586.0 579.7,585.1 582.7,582.0 578.5,582.9" fill="#e67300"/><polygon points="580.1,595.9 581.3,597.2 583.1,597.2 581.9,595.8" fill="#b0cf45"/><polygon points="589.5,595.5 591.7,596.7 593.8,595.3 591.6,594.2" fill="#c90000"/><polygon points="538.4,603.9 538.8,606.7 541.1,608.2 540.8,605.4" fill="#b0cf45"/><polygon points="545.4,585.3 548.8,585.1 550.7,582.4 547.3,582.6" fill="#b0cf45"/><polygon points="574.3,575.2 573.0,576.9 574.3,578.5 575.7,576.9" fill="#b0cf45"/><polygon points="542.8,631.3 543.6,634.1 546.2,635.5 545.3,632.7" fill="#4a90a0"/><polygon points="571.9,619.1 574.8,620.6 578.0,620.3 575.1,618.8" fill="#4a90a0"/><polygon points="601.6,609.5 603.8,609.8 604.6,607.8 602.4,607.4" fill="#c90000"/><polygon points="585.6,639.2 588.7,638.0 590.7,635.3 587.6,636.5" fill="#c90000"/><polygon points="590.7,616.8 594.8,617.0 597.9,614.5 593.9,614.2" fill="#b0cf45"/><polygon points="630.2,611.4 632.6,614.9 636.6,616.1 634.2,612.7" fill="#fbe100"/><polygon points="617.3,598.8 616.4,600.6 617.8,602.1 618.6,600.3" fill="#fbe100"/><polygon points="524.5,617.1 528.0,616.8 530.9,614.8 527.4,615.2" fill="#b3b3b3"/><polygon points="586.5,675.3 587.6,678.1 590.3,679.4 589.2,676.7" fill="#1a70d0"/><polygon points="543.5,641.9 545.9,641.8 547.9,640.5 545.5,640.6" fill="#b3b3b3"/><polygon points="552.0,625.4 551.7,627.9 553.1,630.0 553.4,627.5" fill="#b3b3b3"/><polygon points="617.8,682.6 620.6,682.7 622.5,680.8 619.8,680.7" fill="#dd3a00"/><polygon points="563.3,616.5 562.2,618.5 563.5,620.2 564.6,618.3" fill="#b3b3b3"/><polygon points="543.6,642.8 547.1,643.0 550.1,641.3 546.6,641.2" fill="#e67300"/><polygon points="554.5,629.9 555.7,632.8 558.4,634.3 557.2,631.4" fill="#b3b3b3"/><polygon points="571.0,610.6 572.1,612.8 574.5,613.3 573.3,611.2" fill="#e67300"/><polygon points="548.8,677.1 548.3,680.3 549.7,683.3 550.1,680.1" fill="#dd3a00"/><polygon points="529.2,633.6 528.2,636.6 529.1,639.7 530.1,636.7" fill="#fbe100"/><polygon points="526.2,626.2 529.6,625.7 532.4,623.8 529.0,624.2" fill="#dd3a00"/><polygon points="571.9,682.2 574.2,682.8 576.4,681.9 574.1,681.2" fill="#e67300"/><polygon points="595.9,628.7 597.0,630.4 599.0,630.4 597.9,628.7" fill="#e67300"/><polygon points="543.0,608.8 544.7,611.1 547.6,611.5 545.8,609.2" fill="#dd3a00"/><polygon points="537.8,671.9 539.9,672.4 541.2,670.6 539.0,670.1" fill="#1a70d0"/><polygon points="565.5,639.1 567.1,639.8 568.7,639.0 567.0,638.3" fill="#1a70d0"/><polygon points="606.2,637.7 608.8,638.3 610.9,636.5 608.2,635.9" fill="#b3b3b3"/><polygon points="603.8,642.7 606.0,645.0 609.2,645.1 607.0,642.8" fill="#fbe100"/><polygon points="556.1,595.3 554.7,598.2 555.0,601.5 556.4,598.5" fill="#dd3a00"/><polygon points="525.5,657.1 525.9,659.2 528.0,659.7 527.6,657.6" fill="#dd3a00"/><polygon points="583.0,621.7 581.9,623.7 583.3,625.5 584.4,623.5" fill="#fbe100"/><polygon points="642.8,656.5 643.1,658.4 645.0,658.6 644.7,656.6" fill="#b3b3b3"/><polygon points="625.3,697.8 628.7,698.4 632.1,697.7 628.7,697.1" fill="#fbe100"/><polygon points="605.0,649.0 605.5,652.5 607.4,655.4 607.0,651.9" fill="#fbe100"/><polygon points="569.4,683.7 568.7,686.8 569.9,689.8 570.6,686.7" fill="#e67300"/><polygon points="533.6,592.2 534.0,593.9 535.8,594.4 535.3,592.6" fill="#dd3a00"/><polygon points="568.2,672.2 568.4,675.0 570.6,676.7 570.4,673.9" fill="#fbe100"/><polygon points="594.1,641.6 595.9,642.2 597.2,640.9 595.4,640.3" fill="#fbe100"/><polygon points="535.8,667.1 535.9,669.6 537.7,671.3 537.6,668.8" fill="#dd3a00"/><polygon points="562.8,667.3 565.2,667.4 567.3,666.1 564.8,666.0" fill="#1a70d0"/><polygon points="605.9,688.6 605.7,691.3 607.1,693.6 607.3,690.9" fill="#fbe100"/><polygon points="595.6,638.1 595.3,641.1 597.0,643.7 597.2,640.6" fill="#e67300"/><polygon points="611.1,674.0 613.2,676.5 616.2,677.8 614.1,675.3" fill="#e67300"/><polygon points="594.0,697.3 596.3,698.6 598.7,697.6 596.4,696.3" fill="#b3b3b3"/><polygon points="566.5,627.4 569.0,628.5 571.5,627.5 569.0,626.4" fill="#e67300"/><polygon points="626.8,666.8 626.4,668.8 627.6,670.5 628.0,668.5" fill="#dd3a00"/><polygon points="556.4,594.1 555.3,595.6 555.8,597.4 556.9,595.9" fill="#fbe100"/><polygon points="551.8,639.1 554.1,640.1 556.1,638.7 553.8,637.7" fill="#b3b3b3"/><polygon points="587.1,680.1 590.0,680.0 592.6,678.7 589.7,678.8" fill="#dd3a00"/><polygon points="651.1,604.7 651.6,608.6 654.2,611.5 653.7,607.6" fill="#c90000"/><polygon points="704.5,591.9 706.5,595.2 709.6,597.3 707.7,594.0" fill="#c90000"/><polygon points="692.4,577.9 692.1,582.1 694.2,585.9 694.4,581.6" fill="#fbe100"/><polygon points="736.3,578.7 735.3,581.4 736.4,584.0 737.5,581.4" fill="#c90000"/><polygon points="728.6,565.1 728.6,569.1 730.2,572.8 730.1,568.8" fill="#7fae76"/><polygon points="739.0,564.1 740.9,567.2 744.0,569.3 742.0,566.1" fill="#b0cf45"/><polygon points="733.1,552.7 734.2,555.2 736.4,556.6 735.4,554.1" fill="#4a90a0"/><polygon points="655.2,594.9 656.9,598.5 660.3,600.6 658.6,597.0" fill="#fbe100"/><polygon points="664.0,641.5 661.8,644.1 661.7,647.5 663.9,644.9" fill="#b0cf45"/><polygon points="668.9,563.7 667.8,566.0 668.2,568.6 669.3,566.3" fill="#fbe100"/><polygon points="737.2,608.8 735.4,610.2 736.2,612.2 738.0,610.9" fill="#c90000"/><polygon points="687.0,647.3 684.2,650.7 683.5,655.2 686.4,651.7" fill="#c90000"/><polygon points="675.1,572.3 673.3,575.9 673.0,580.0 674.9,576.4" fill="#c90000"/><polygon points="672.4,560.1 673.9,563.0 677.0,564.1 675.5,561.2" fill="#fbe100"/><polygon points="766.2,566.0 763.8,568.9 763.5,572.6 765.9,569.7" fill="#b0cf45"/><polygon points="668.9,638.4 669.1,642.7 671.8,646.1 671.6,641.8" fill="#7fae76"/><polygon points="676.4,625.0 673.5,627.7 673.0,631.6 675.9,628.9" fill="#c90000"/><polygon points="761.2,597.4 759.5,600.1 760.0,603.3 761.8,600.6" fill="#4a90a0"/><polygon points="651.5,632.5 649.5,634.3 649.8,637.0 651.9,635.2" fill="#4a90a0"/><polygon points="751.5,558.8 749.6,560.5 750.2,563.1 752.2,561.3" fill="#b0cf45"/><polygon points="700.4,638.6 697.9,642.6 698.2,647.3 700.7,643.3" fill="#c90000"/><polygon points="663.9,602.9 661.4,605.4 660.9,608.9 663.4,606.4" fill="#c90000"/><polygon points="669.6,575.9 667.2,579.4 667.2,583.6 669.6,580.1" fill="#fbe100"/><polygon points="704.9,609.0 703.7,610.5 704.7,612.1 705.9,610.6" fill="#4a90a0"/><polygon points="665.6,598.5 666.1,601.1 668.7,601.7 668.1,599.2" fill="#fbe100"/><polygon points="678.0,611.0 677.5,613.2 679.1,614.6 679.7,612.5" fill="#4a90a0"/><polygon points="689.1,595.6 686.6,597.9 686.3,601.2 688.8,599.0" fill="#fbe100"/><polygon points="652.0,623.8 651.2,625.9 653.0,627.2 653.8,625.1" fill="#c90000"/><polygon points="664.1,621.3 664.7,624.4 666.7,626.9 666.1,623.8" fill="#fbe100"/><polygon points="739.4,608.8 738.3,611.2 738.9,613.8 740.0,611.4" fill="#7fae76"/><polygon points="740.3,595.8 740.2,598.1 742.4,598.7 742.5,596.4" fill="#fbe100"/><polygon points="643.0,556.5 642.1,558.7 643.9,560.2 644.8,558.0" fill="#b0cf45"/><polygon points="685.4,623.6 683.1,626.8 683.0,630.8 685.3,627.6" fill="#fbe100"/><polygon points="719.1,590.2 716.8,591.5 717.0,594.2 719.4,592.9" fill="#7fae76"/><polygon points="736.0,561.6 734.5,565.7 735.3,570.1 736.9,565.9" fill="#fbe100"/><polygon points="677.7,587.9 676.0,590.2 677.0,592.9 678.7,590.6" fill="#fbe100"/><polygon points="700.8,577.8 699.8,580.5 701.0,583.2 702.0,580.5" fill="#c90000"/><polygon points="698.0,578.7 695.6,581.4 695.4,585.0 697.7,582.3" fill="#fbe100"/><polygon points="754.0,562.5 754.2,566.9 757.0,570.3 756.8,565.9" fill="#7fae76"/><polygon points="763.0,582.3 763.7,584.7 766.1,585.5 765.4,583.2" fill="#fbe100"/><polygon points="715.7,633.1 714.7,637.0 716.4,640.7 717.4,636.8" fill="#c90000"/><polygon points="681.4,561.6 681.5,563.8 683.7,564.3 683.6,562.1" fill="#c90000"/><polygon points="648.0,630.1 646.0,633.1 645.9,636.7 647.9,633.7" fill="#4a90a0"/><polygon points="652.7,556.6 650.5,557.9 650.8,560.5 653.0,559.2" fill="#fbe100"/><polygon points="715.0,592.2 713.1,595.6 713.2,599.5 715.0,596.1" fill="#4a90a0"/><polygon points="668.1,597.6 669.3,601.7 672.6,604.5 671.3,600.3" fill="#c90000"/><polygon points="663.0,582.7 662.1,587.1 663.0,591.5 663.9,587.1" fill="#c90000"/><polygon points="702.3,626.2 701.5,628.7 702.9,630.8 703.7,628.4" fill="#b0cf45"/><polygon points="698.6,588.6 697.5,592.6 698.1,596.6 699.2,592.6" fill="#c90000"/><polygon points="704.4,608.7 703.5,611.6 704.8,614.4 705.7,611.5" fill="#4a90a0"/><polygon points="721.8,290.1 726.6,291.5 731.5,290.6 726.7,289.2" fill="#1a70d0"/><polygon points="654.7,270.8 660.0,267.9 663.3,262.9 658.0,265.8" fill="#4a90a0"/><polygon points="699.8,275.9 705.6,276.7 711.2,275.1 705.4,274.4" fill="#1a70d0"/><polygon points="732.6,275.0 737.6,277.3 743.1,276.9 738.1,274.7" fill="#4a90a0"/><polygon points="664.7,300.6 668.8,300.6 671.5,297.5 667.4,297.4" fill="#4a90a0"/><polygon points="725.4,331.4 728.5,332.8 731.7,331.5 728.6,330.1" fill="#4a90a0"/><polygon points="603.4,268.9 607.8,271.4 612.8,271.1 608.4,268.5" fill="#4a90a0"/><polygon points="630.7,273.1 634.0,271.1 634.2,267.1 630.8,269.2" fill="#4a90a0"/><polygon points="705.6,329.6 709.4,328.9 711.2,325.5 707.4,326.2" fill="#4a90a0"/><polygon points="598.5,331.2 601.2,329.0 602.0,325.6 599.3,327.9" fill="#4a90a0"/><polygon points="686.4,313.8 691.4,314.7 695.7,312.1 690.7,311.2" fill="#4a90a0"/><polygon points="704.3,320.8 707.4,322.0 710.5,320.8 707.4,319.5" fill="#4a90a0"/><polygon points="718.1,315.4 722.8,312.5 726.1,308.0 721.4,310.9" fill="#4a90a0"/><polygon points="639.0,339.2 642.1,338.0 643.1,334.8 640.1,336.1" fill="#1a70d0"/><polygon points="609.1,319.9 614.6,319.6 619.3,316.9 613.8,317.1" fill="#4a90a0"/><polygon points="602.2,297.8 606.9,295.2 608.7,290.0 603.9,292.6" fill="#4a90a0"/><polygon points="635.2,258.5 640.0,260.3 645.1,259.9 640.3,258.0" fill="#4a90a0"/><polygon points="682.1,315.5 686.4,313.6 688.0,309.1 683.6,311.0" fill="#4a90a0"/><polygon points="773.6,239.3 778.1,241.7 783.1,242.2 778.6,239.8" fill="#4a90a0"/><polygon points="874.9,248.4 881.0,249.1 886.5,246.3 880.4,245.6" fill="#1a70d0"/><polygon points="861.6,278.5 865.2,275.6 866.5,271.2 862.9,274.1" fill="#4a90a0"/><polygon points="866.0,236.1 869.0,240.6 873.7,243.3 870.7,238.9" fill="#1a70d0"/><polygon points="780.3,279.2 783.3,277.4 784.5,274.2 781.6,276.0" fill="#1a70d0"/><polygon points="812.8,305.7 816.2,308.4 820.5,309.2 817.1,306.4" fill="#4a90a0"/><polygon points="750.6,249.1 752.5,252.3 756.0,253.8 754.1,250.6" fill="#1a70d0"/><polygon points="867.5,248.1 870.1,250.5 873.4,249.0 870.7,246.6" fill="#4a90a0"/><polygon points="851.4,291.7 854.0,294.3 857.7,294.0 855.1,291.5" fill="#4a90a0"/><polygon points="841.4,310.8 845.6,307.5 848.2,302.9 844.1,306.2" fill="#4a90a0"/><polygon points="824.1,244.0 829.2,245.0 833.6,242.3 828.6,241.3" fill="#4a90a0"/><polygon points="880.4,279.1 882.2,283.8 886.6,286.2 884.8,281.5" fill="#4a90a0"/><polygon points="823.4,302.4 828.5,299.8 832.1,295.4 827.1,298.0" fill="#4a90a0"/><polygon points="887.0,276.8 887.9,281.1 891.6,283.3 890.6,279.1" fill="#4a90a0"/><polygon points="756.6,246.3 761.5,243.0 764.6,238.0 759.8,241.3" fill="#4a90a0"/><polygon points="831.2,264.4 835.5,263.2 838.6,259.9 834.3,261.2" fill="#1a70d0"/><polygon points="805.7,244.7 809.6,246.5 813.3,244.4 809.4,242.5" fill="#4a90a0"/><polygon points="834.8,242.7 839.0,244.5 843.5,244.3 839.4,242.5" fill="#1a70d0"/><polygon points="759.9,280.4 766.1,280.3 771.2,276.9 765.1,277.0" fill="#1a70d0"/><polygon points="783.4,270.6 787.1,272.4 791.1,271.0 787.3,269.2" fill="#4a90a0"/><polygon points="993.0,259.3 995.7,259.5 997.8,257.7 995.0,257.4" fill="#7fae76"/><polygon points="943.1,253.2 949.5,256.1 956.5,256.1 950.1,253.2" fill="#4a90a0"/><polygon points="977.2,309.7 979.8,303.9 978.5,297.7 975.9,303.5" fill="#1a70d0"/><polygon points="931.6,242.7 936.6,245.1 942.0,243.4 936.9,241.0" fill="#7fae76"/><polygon points="940.9,254.1 947.2,253.2 951.1,248.2 944.8,249.1" fill="#b0cf45"/><polygon points="944.3,276.1 947.1,282.3 952.7,286.4 949.8,280.2" fill="#b0cf45"/><polygon points="974.1,254.9 977.5,257.8 981.7,256.4 978.4,253.4" fill="#4a90a0"/><polygon points="967.2,315.1 972.2,312.1 975.7,307.2 970.6,310.3" fill="#1a70d0"/><polygon points="971.1,283.6 975.3,278.7 976.7,272.4 972.5,277.3" fill="#b0cf45"/><polygon points="958.4,296.8 962.5,296.8 966.1,294.7 962.0,294.7" fill="#7fae76"/><polygon points="933.6,275.8 936.7,273.0 934.9,269.3 931.8,272.1" fill="#b0cf45"/><polygon points="962.3,304.5 967.0,301.9 969.8,297.3 965.1,299.9" fill="#1a70d0"/><polygon points="1010.2,282.4 1014.6,283.2 1019.0,282.0 1014.5,281.2" fill="#1a70d0"/><polygon points="968.5,280.2 973.9,276.1 975.9,269.6 970.5,273.8" fill="#7fae76"/><polygon points="982.5,273.0 982.7,276.3 985.3,278.4 985.1,275.1" fill="#4a90a0"/><polygon points="1000.2,279.9 1003.0,284.2 1007.3,287.0 1004.6,282.7" fill="#1a70d0"/><polygon points="942.7,270.8 941.3,274.0 942.8,277.1 944.1,273.9" fill="#1a70d0"/><polygon points="962.3,313.0 963.9,309.5 962.7,305.9 961.0,309.3" fill="#1a70d0"/><polygon points="927.9,282.9 928.2,290.2 932.7,295.9 932.4,288.6" fill="#4a90a0"/><polygon points="1018.4,273.4 1022.2,270.5 1023.3,265.8 1019.5,268.7" fill="#7fae76"/><polygon points="924.0,242.7 927.8,248.7 934.4,251.4 930.6,245.3" fill="#4a90a0"/><polygon points="941.7,260.9 946.2,257.5 947.7,252.1 943.1,255.4" fill="#7fae76"/><polygon points="983.2,257.8 988.5,262.1 994.9,264.6 989.6,260.3" fill="#b0cf45"/><polygon points="929.5,287.2 931.8,285.6 932.2,282.8 929.9,284.4" fill="#1a70d0"/><polygon points="1024.6,269.3 1027.7,263.4 1028.8,256.7 1025.6,262.7" fill="#4a90a0"/><polygon points="996.8,259.6 999.8,254.4 999.6,248.3 996.6,253.5" fill="#4a90a0"/><polygon points="913.5,245.9 917.8,246.8 921.5,244.7 917.3,243.8" fill="#b0cf45"/><polygon points="948.6,295.3 952.1,293.0 953.9,289.3 950.4,291.6" fill="#b0cf45"/><polygon points="955.6,294.3 958.8,293.6 958.8,290.4 955.6,291.1" fill="#7fae76"/><polygon points="1010.8,257.1 1014.2,262.5 1019.4,266.3 1016.0,260.9" fill="#7fae76"/><polygon points="1032.9,312.0 1038.1,311.9 1042.0,308.4 1036.8,308.5" fill="#1a70d0"/><polygon points="1046.3,354.8 1049.8,349.1 1050.0,342.4 1046.6,348.1" fill="#7fae76"/><polygon points="1044.6,328.8 1048.6,325.8 1051.0,321.5 1047.1,324.5" fill="#4a90a0"/><polygon points="1039.3,326.9 1040.5,331.4 1044.6,333.6 1043.4,329.1" fill="#1a70d0"/><polygon points="1040.4,341.3 1045.6,346.0 1052.5,347.1 1047.3,342.4" fill="#b0cf45"/><polygon points="1044.3,345.5 1047.0,341.0 1046.1,335.9 1043.4,340.4" fill="#1a70d0"/><polygon points="1046.1,338.2 1050.4,337.8 1052.6,334.0 1048.2,334.4" fill="#4a90a0"/><polygon points="1025.6,325.6 1031.9,326.7 1038.1,325.0 1031.8,323.9" fill="#1a70d0"/><polygon points="1030.0,331.1 1034.1,332.1 1038.0,330.4 1033.9,329.4" fill="#4a90a0"/><polygon points="1062.6,322.7 1064.9,318.7 1063.4,314.3 1061.2,318.3" fill="#4a90a0"/><polygon points="1023.6,302.4 1024.1,306.5 1026.6,309.7 1026.1,305.7" fill="#1a70d0"/><polygon points="1018.6,298.1 1018.2,302.3 1020.6,305.7 1021.1,301.5" fill="#7fae76"/><polygon points="1063.3,336.4 1066.4,331.6 1066.1,325.8 1063.0,330.7" fill="#1a70d0"/><polygon points="1066.5,321.2 1071.4,322.1 1075.8,319.8 1070.9,319.0" fill="#7fae76"/><polygon points="1023.6,313.1 1029.1,313.0 1033.6,309.6 1028.0,309.7" fill="#4a90a0"/><polygon points="1048.7,309.3 1048.7,316.3 1051.0,322.9 1051.0,315.9" fill="#7fae76"/><polygon points="1030.2,319.4 1031.1,324.8 1035.1,328.4 1034.2,323.1" fill="#4a90a0"/><polygon points="1036.1,326.0 1039.1,323.5 1039.1,319.6 1036.1,322.0" fill="#4a90a0"/><polygon points="1034.2,337.1 1038.4,333.3 1038.4,327.5 1034.1,331.4" fill="#1a70d0"/><polygon points="1010.4,298.3 1010.0,304.4 1013.8,309.1 1014.1,303.1" fill="#4a90a0"/><polygon points="1009.0,307.8 1007.8,311.9 1009.6,315.7 1010.7,311.7" fill="#4a90a0"/><polygon points="1027.7,307.8 1030.3,314.4 1035.4,319.2 1032.9,312.6" fill="#7fae76"/><polygon points="1049.2,319.4 1049.2,323.3 1052.9,324.6 1052.9,320.7" fill="#7fae76"/><polygon points="1035.9,336.0 1034.4,342.1 1036.9,347.8 1038.5,341.7" fill="#7fae76"/><polygon points="1075.1,350.5 1079.2,352.0 1083.5,351.4 1079.4,349.9" fill="#1a70d0"/><polygon points="1026.3,337.9 1030.1,342.3 1035.8,343.6 1031.9,339.3" fill="#4a90a0"/><polygon points="1008.5,324.5 1012.7,328.8 1018.3,331.1 1014.1,326.8" fill="#b0cf45"/><polygon points="1036.8,322.6 1042.7,324.4 1048.4,322.0 1042.5,320.2" fill="#1a70d0"/><polygon points="1058.6,348.9 1060.8,343.3 1058.8,337.7 1056.6,343.3" fill="#4a90a0"/><polygon points="1027.8,315.9 1033.1,315.9 1038.0,313.7 1032.7,313.8" fill="#1a70d0"/><polygon points="1482.4,338.6 1484.8,339.7 1487.3,338.6 1484.8,337.5" fill="#7fae76"/><polygon points="1475.2,322.2 1477.3,321.5 1478.3,319.6 1476.2,320.2" fill="#7fae76"/><polygon points="1479.6,332.4 1481.4,332.2 1481.8,330.5 1480.0,330.6" fill="#fbe100"/><polygon points="1470.3,349.0 1472.2,349.1 1473.2,347.4 1471.3,347.3" fill="#fbe100"/><polygon points="1458.3,350.6 1460.9,350.1 1461.8,347.6 1459.2,348.2" fill="#b0cf45"/><polygon points="1451.3,349.2 1453.5,349.1 1454.9,347.5 1452.7,347.6" fill="#7fae76"/><polygon points="1458.7,332.3 1460.4,331.5 1460.8,329.7 1459.1,330.4" fill="#fbe100"/><polygon points="1477.8,337.1 1480.6,336.0 1482.5,333.7 1479.8,334.9" fill="#7fae76"/><polygon points="1477.2,317.4 1479.4,317.1 1480.4,315.0 1478.1,315.4" fill="#fbe100"/><polygon points="1475.7,325.1 1477.0,324.3 1476.2,323.0 1474.9,323.8" fill="#c90000"/><polygon points="1475.3,328.9 1477.9,328.8 1480.0,327.2 1477.4,327.3" fill="#fbe100"/><polygon points="1473.4,331.5 1475.9,331.6 1477.8,330.0 1475.3,329.9" fill="#c90000"/><polygon points="1459.7,355.7 1461.9,356.0 1464.0,355.0 1461.8,354.8" fill="#c90000"/><polygon points="1478.7,327.4 1481.1,325.8 1481.8,322.9 1479.4,324.6" fill="#7fae76"/><polygon points="1454.7,329.5 1456.7,329.6 1457.7,327.8 1455.7,327.7" fill="#fbe100"/><polygon points="1455.4,332.0 1457.1,332.1 1457.3,330.4 1455.6,330.3" fill="#b0cf45"/><polygon points="1456.7,354.2 1459.3,354.9 1461.7,353.6 1459.1,352.9" fill="#c90000"/><polygon points="1454.5,335.5 1457.6,336.4 1460.5,335.0 1457.4,334.0" fill="#b0cf45"/><polygon points="1483.5,339.2 1485.4,338.8 1486.2,337.1 1484.4,337.5" fill="#7fae76"/><polygon points="1482.9,314.4 1485.4,315.2 1487.8,313.9 1485.2,313.1" fill="#fbe100"/><polygon points="1454.8,339.3 1456.3,339.8 1457.2,338.5 1455.7,338.0" fill="#fbe100"/><polygon points="1452.0,342.1 1454.1,342.6 1455.8,341.3 1453.7,340.8" fill="#b0cf45"/><polygon points="1484.9,324.2 1487.4,325.0 1489.8,323.7 1487.2,322.9" fill="#7fae76"/><polygon points="1450.7,353.9 1452.3,352.6 1452.9,350.6 1451.3,351.9" fill="#c90000"/><polygon points="1463.3,325.3 1466.5,325.3 1468.8,323.2 1465.6,323.1" fill="#fbe100"/><polygon points="1465.4,330.1 1467.0,328.4 1466.5,326.0 1464.9,327.8" fill="#fbe100"/><polygon points="1446.1,343.0 1447.9,340.8 1448.5,338.1 1446.7,340.2" fill="#fbe100"/><polygon points="1479.8,324.0 1482.0,323.4 1483.0,321.3 1480.8,321.9" fill="#fbe100"/><polygon points="1480.4,316.6 1481.8,314.7 1481.9,312.4 1480.5,314.3" fill="#fbe100"/><polygon points="1449.8,342.7 1450.9,342.1 1450.8,340.9 1449.7,341.5" fill="#fbe100"/><polygon points="1440.2,360.1 1441.8,357.6 1441.2,354.6 1439.6,357.1" fill="#7fae76"/><polygon points="1414.3,388.8 1414.9,385.0 1413.1,381.6 1412.5,385.4" fill="#4a90a0"/><polygon points="1431.8,350.1 1434.1,346.7 1434.6,342.6 1432.3,346.0" fill="#fbe100"/><polygon points="1401.7,389.4 1404.8,386.6 1405.7,382.7 1402.6,385.4" fill="#fbe100"/><polygon points="1415.2,370.0 1417.4,368.6 1418.4,366.3 1416.2,367.6" fill="#fbe100"/><polygon points="1407.4,369.6 1409.3,368.8 1410.2,366.9 1408.3,367.7" fill="#b0cf45"/><polygon points="1428.2,366.3 1428.9,363.8 1427.9,361.5 1427.3,363.9" fill="#b0cf45"/><polygon points="1415.9,395.1 1417.3,393.6 1416.3,391.9 1414.9,393.4" fill="#fbe100"/><polygon points="1428.2,349.7 1429.0,347.2 1427.6,344.9 1426.8,347.5" fill="#fbe100"/><polygon points="1412.4,380.6 1414.7,378.4 1415.9,375.4 1413.6,377.7" fill="#4a90a0"/><polygon points="1431.3,352.3 1432.2,350.6 1431.1,349.0 1430.3,350.7" fill="#fbe100"/><polygon points="1411.3,364.4 1412.6,361.0 1411.6,357.5 1410.3,360.9" fill="#fbe100"/><polygon points="1404.0,366.7 1406.6,364.0 1407.2,360.2 1404.5,362.9" fill="#7fae76"/><polygon points="1399.3,395.0 1400.5,393.5 1399.8,391.8 1398.5,393.3" fill="#b0cf45"/><polygon points="1425.3,389.0 1426.2,385.1 1425.0,381.3 1424.1,385.2" fill="#fbe100"/><polygon points="1411.7,391.2 1412.4,387.3 1411.1,383.7 1410.4,387.5" fill="#4a90a0"/><polygon points="1417.4,369.3 1419.8,368.6 1420.6,366.1 1418.2,366.8" fill="#4a90a0"/><polygon points="1421.5,345.5 1422.3,342.4 1421.8,339.3 1421.0,342.4" fill="#7fae76"/><polygon points="1415.4,388.5 1415.8,385.7 1414.9,383.0 1414.5,385.8" fill="#fbe100"/><polygon points="1434.8,373.8 1437.6,371.7 1438.7,368.4 1435.9,370.4" fill="#7fae76"/><polygon points="1405.2,383.1 1407.2,382.1 1407.2,379.8 1405.2,380.8" fill="#7fae76"/><polygon points="1416.1,387.6 1418.9,385.8 1420.8,383.1 1418.0,384.9" fill="#7fae76"/><polygon points="1415.9,350.2 1416.8,347.0 1415.3,344.0 1414.4,347.2" fill="#fbe100"/><polygon points="1417.4,347.1 1419.5,346.1 1419.6,343.8 1417.5,344.8" fill="#fbe100"/><polygon points="1403.9,372.4 1405.0,369.0 1404.1,365.6 1403.1,369.0" fill="#4a90a0"/><polygon points="1370.6,357.5 1374.0,355.7 1375.5,352.3 1372.2,354.1" fill="#b0cf45"/><polygon points="1377.5,363.9 1380.7,364.2 1383.2,362.3 1380.1,362.0" fill="#4a90a0"/><polygon points="1371.0,379.9 1373.8,379.7 1375.4,377.5 1372.7,377.7" fill="#4a90a0"/><polygon points="1377.6,356.8 1379.3,355.9 1379.3,353.9 1377.6,354.9" fill="#b0cf45"/><polygon points="1370.4,352.3 1372.1,349.5 1372.1,346.2 1370.5,349.0" fill="#fbe100"/><polygon points="1372.0,379.6 1373.9,378.4 1373.8,376.1 1371.8,377.3" fill="#7fae76"/><polygon points="1352.5,363.7 1355.5,361.7 1356.3,358.2 1353.3,360.2" fill="#fbe100"/><polygon points="1354.9,366.4 1357.0,366.9 1358.7,365.6 1356.6,365.0" fill="#fbe100"/><polygon points="1362.8,374.7 1365.2,371.4 1364.8,367.3 1362.4,370.6" fill="#4a90a0"/><polygon points="1359.6,378.9 1362.3,378.5 1364.1,376.5 1361.5,377.0" fill="#b0cf45"/><polygon points="1357.1,375.8 1359.7,376.4 1361.2,374.3 1358.7,373.7" fill="#7fae76"/><polygon points="1374.6,385.1 1376.5,382.1 1376.0,378.6 1374.1,381.6" fill="#7fae76"/><polygon points="1358.1,364.1 1360.5,361.1 1361.4,357.3 1359.0,360.3" fill="#b0cf45"/><polygon points="1357.6,370.2 1359.1,368.6 1358.7,366.5 1357.2,368.1" fill="#fbe100"/><polygon points="1378.0,383.2 1381.0,381.9 1382.3,378.8 1379.2,380.1" fill="#fbe100"/><polygon points="1365.1,386.3 1368.2,386.1 1370.4,384.0 1367.4,384.2" fill="#fbe100"/><polygon points="1369.2,364.5 1373.1,363.8 1375.5,360.7 1371.6,361.4" fill="#b0cf45"/><polygon points="1362.9,387.9 1365.4,387.9 1367.0,386.1 1364.5,386.1" fill="#7fae76"/><polygon points="1373.6,373.2 1376.0,371.9 1376.6,369.3 1374.3,370.6" fill="#4a90a0"/><polygon points="1364.9,376.5 1366.8,376.8 1368.3,375.6 1366.4,375.3" fill="#7fae76"/><polygon points="1489.9,300.8 1490.9,296.6 1488.7,292.9 1487.7,297.1" fill="#4a90a0"/><polygon points="1488.6,335.6 1492.3,334.7 1493.9,331.3 1490.2,332.1" fill="#4a90a0"/><polygon points="1497.6,301.5 1500.5,297.9 1500.8,293.2 1497.9,296.9" fill="#4a90a0"/><polygon points="1476.2,301.0 1481.6,298.5 1485.7,294.2 1480.3,296.6" fill="#7fae76"/><polygon points="1502.4,310.2 1506.0,307.0 1506.5,302.2 1502.9,305.4" fill="#4a90a0"/><polygon points="1500.9,307.2 1504.2,305.5 1505.9,302.2 1502.5,303.8" fill="#b0cf45"/><polygon points="1494.6,313.5 1498.0,310.8 1498.4,306.5 1495.0,309.2" fill="#b0cf45"/><polygon points="1507.0,319.0 1509.2,317.2 1509.2,314.3 1507.0,316.1" fill="#7fae76"/><polygon points="1484.1,305.1 1489.8,304.6 1494.5,301.3 1488.8,301.8" fill="#7fae76"/><polygon points="1494.4,285.6 1497.8,285.4 1499.6,282.5 1496.2,282.7" fill="#b0cf45"/><polygon points="1492.7,338.1 1496.9,337.2 1499.5,333.8 1495.3,334.8" fill="#7fae76"/><polygon points="1490.8,353.0 1492.1,350.2 1490.0,348.0 1488.7,350.8" fill="#b0cf45"/><polygon points="1501.2,303.2 1504.2,299.9 1503.7,295.5 1500.7,298.7" fill="#4a90a0"/><polygon points="1492.1,290.3 1495.1,285.6 1495.5,280.1 1492.4,284.7" fill="#b0cf45"/><polygon points="1118.7,452.2 1116.9,452.7 1115.1,451.9 1114.7,450.0 1115.7,448.3 1118.4,448.8 1119.3,450.1" fill="#4a90a0"/><polygon points="1174.1,483.5 1174.8,482.1 1176.2,481.4 1177.5,481.3 1178.1,483.0 1177.4,484.0 1175.9,484.6" fill="#b0cf45"/><polygon points="1128.5,502.3 1129.5,501.3 1131.1,501.2 1132.3,501.6 1132.4,503.0 1131.1,503.7 1129.6,503.7" fill="#dd3a00"/><polygon points="981.4,455.8 979.8,455.6 979.6,454.0 980.8,452.4 982.2,452.8 982.8,454.0 982.5,455.6" fill="#1a70d0"/><polygon points="814.4,477.2 815.3,476.4 816.3,476.0 817.0,476.9 817.1,477.9 816.0,478.7 815.0,477.9" fill="#1a70d0"/><polygon points="1125.6,517.6 1128.1,516.9 1129.8,518.1 1130.1,520.1 1128.4,522.2 1125.9,520.8 1125.0,519.5" fill="#e67300"/><polygon points="854.6,499.8 853.7,501.0 852.0,500.8 850.6,500.3 850.9,499.0 852.4,498.2 854.0,498.4" fill="#b0cf45"/><polygon points="976.1,554.5 974.9,555.0 974.0,554.3 973.4,553.3 974.4,552.8 975.5,552.4 976.4,553.4" fill="#e67300"/><polygon points="892.0,453.8 891.1,453.8 890.6,452.6 891.7,451.7 893.0,451.7 893.7,452.8 893.1,454.0" fill="#1a70d0"/><polygon points="812.5,534.7 812.1,532.5 814.2,531.4 817.2,532.0 817.4,533.8 816.3,536.2 814.0,536.1" fill="#e67300"/><polygon points="1002.8,470.2 1000.6,470.6 998.3,469.2 998.9,466.9 1001.3,466.2 1003.6,465.9 1004.2,468.3" fill="#fbe100"/><polygon points="912.4,454.5 914.5,456.1 914.4,457.3 913.2,458.3 911.3,458.4 910.0,457.2 910.5,455.6" fill="#4a90a0"/><polygon points="1175.9,463.2 1174.7,461.8 1175.0,460.7 1176.6,459.7 1177.7,460.3 1178.3,462.0 1177.5,462.9" fill="#4a90a0"/><polygon points="945.7,488.9 947.5,489.4 948.2,491.0 947.4,492.8 945.6,492.8 944.3,491.5 944.4,489.9" fill="#e67300"/><polygon points="903.1,531.0 904.3,532.7 902.8,534.4 900.9,534.9 899.8,533.2 899.7,531.6 901.3,530.6" fill="#c90000"/><polygon points="834.8,475.7 832.8,476.2 831.8,474.3 831.9,472.8 833.9,471.8 835.5,472.9 836.7,474.4" fill="#b0cf45"/><polygon points="1178.5,504.1 1179.9,504.8 1180.2,506.8 1178.4,507.9 1176.6,507.0 1175.2,505.7 1176.7,503.5" fill="#e67300"/><polygon points="974.5,487.0 973.4,488.3 972.2,488.2 971.5,487.3 971.1,486.0 972.4,485.1 973.6,486.1" fill="#b0cf45"/><polygon points="853.8,517.6 852.8,518.7 851.8,518.8 851.0,517.8 850.7,516.8 852.2,516.1 853.4,516.7" fill="#e67300"/><polygon points="814.0,540.9 815.3,541.3 815.1,542.2 814.4,543.3 813.3,543.3 812.3,542.1 812.9,541.1" fill="#b0cf45"/><polygon points="837.9,468.9 837.6,470.4 837.1,471.3 835.6,471.0 834.6,470.3 835.2,469.2 836.4,468.8" fill="#b0cf45"/><polygon points="1137.9,544.6 1139.5,542.5 1141.2,542.1 1143.3,543.3 1142.8,545.3 1141.7,547.3 1139.0,545.8" fill="#e67300"/><polygon points="1225.7,484.4 1227.3,482.3 1229.2,482.6 1231.1,483.2 1230.9,485.1 1229.3,486.9 1227.2,485.7" fill="#fbe100"/><polygon points="1204.6,489.4 1204.0,490.4 1202.4,490.9 1201.4,489.8 1201.3,488.5 1202.7,487.3 1204.0,487.7" fill="#e67300"/><polygon points="881.1,442.6 883.3,441.4 885.1,441.8 885.9,443.9 884.5,445.4 882.6,445.0 881.2,444.1" fill="#b0cf45"/><polygon points="819.3,527.6 819.7,528.1 819.8,528.9 818.7,529.2 817.5,528.9 817.4,528.1 818.0,527.1" fill="#b0cf45"/><polygon points="949.9,553.3 951.0,553.6 951.2,555.2 950.1,555.9 948.9,555.6 947.6,554.6 948.2,553.3" fill="#e67300"/><polygon points="1044.2,473.8 1045.8,472.8 1047.9,473.5 1048.3,475.1 1047.1,476.3 1045.0,476.4 1044.3,475.4" fill="#b0cf45"/><polygon points="1216.6,484.6 1217.9,486.9 1216.3,488.9 1214.3,489.3 1212.9,488.2 1212.2,486.0 1214.2,485.2" fill="#e67300"/><polygon points="1228.4,496.2 1228.8,494.8 1229.9,493.0 1231.7,494.3 1232.6,495.2 1231.8,496.8 1230.3,497.7" fill="#4a90a0"/><polygon points="936.5,510.9 938.1,509.2 940.9,510.1 942.3,512.0 940.7,513.6 938.4,514.2 936.6,513.2" fill="#dd3a00"/><polygon points="956.7,488.2 957.7,487.0 959.7,487.3 960.4,488.6 959.9,490.0 958.5,490.6 956.8,489.6" fill="#b0cf45"/><polygon points="1128.1,491.8 1129.4,492.5 1129.5,493.9 1127.8,494.4 1125.9,494.1 1125.9,493.0 1126.7,491.8" fill="#b0cf45"/><polygon points="984.5,523.0 983.3,521.5 982.9,519.0 985.4,518.7 988.2,519.2 988.2,521.4 986.5,523.0" fill="#c90000"/><polygon points="1067.9,445.3 1067.1,446.4 1065.6,446.1 1064.8,445.5 1064.7,444.4 1066.1,443.7 1067.7,443.8" fill="#1a70d0"/><polygon points="1143.8,465.5 1145.6,465.2 1146.8,465.8 1146.3,467.2 1145.4,468.3 1144.1,468.2 1142.9,466.5" fill="#4a90a0"/><polygon points="871.3,443.0 870.3,443.7 869.3,443.5 868.7,442.6 869.2,441.7 870.3,441.7 870.9,442.2" fill="#1a70d0"/><polygon points="979.0,439.9 977.3,438.0 979.6,436.6 981.7,436.3 982.6,437.8 982.9,439.9 980.6,441.2" fill="#b0cf45"/><polygon points="1173.0,546.0 1171.9,545.3 1171.5,544.4 1172.2,543.3 1173.5,543.7 1174.0,544.1 1174.3,545.1" fill="#e67300"/><polygon points="886.3,485.2 884.8,487.8 882.2,488.6 879.7,486.4 880.2,484.2 882.1,483.1 884.2,483.7" fill="#b0cf45"/><polygon points="1154.1,499.3 1155.0,497.6 1156.5,498.1 1157.8,498.8 1157.4,500.2 1156.3,501.0 1154.3,500.5" fill="#b0cf45"/><polygon points="820.7,557.7 820.8,556.2 821.6,555.2 823.3,555.1 824.4,556.3 823.8,557.9 822.4,558.2" fill="#fbe100"/><polygon points="1193.3,530.8 1192.5,529.3 1193.3,528.4 1195.1,527.9 1196.3,528.9 1196.3,530.5 1194.6,531.2" fill="#dd3a00"/><polygon points="1042.4,472.6 1043.0,471.0 1045.4,470.3 1046.5,472.3 1046.3,474.1 1044.8,475.6 1042.8,474.0" fill="#e67300"/><polygon points="862.7,500.9 864.1,501.7 864.6,502.8 863.8,503.9 862.2,504.2 861.1,502.9 861.4,501.8" fill="#fbe100"/><polygon points="880.6,545.8 879.7,547.4 877.4,548.1 875.8,546.8 876.1,545.1 877.5,543.7 879.6,544.4" fill="#e67300"/><polygon points="968.1,512.3 968.8,510.5 970.3,510.1 972.3,510.7 973.0,512.2 971.7,514.2 969.4,513.8" fill="#e67300"/><polygon points="831.8,466.1 829.2,466.2 827.1,464.8 827.4,462.7 829.0,461.6 831.3,462.4 832.3,463.8" fill="#b0cf45"/><polygon points="866.8,500.4 868.7,499.9 870.7,500.9 870.4,502.5 869.3,503.2 867.7,503.2 866.7,502.3" fill="#fbe100"/><polygon points="801.9,502.2 801.1,504.5 799.6,506.3 797.5,506.1 796.5,503.7 796.2,501.6 799.1,500.1" fill="#b0cf45"/><polygon points="1138.4,465.9 1138.8,464.6 1140.1,463.5 1141.5,464.4 1142.2,465.9 1140.8,467.4 1139.1,467.3" fill="#1a70d0"/><polygon points="939.4,538.4 940.3,538.5 940.8,538.9 941.0,539.7 940.3,540.1 939.4,540.4 938.7,539.3" fill="#e67300"/><polygon points="987.7,489.6 988.8,489.6 988.8,491.0 988.0,492.3 986.5,491.7 985.8,490.7 986.7,489.6" fill="#b0cf45"/><polygon points="1073.0,453.9 1074.6,453.0 1076.0,454.6 1075.6,456.3 1074.2,456.7 1072.6,456.8 1071.4,454.9" fill="#1a70d0"/><polygon points="1175.2,485.4 1175.0,484.1 1176.2,483.6 1177.5,484.1 1177.8,485.1 1177.5,485.8 1175.9,486.1" fill="#b0cf45"/><polygon points="1057.2,471.6 1056.4,471.1 1056.6,469.4 1057.8,469.0 1059.8,469.4 1060.5,470.7 1059.1,472.1" fill="#b0cf45"/><polygon points="833.9,497.9 835.9,498.1 836.1,500.1 835.2,501.8 833.4,501.5 831.1,500.6 831.7,498.4" fill="#e67300"/><polygon points="820.9,483.6 822.2,482.9 823.9,482.5 825.0,484.0 824.3,485.4 822.6,485.6 821.4,484.9" fill="#b0cf45"/><polygon points="858.2,481.7 858.3,482.8 857.2,483.7 856.0,483.1 855.1,482.4 855.9,481.4 857.0,481.1" fill="#e67300"/><polygon points="908.3,503.7 907.0,502.7 906.9,502.0 907.8,501.4 908.9,500.9 909.9,502.0 909.6,503.1" fill="#dd3a00"/><polygon points="830.2,546.0 830.5,548.5 828.8,550.0 826.4,550.6 825.2,548.5 825.6,546.8 827.6,545.1" fill="#dd3a00"/><polygon points="847.7,531.5 845.5,530.0 845.9,527.9 846.8,526.8 849.0,527.0 850.9,528.1 850.3,530.3" fill="#b0cf45"/><polygon points="863.9,487.8 866.2,486.9 868.2,488.3 868.8,490.4 867.1,491.6 864.4,491.6 863.2,490.0" fill="#b0cf45"/><polygon points="1163.1,510.0 1163.6,508.5 1165.3,507.8 1167.4,509.2 1166.7,510.6 1165.6,511.7 1163.8,511.2" fill="#e67300"/><polygon points="949.2,530.5 947.1,531.5 945.1,530.0 945.9,528.2 946.9,526.9 949.2,527.1 950.3,529.1" fill="#e67300"/><polygon points="914.4,524.7 913.3,527.1 910.7,528.0 909.3,525.6 908.7,523.9 911.0,522.5 913.7,522.2" fill="#dd3a00"/><polygon points="811.6,535.5 810.9,536.1 809.9,536.5 809.0,535.5 809.4,534.8 810.2,534.4 811.4,534.6" fill="#b0cf45"/><polygon points="878.3,488.0 879.8,486.6 881.4,487.3 881.6,488.8 881.1,489.9 879.3,490.0 877.9,489.3" fill="#e67300"/><polygon points="801.8,547.3 799.3,547.4 798.4,545.7 798.8,544.2 801.3,543.3 802.7,544.7 803.4,546.3" fill="#e67300"/><polygon points="1144.6,530.1 1144.6,532.6 1142.7,534.0 1140.7,532.6 1138.7,530.7 1140.8,529.0 1143.6,529.0" fill="#c90000"/><polygon points="1093.2,467.4 1094.6,468.2 1095.1,470.1 1093.5,471.5 1092.0,471.4 1091.3,469.5 1091.1,468.1" fill="#fbe100"/><polygon points="1174.0,472.2 1174.7,471.3 1175.7,471.6 1176.3,472.5 1176.0,473.5 1174.8,473.7 1174.0,473.3" fill="#b0cf45"/><polygon points="811.9,504.1 813.9,504.7 815.1,506.3 813.9,507.7 811.6,507.9 809.5,507.2 810.3,505.0" fill="#4a90a0"/><polygon points="1109.7,488.9 1108.9,488.9 1108.3,488.0 1108.4,486.9 1109.5,486.9 1110.5,487.4 1110.8,488.2" fill="#b0cf45"/><polygon points="1069.1,470.1 1069.5,468.8 1070.4,467.6 1071.8,467.9 1072.7,469.2 1071.9,470.0 1070.5,470.8" fill="#fbe100"/><polygon points="909.1,536.8 907.6,535.7 907.6,534.3 909.4,533.6 911.1,534.0 912.0,535.1 910.7,536.8" fill="#c90000"/><polygon points="1207.0,476.6 1208.5,475.9 1210.6,475.8 1211.1,477.4 1210.2,479.0 1208.8,479.9 1207.1,478.5" fill="#4a90a0"/><polygon points="1051.9,481.9 1051.2,482.5 1050.4,482.4 1049.7,481.9 1050.0,480.7 1050.8,480.4 1051.7,481.1" fill="#b0cf45"/><polygon points="939.8,495.1 937.4,495.5 935.8,493.4 936.8,491.7 938.5,490.3 940.4,491.7 940.6,493.6" fill="#fbe100"/><polygon points="1165.3,466.1 1165.7,464.5 1167.3,463.7 1169.3,464.3 1169.8,465.5 1168.7,466.5 1166.9,467.4" fill="#b0cf45"/><polygon points="807.1,541.3 805.7,539.3 805.8,537.0 807.5,535.4 809.3,537.1 809.8,538.7 809.1,539.9" fill="#b0cf45"/><polygon points="994.1,458.0 992.6,457.8 991.9,457.0 991.6,455.9 992.9,455.6 994.5,455.8 994.4,456.8" fill="#1a70d0"/><polygon points="924.2,465.2 922.3,464.2 921.7,462.5 923.9,460.6 926.2,460.9 927.5,463.1 926.6,464.4" fill="#fbe100"/><polygon points="1166.1,517.4 1166.0,518.5 1165.4,519.3 1163.8,518.9 1163.2,518.1 1163.9,517.2 1165.0,516.6" fill="#b0cf45"/><polygon points="973.3,542.3 974.5,542.3 975.4,542.5 975.6,543.3 974.6,543.9 973.6,543.7 972.9,543.1" fill="#c90000"/><polygon points="832.0,469.4 830.9,469.1 830.3,467.9 831.5,467.3 832.6,466.9 833.3,467.8 833.4,469.0" fill="#b0cf45"/><polygon points="1093.1,482.8 1093.3,481.5 1094.7,480.8 1095.8,481.4 1096.5,482.7 1095.8,483.9 1094.1,483.6" fill="#e67300"/><polygon points="995.8,532.4 995.5,533.0 994.3,533.7 993.3,532.8 993.5,531.4 994.5,531.1 995.5,531.5" fill="#e67300"/><polygon points="1142.5,519.8 1142.3,518.4 1143.1,517.2 1144.4,517.5 1145.5,518.4 1144.8,519.7 1143.6,520.5" fill="#dd3a00"/><polygon points="810.6,493.0 809.7,492.5 809.6,491.4 810.3,490.6 811.7,490.6 812.1,491.7 811.8,492.8" fill="#b0cf45"/><polygon points="816.9,458.4 817.0,456.6 818.0,455.0 819.9,455.4 820.5,456.9 819.9,458.2 818.4,459.2" fill="#4a90a0"/><polygon points="910.7,461.0 911.1,462.1 910.5,463.7 908.9,464.0 907.6,463.4 907.1,461.4 908.7,460.8" fill="#fbe100"/><polygon points="915.4,458.1 916.6,459.1 917.0,460.1 916.4,461.3 914.8,460.9 914.0,460.3 914.0,459.2" fill="#fbe100"/><polygon points="890.8,482.6 891.3,480.4 893.1,478.7 895.9,480.0 896.5,481.8 895.3,483.3 892.8,483.6" fill="#e67300"/><polygon points="1148.6,523.4 1150.1,524.0 1149.9,525.1 1148.8,526.0 1147.4,525.8 1146.6,524.8 1147.3,523.6" fill="#fbe100"/><polygon points="1209.6,473.0 1209.6,474.8 1208.4,476.7 1205.7,476.2 1205.4,474.2 1206.1,472.5 1208.0,471.6" fill="#1a70d0"/><polygon points="870.1,472.8 868.9,472.4 869.1,471.1 870.5,469.9 871.7,470.6 872.6,471.8 871.6,473.1" fill="#1a70d0"/><polygon points="1194.9,494.6 1196.3,493.2 1198.2,493.6 1198.8,494.6 1198.8,496.2 1197.0,496.6 1195.0,496.1" fill="#b0cf45"/><polygon points="840.4,512.9 839.2,514.1 836.7,514.0 835.4,512.3 837.0,510.5 839.0,509.8 841.6,510.7" fill="#e67300"/><polygon points="990.3,538.5 990.8,539.4 991.0,540.4 989.6,540.8 988.6,540.8 988.4,539.5 988.8,538.5" fill="#c90000"/><polygon points="1005.4,525.9 1003.9,526.0 1002.5,525.2 1003.4,523.7 1004.4,522.7 1006.1,523.4 1006.4,525.0" fill="#dd3a00"/><polygon points="1118.7,450.8 1118.5,449.9 1118.7,449.3 1119.7,448.8 1120.3,449.4 1120.3,450.4 1119.8,450.8" fill="#4a90a0"/><polygon points="880.0,544.8 880.7,543.7 882.0,543.2 882.8,544.3 883.0,545.3 882.0,546.3 881.0,545.7" fill="#c90000"/><polygon points="1172.5,538.3 1171.6,537.7 1171.5,536.9 1172.2,535.9 1173.1,536.2 1173.7,536.9 1173.4,537.7" fill="#dd3a00"/><polygon points="983.0,548.1 983.2,546.7 984.3,546.1 985.6,546.9 985.7,547.9 985.2,548.8 983.9,548.9" fill="#e67300"/><polygon points="946.3,450.5 947.3,449.3 948.8,449.2 949.8,450.3 949.1,451.6 948.0,452.0 946.5,451.3" fill="#b0cf45"/><polygon points="1197.4,482.2 1195.6,483.9 1193.0,484.3 1191.1,482.0 1192.6,479.9 1194.6,478.6 1197.1,480.3" fill="#e67300"/><polygon points="1169.2,521.8 1166.9,521.7 1166.3,520.2 1167.6,518.8 1169.4,518.3 1171.3,519.3 1170.7,521.2" fill="#b0cf45"/><polygon points="1011.4,531.6 1013.1,533.3 1013.3,535.6 1010.6,536.5 1008.7,536.4 1007.4,533.9 1008.3,531.5" fill="#dd3a00"/><polygon points="910.1,488.5 908.9,489.1 907.8,488.3 908.1,487.1 909.0,486.1 910.3,486.8 910.6,487.8" fill="#b0cf45"/><polygon points="960.6,533.0 963.1,532.9 965.1,534.3 963.7,536.8 962.1,537.8 959.4,537.1 959.4,534.9" fill="#c90000"/><polygon points="1168.1,510.7 1169.5,509.5 1171.0,509.5 1171.5,510.9 1171.2,512.5 1170.1,512.8 1168.8,512.0" fill="#e67300"/><polygon points="993.0,484.5 991.9,484.8 991.2,484.6 990.6,483.6 991.5,483.2 992.5,482.8 993.4,483.8" fill="#fbe100"/><polygon points="990.5,479.3 989.9,478.3 990.3,477.2 991.6,476.6 993.1,477.2 993.3,478.7 991.9,479.3" fill="#4a90a0"/><polygon points="1103.3,488.2 1104.5,487.8 1106.0,488.1 1106.8,489.3 1105.3,490.9 1104.0,490.6 1103.3,489.6" fill="#e67300"/><polygon points="859.7,463.4 861.7,463.4 863.3,464.6 862.6,466.1 860.4,467.0 858.8,466.4 858.2,464.4" fill="#b0cf45"/><polygon points="931.2,453.1 930.5,452.3 930.0,451.2 931.0,450.4 932.1,450.7 932.5,451.6 932.5,452.7" fill="#1a70d0"/><polygon points="898.0,488.1 900.0,489.8 899.3,491.6 897.7,492.9 895.7,492.1 894.9,490.6 896.1,488.7" fill="#b0cf45"/><polygon points="862.6,502.1 862.3,502.7 860.9,502.8 860.0,502.1 860.8,501.3 861.5,500.6 862.8,501.1" fill="#dd3a00"/><polygon points="991.6,438.8 992.1,438.0 993.3,438.0 993.8,438.9 993.5,439.9 992.5,440.1 991.7,439.6" fill="#b0cf45"/><polygon points="799.8,462.4 801.2,463.5 802.3,464.7 801.6,466.2 799.7,466.8 797.8,465.8 798.2,464.1" fill="#4a90a0"/><polygon points="977.1,509.7 978.6,508.6 980.3,509.6 980.4,511.0 980.0,512.0 978.3,512.2 977.2,511.7" fill="#e67300"/><polygon points="1118.4,477.6 1119.3,477.0 1121.0,476.7 1122.2,478.4 1121.0,480.0 1119.4,480.3 1118.2,479.2" fill="#e67300"/><polygon points="1119.3,511.3 1117.4,511.6 1114.9,510.4 1114.7,508.7 1117.1,507.2 1119.6,507.3 1120.9,509.2" fill="#fbe100"/><polygon points="1070.0,449.7 1072.8,449.8 1075.0,450.8 1074.2,453.2 1072.2,455.0 1070.2,453.1 1068.7,451.5" fill="#b0cf45"/><polygon points="1025.7,475.5 1025.5,473.6 1026.5,471.7 1028.4,471.7 1030.2,472.7 1029.8,474.8 1028.3,476.1" fill="#e67300"/><polygon points="1138.8,527.0 1138.8,528.3 1137.4,528.4 1136.1,528.0 1136.4,526.8 1137.0,525.6 1138.3,525.8" fill="#c90000"/><polygon points="1148.0,478.3 1146.5,479.2 1144.4,479.4 1143.5,477.9 1144.0,476.3 1146.1,476.4 1147.5,477.0" fill="#b0cf45"/><polygon points="1113.8,494.7 1114.4,492.5 1116.3,491.7 1119.0,492.0 1118.7,494.2 1117.9,495.6 1115.4,496.4" fill="#e67300"/><polygon points="1224.8,477.3 1222.6,479.4 1220.6,480.1 1218.0,477.9 1219.3,475.7 1220.9,475.1 1223.7,475.6" fill="#fbe100"/><polygon points="962.4,457.5 963.2,458.6 961.8,459.8 960.4,459.0 959.4,458.2 960.4,456.9 961.6,456.4" fill="#1a70d0"/><polygon points="1192.4,488.7 1193.0,487.4 1194.5,487.7 1195.6,488.1 1195.9,489.4 1194.6,490.3 1193.1,489.8" fill="#e67300"/><polygon points="991.5,556.5 988.8,556.3 986.6,555.6 987.3,552.7 988.8,552.1 991.5,552.3 992.2,554.4" fill="#e67300"/><polygon points="1166.7,552.6 1166.9,554.4 1165.6,556.5 1163.7,556.1 1161.7,554.8 1162.9,553.0 1164.5,551.7" fill="#e67300"/><polygon points="1046.1,479.8 1047.9,477.7 1050.4,478.7 1051.6,480.1 1051.3,481.8 1048.7,482.5 1046.0,481.8" fill="#e67300"/><polygon points="859.6,527.2 859.7,524.7 861.2,523.4 863.4,522.9 865.2,524.9 864.2,526.7 861.8,527.3" fill="#fbe100"/><polygon points="1137.0,488.9 1137.3,490.1 1136.4,490.6 1134.9,490.6 1134.3,489.5 1134.9,488.4 1136.3,488.5" fill="#b0cf45"/><polygon points="1181.6,504.3 1184.2,504.5 1183.8,506.7 1182.6,508.2 1180.3,509.0 1178.6,506.9 1178.9,505.1" fill="#e67300"/><polygon points="896.6,493.5 894.5,493.6 893.2,492.8 893.5,490.6 894.7,489.4 896.9,489.9 897.9,491.8" fill="#e67300"/><polygon points="801.3,527.8 800.1,526.5 800.0,525.1 801.6,523.6 803.4,524.2 804.0,526.0 802.7,527.2" fill="#fbe100"/><polygon points="881.7,532.6 880.4,531.3 880.1,529.8 881.2,528.1 882.8,528.9 883.7,530.1 883.6,531.7" fill="#c90000"/><polygon points="876.2,455.9 875.8,457.9 873.4,459.6 871.0,457.5 870.6,455.9 872.2,453.5 874.9,454.0" fill="#b0cf45"/><polygon points="863.6,552.5 862.8,551.7 863.3,550.8 864.8,550.4 865.6,550.8 865.9,552.3 864.9,553.1" fill="#e67300"/><polygon points="1198.7,491.9 1199.7,492.4 1200.5,494.0 1199.2,495.2 1197.5,494.5 1196.9,493.6 1197.3,492.2" fill="#e67300"/><polygon points="1036.8,441.5 1035.8,441.0 1035.2,440.1 1035.9,439.2 1037.0,438.9 1038.0,439.8 1037.9,440.9" fill="#1a70d0"/><polygon points="1133.7,478.1 1131.7,479.2 1130.1,478.8 1128.8,477.4 1130.0,475.9 1131.8,475.2 1132.9,476.3" fill="#fbe100"/><polygon points="902.8,446.8 903.4,446.3 904.6,445.9 905.4,446.7 905.2,447.5 904.2,447.9 903.1,447.6" fill="#1a70d0"/><polygon points="813.5,483.3 812.2,483.4 811.2,482.4 812.1,481.3 813.1,481.0 814.0,481.5 813.9,482.7" fill="#1a70d0"/><polygon points="1136.1,467.3 1136.5,465.7 1138.4,465.0 1140.1,466.5 1139.6,467.8 1138.4,469.5 1136.4,468.5" fill="#1a70d0"/><polygon points="820.7,531.9 820.8,530.6 822.2,530.5 823.2,531.5 823.2,532.6 822.3,533.5 820.8,532.6" fill="#e67300"/><polygon points="1049.7,500.2 1048.0,501.4 1046.0,501.1 1044.2,499.7 1045.8,498.3 1047.7,497.0 1049.6,498.2" fill="#e67300"/><polygon points="1069.3,517.2 1067.6,518.9 1065.5,518.3 1063.8,517.0 1064.8,514.7 1066.7,514.7 1069.0,515.3" fill="#e67300"/><polygon points="965.3,490.5 965.0,492.5 962.9,493.1 961.3,491.8 960.4,490.2 962.0,488.9 964.4,489.4" fill="#b0cf45"/><polygon points="970.4,442.5 971.5,441.2 972.9,439.9 974.6,440.8 975.3,442.6 973.6,443.9 971.9,443.8" fill="#1a70d0"/><polygon points="985.2,516.4 984.8,517.8 982.7,518.4 981.0,517.9 980.8,516.0 982.3,515.0 983.9,515.1" fill="#c90000"/><polygon points="1009.9,517.4 1011.5,515.9 1013.6,516.1 1014.6,517.7 1013.6,519.5 1011.9,520.2 1010.8,519.1" fill="#dd3a00"/><polygon points="993.8,547.9 994.5,546.9 995.4,546.3 996.4,546.5 997.1,547.9 996.3,548.5 994.9,548.5" fill="#e67300"/><polygon points="1019.8,461.7 1019.0,460.7 1018.9,459.4 1020.2,459.3 1021.4,459.5 1021.3,460.6 1020.7,461.5" fill="#fbe100"/><polygon points="908.5,522.6 910.9,524.4 910.8,526.3 908.7,527.9 905.7,527.9 905.1,525.6 905.9,523.4" fill="#e67300"/><polygon points="796.5,466.8 797.0,464.9 797.9,464.2 799.3,463.7 800.3,465.1 800.3,466.7 798.5,467.7" fill="#4a90a0"/><polygon points="1035.3,461.2 1034.7,462.5 1033.7,464.0 1032.1,463.1 1031.0,461.6 1032.3,459.9 1034.0,459.6" fill="#4a90a0"/><polygon points="999.4,508.6 997.9,509.7 996.1,508.6 995.7,507.5 996.6,505.8 998.3,506.3 999.4,507.2" fill="#dd3a00"/><polygon points="868.1,469.7 866.2,470.6 863.8,470.7 863.0,469.5 862.9,467.2 865.3,466.3 867.7,467.7" fill="#1a70d0"/><polygon points="818.7,467.1 818.5,465.9 819.6,465.5 820.4,465.8 821.0,466.8 820.2,467.6 819.3,467.5" fill="#b0cf45"/><polygon points="876.2,519.2 874.2,518.3 874.1,516.9 874.5,515.4 876.4,514.8 877.5,515.9 878.2,517.8" fill="#fbe100"/><polygon points="1214.2,497.1 1213.4,496.3 1213.4,495.6 1214.4,494.9 1215.2,495.3 1216.0,496.2 1215.2,496.8" fill="#e67300"/><polygon points="831.5,487.6 832.6,488.7 832.1,489.8 830.8,490.3 829.4,489.9 829.5,488.7 830.1,487.5" fill="#fbe100"/><polygon points="1005.2,517.7 1007.4,518.4 1008.7,520.0 1008.1,521.3 1005.8,522.3 1003.8,521.3 1004.0,519.3" fill="#fbe100"/><polygon points="835.5,543.5 833.4,543.4 833.0,542.1 832.7,540.7 834.6,540.2 836.0,540.6 836.6,542.3" fill="#fbe100"/><polygon points="915.3,476.5 915.8,475.8 917.2,475.6 917.8,476.3 917.8,477.5 916.7,477.9 915.3,477.6" fill="#4a90a0"/><polygon points="988.8,464.1 989.9,462.5 991.3,461.6 992.8,462.7 992.5,464.7 991.6,465.8 989.6,465.4" fill="#b0cf45"/><polygon points="929.6,493.0 930.6,491.4 932.4,490.3 933.7,491.6 934.7,493.3 933.3,495.2 931.2,495.0" fill="#fbe100"/><polygon points="1212.8,486.7 1211.1,484.7 1212.4,482.4 1214.7,481.8 1216.3,483.4 1216.7,485.3 1215.1,487.0" fill="#fbe100"/><polygon points="850.7,463.0 848.3,463.5 846.3,463.5 844.9,461.5 846.3,459.0 848.7,459.9 849.9,460.6" fill="#4a90a0"/><polygon points="911.6,502.3 910.9,499.7 912.7,497.4 915.3,497.7 916.5,499.5 917.0,501.5 914.4,502.6" fill="#fbe100"/><polygon points="1109.4,470.5 1110.8,472.4 1110.2,474.6 1107.7,475.2 1105.0,474.7 1105.3,472.3 1106.7,470.5" fill="#1a70d0"/><polygon points="808.7,509.2 808.2,507.9 808.5,506.7 810.0,506.9 810.6,507.5 810.5,508.7 809.8,509.1" fill="#4a90a0"/><polygon points="985.1,505.1 985.1,503.0 986.7,502.5 988.4,502.7 989.5,504.1 988.4,505.9 986.8,506.1" fill="#dd3a00"/><polygon points="930.7,515.8 931.9,517.4 932.1,519.4 930.6,520.0 928.7,519.4 927.8,518.2 929.1,516.5" fill="#dd3a00"/><polygon points="865.0,476.0 863.8,475.8 862.9,475.3 862.9,474.5 863.8,473.6 864.9,474.0 865.6,475.0" fill="#1a70d0"/><polygon points="1078.8,514.5 1078.4,513.3 1078.5,512.0 1080.1,511.5 1081.4,512.2 1081.5,513.9 1080.3,514.9" fill="#c90000"/><polygon points="961.9,485.1 961.6,486.8 960.2,487.7 957.8,487.5 956.5,485.7 957.9,483.1 960.5,483.5" fill="#e67300"/><polygon points="1119.1,476.4 1118.5,474.0 1120.4,472.6 1122.6,473.3 1123.0,475.3 1122.8,477.6 1120.5,476.9" fill="#fbe100"/><polygon points="1190.5,500.5 1188.6,499.8 1188.0,498.0 1189.9,496.4 1191.7,497.3 1193.3,498.2 1192.6,500.2" fill="#e67300"/><polygon points="879.9,544.4 882.5,542.5 885.0,543.1 885.5,544.8 884.8,547.4 882.9,548.0 880.6,546.3" fill="#c90000"/><polygon points="938.1,467.1 938.8,466.3 940.5,466.2 940.9,467.1 941.0,468.3 939.4,468.8 937.8,468.2" fill="#fbe100"/><polygon points="1036.9,515.1 1034.3,517.0 1031.9,516.3 1030.7,514.1 1032.4,512.2 1034.5,511.8 1036.6,513.4" fill="#c90000"/><polygon points="930.7,463.8 929.6,462.7 930.6,461.2 931.9,461.0 933.8,461.2 933.6,463.0 932.6,463.8" fill="#fbe100"/><polygon points="852.8,507.9 853.3,508.8 852.8,509.5 851.8,509.7 851.1,509.5 850.5,508.5 851.6,507.6" fill="#e67300"/><polygon points="1063.4,440.9 1062.7,442.2 1060.5,442.8 1058.7,440.9 1058.9,438.9 1061.3,437.9 1063.3,438.9" fill="#1a70d0"/><polygon points="849.1,513.9 851.6,514.9 853.0,516.7 851.0,518.4 848.9,518.7 847.2,517.6 846.4,514.9" fill="#e67300"/><polygon points="1189.5,512.8 1190.2,513.8 1189.3,515.1 1188.0,515.1 1187.0,514.5 1186.8,513.0 1188.0,512.5" fill="#e67300"/><polygon points="1142.7,524.9 1142.4,523.4 1143.3,521.3 1145.7,521.4 1147.4,523.0 1146.4,525.2 1145.0,526.1" fill="#dd3a00"/><polygon points="893.8,447.5 894.9,446.9 896.1,447.4 896.2,448.5 895.5,449.4 894.3,449.0 893.2,448.3" fill="#1a70d0"/><polygon points="884.2,461.1 885.0,460.1 885.9,460.2 886.5,460.7 886.7,462.0 885.7,462.2 884.7,461.9" fill="#1a70d0"/><polygon points="837.1,537.1 837.3,536.1 838.0,535.4 839.2,535.3 839.4,536.2 839.4,537.2 838.3,537.8" fill="#fbe100"/><polygon points="804.3,470.3 805.9,469.0 807.8,469.4 808.6,472.0 807.5,473.3 805.4,474.1 803.2,472.9" fill="#1a70d0"/><polygon points="1098.8,495.4 1098.0,496.6 1096.5,496.5 1095.5,496.0 1095.4,494.1 1096.6,493.7 1098.2,493.8" fill="#e67300"/><polygon points="919.0,503.5 921.7,502.8 923.9,504.0 923.5,506.3 921.6,507.1 919.5,507.3 918.9,505.2" fill="#fbe100"/><polygon points="832.3,479.1 834.5,478.3 836.3,480.2 836.3,482.2 834.0,482.5 832.3,482.5 831.2,480.5" fill="#4a90a0"/><polygon points="1172.9,453.4 1172.4,454.4 1171.5,454.7 1170.6,453.8 1170.8,452.8 1171.4,452.5 1172.5,452.5" fill="#4a90a0"/><polygon points="927.6,463.1 928.7,462.7 929.8,463.6 929.9,464.6 928.7,465.0 927.6,465.2 927.1,464.1" fill="#fbe100"/><polygon points="832.2,469.0 833.2,468.5 834.7,468.5 835.0,469.7 834.5,470.8 833.3,470.9 832.3,470.2" fill="#1a70d0"/><polygon points="932.3,482.8 930.0,482.4 929.7,480.4 930.6,478.6 933.3,479.3 934.8,480.1 933.9,481.9" fill="#e67300"/><polygon points="1077.9,482.5 1079.0,482.0 1080.1,482.1 1080.6,483.0 1080.3,484.1 1079.3,484.8 1078.1,483.6" fill="#e67300"/><polygon points="859.4,525.7 857.4,524.8 857.1,523.2 857.6,520.9 860.3,521.5 861.9,522.9 860.9,524.3" fill="#dd3a00"/><polygon points="940.0,535.5 940.5,534.1 941.7,533.5 943.1,534.7 943.4,535.8 942.1,536.4 940.7,536.3" fill="#c90000"/><polygon points="996.9,455.6 998.2,454.9 999.2,455.6 1000.1,456.9 998.6,457.7 997.3,457.7 996.4,456.6" fill="#1a70d0"/><polygon points="922.8,531.4 921.5,531.0 921.3,530.3 921.3,529.6 922.5,528.9 923.4,529.7 923.3,530.7" fill="#c90000"/><polygon points="1018.0,504.6 1017.3,503.6 1018.4,502.5 1020.1,502.2 1021.1,503.2 1021.5,504.6 1019.7,505.0" fill="#fbe100"/><polygon points="925.0,441.0 924.4,442.8 921.8,444.1 919.8,443.0 919.5,440.9 920.6,439.2 923.0,439.2" fill="#1a70d0"/><polygon points="964.2,537.5 965.4,537.0 966.7,537.4 967.0,538.3 966.3,539.0 964.9,539.0 963.8,538.5" fill="#e67300"/><polygon points="1214.0,479.3 1213.6,478.3 1213.6,476.7 1215.1,476.1 1216.6,477.5 1216.9,478.6 1215.6,479.2" fill="#fbe100"/><polygon points="902.0,459.0 899.9,457.3 899.4,455.3 901.0,453.0 903.2,453.3 905.3,455.3 904.7,458.0" fill="#4a90a0"/><polygon points="836.6,509.0 837.0,510.8 835.5,511.5 834.0,511.6 832.8,510.0 834.1,508.5 835.4,508.6" fill="#e67300"/><polygon points="937.4,494.1 936.9,493.0 938.2,492.2 939.7,491.9 940.0,493.3 939.6,494.4 938.5,495.4" fill="#dd3a00"/><polygon points="966.4,488.0 964.7,488.6 963.6,488.2 963.4,486.7 964.1,485.5 965.7,485.6 966.9,486.8" fill="#b0cf45"/><polygon points="1068.9,488.8 1070.0,489.6 1069.9,491.3 1068.1,491.9 1066.5,491.1 1066.0,489.7 1067.1,487.9" fill="#b0cf45"/><polygon points="1030.2,492.9 1027.7,491.9 1028.1,489.6 1028.9,488.2 1031.8,488.0 1033.4,489.9 1032.2,492.1" fill="#e67300"/><polygon points="1096.5,522.9 1097.0,523.6 1096.6,524.4 1095.8,524.5 1095.0,524.0 1094.7,523.3 1095.7,522.3" fill="#e67300"/><polygon points="972.8,555.4 971.5,554.4 971.3,552.8 972.7,551.1 974.3,552.0 975.8,553.3 975.0,554.5" fill="#c90000"/><polygon points="1053.6,485.5 1052.5,485.0 1052.5,484.2 1053.1,483.4 1054.2,483.2 1054.7,484.0 1054.6,485.2" fill="#e67300"/><polygon points="881.7,472.3 880.4,471.3 880.2,470.0 881.5,468.8 882.9,469.2 883.9,470.5 883.1,471.8" fill="#b0cf45"/><polygon points="800.8,485.8 801.1,484.9 802.3,485.0 802.9,485.4 802.9,486.1 802.3,486.5 801.3,486.4" fill="#1a70d0"/><polygon points="958.9,517.8 958.9,516.8 959.8,515.9 961.1,516.6 961.4,517.3 960.9,518.0 959.8,518.2" fill="#c90000"/><polygon points="870.6,488.6 870.4,490.1 868.6,490.7 867.0,490.3 867.3,488.5 868.0,487.4 869.3,487.3" fill="#b0cf45"/><polygon points="986.6,453.8 986.9,455.1 986.0,456.0 984.7,455.8 984.1,454.9 984.3,453.6 985.5,453.5" fill="#1a70d0"/><polygon points="835.0,543.1 834.1,544.5 832.8,545.6 830.7,544.5 831.0,543.2 831.8,541.2 833.8,542.1" fill="#dd3a00"/><polygon points="1055.4,459.0 1056.5,459.5 1056.8,460.6 1055.5,461.2 1054.1,461.2 1053.6,460.2 1053.9,459.0" fill="#fbe100"/><polygon points="1065.2,512.0 1066.5,513.3 1065.0,515.0 1062.6,515.9 1060.8,513.9 1061.0,512.4 1062.9,511.6" fill="#c90000"/><polygon points="833.7,466.9 835.1,465.9 836.4,466.8 837.6,467.8 836.3,469.3 835.1,469.0 833.6,468.2" fill="#1a70d0"/><polygon points="1172.7,465.2 1173.1,464.5 1174.5,463.8 1175.4,464.8 1175.6,465.7 1174.4,466.6 1173.1,466.4" fill="#b0cf45"/><polygon points="1009.3,439.8 1010.3,438.1 1012.8,437.6 1014.3,439.0 1014.7,440.7 1012.7,442.7 1010.8,441.8" fill="#1a70d0"/><polygon points="1085.3,488.2 1085.6,489.2 1084.6,490.2 1083.6,489.9 1083.0,489.2 1083.2,488.0 1084.2,487.8" fill="#e67300"/><polygon points="1121.1,478.9 1122.7,477.6 1124.9,478.5 1126.0,479.7 1124.8,481.1 1122.6,481.9 1121.3,480.7" fill="#e67300"/><polygon points="955.6,545.7 957.4,544.0 959.5,545.1 960.0,546.2 959.9,548.2 957.9,548.2 956.6,547.6" fill="#c90000"/><polygon points="826.4,477.2 825.0,474.9 825.4,472.7 827.6,472.2 830.3,473.0 829.7,474.9 828.6,477.0" fill="#1a70d0"/><polygon points="858.5,471.3 858.0,472.8 856.7,473.1 855.2,472.7 855.1,471.5 855.6,470.0 857.3,470.6" fill="#1a70d0"/><polygon points="872.4,473.7 874.3,473.8 874.6,475.4 873.8,477.1 872.3,477.2 870.8,476.2 871.3,474.6" fill="#b0cf45"/><polygon points="937.9,481.5 938.7,482.4 939.1,483.7 938.2,484.4 936.8,484.1 936.0,483.3 936.6,482.3" fill="#4a90a0"/><polygon points="1168.0,466.4 1166.6,467.7 1164.6,467.6 1163.8,466.1 1163.9,464.5 1165.9,463.5 1167.8,464.6" fill="#b0cf45"/><polygon points="860.9,458.2 861.7,459.5 860.5,460.6 858.6,460.8 857.8,459.6 857.8,458.2 859.2,457.4" fill="#4a90a0"/><polygon points="922.5,444.0 921.1,446.2 918.9,446.9 917.7,444.9 917.1,442.4 919.5,441.2 921.9,441.8" fill="#1a70d0"/><polygon points="1115.9,500.8 1117.1,498.9 1118.3,497.6 1120.0,498.8 1121.0,500.3 1119.8,501.5 1118.1,502.1" fill="#b0cf45"/><polygon points="837.3,522.3 838.9,523.4 838.1,524.6 837.0,525.0 835.3,525.1 835.0,523.6 835.9,522.4" fill="#e67300"/><polygon points="1045.6,479.3 1043.8,478.3 1043.2,476.8 1044.5,475.1 1046.1,475.4 1047.4,476.4 1046.8,478.0" fill="#e67300"/><polygon points="1007.3,439.9 1008.4,437.9 1010.5,437.1 1012.0,439.0 1012.0,440.9 1010.3,441.6 1008.0,442.0" fill="#1a70d0"/><polygon points="1098.4,466.1 1097.7,465.0 1098.4,463.9 1099.7,464.1 1100.3,464.7 1100.2,465.9 1099.3,466.6" fill="#b0cf45"/><polygon points="1211.1,484.3 1208.4,483.7 1209.2,481.4 1210.1,479.0 1212.8,479.2 1213.9,481.6 1213.0,484.1" fill="#fbe100"/><polygon points="827.0,468.6 828.0,469.1 828.8,470.1 827.8,471.4 826.5,470.9 825.4,470.3 825.8,468.9" fill="#b0cf45"/><polygon points="960.1,499.6 960.2,500.9 958.9,501.5 957.5,501.2 956.9,500.3 957.5,498.9 958.7,498.7" fill="#fbe100"/><polygon points="1160.9,509.1 1160.0,511.7 1158.2,512.1 1155.7,512.0 1154.5,510.0 1156.7,508.6 1158.8,507.4" fill="#e67300"/><polygon points="983.0,519.0 981.9,518.2 981.9,517.0 983.4,516.7 984.4,516.6 985.0,518.0 984.2,518.6" fill="#e67300"/><polygon points="967.9,480.4 965.8,480.3 965.0,478.1 966.1,476.1 968.1,475.9 969.3,477.2 969.1,479.2" fill="#fbe100"/><polygon points="1096.8,501.5 1099.6,501.6 1101.3,503.0 1101.0,505.4 1099.0,507.0 1097.2,506.0 1095.5,503.7" fill="#dd3a00"/><polygon points="1179.8,496.4 1179.8,497.8 1178.6,498.5 1177.4,497.7 1176.5,496.8 1177.4,495.8 1179.0,495.6" fill="#b0cf45"/><polygon points="815.0,458.6 815.0,457.4 815.2,456.0 816.8,455.5 818.1,456.8 818.0,458.0 816.9,458.6" fill="#4a90a0"/><polygon points="933.1,517.2 931.8,516.7 931.6,515.1 932.8,514.5 934.3,514.1 935.5,515.7 934.4,516.8" fill="#dd3a00"/><polygon points="1138.4,521.1 1139.4,522.0 1139.4,523.1 1138.1,523.6 1136.9,523.2 1136.3,522.2 1137.4,521.5" fill="#c90000"/><polygon points="997.6,474.5 997.7,473.2 999.6,472.1 1001.4,473.1 1001.2,474.6 1000.3,476.0 999.0,476.1" fill="#fbe100"/><polygon points="1152.6,498.2 1154.5,498.1 1156.4,499.1 1156.3,501.1 1153.8,502.6 1151.4,501.7 1151.7,499.2" fill="#e67300"/><polygon points="975.7,537.1 975.1,535.9 975.5,534.1 976.8,533.2 978.0,534.0 979.0,535.7 977.9,537.0" fill="#c90000"/><polygon points="1107.6,466.3 1106.4,466.4 1105.5,465.1 1105.9,463.7 1107.7,463.7 1108.9,464.1 1108.9,465.8" fill="#b0cf45"/><polygon points="1204.1,486.7 1202.7,488.8 1200.3,488.7 1198.0,487.7 1197.6,485.7 1200.1,484.8 1203.1,484.2" fill="#b0cf45"/><polygon points="1094.9,502.2 1092.1,500.5 1091.8,498.6 1093.8,497.2 1096.7,497.4 1097.9,499.0 1096.8,501.2" fill="#fbe100"/><polygon points="824.1,459.9 825.5,459.5 826.4,460.4 827.0,461.4 825.7,462.0 824.5,461.8 823.3,461.0" fill="#1a70d0"/><polygon points="916.5,482.4 914.2,483.0 912.6,481.1 911.8,479.3 914.2,477.6 916.4,478.4 917.1,480.0" fill="#e67300"/><polygon points="1223.6,480.6 1222.7,479.3 1223.1,477.8 1225.4,476.9 1227.2,478.2 1227.3,479.6 1225.9,481.4" fill="#fbe100"/><polygon points="965.6,488.8 966.1,490.6 965.6,493.0 963.4,494.1 961.8,492.3 961.2,490.0 963.0,487.8" fill="#e67300"/><polygon points="994.6,502.3 996.9,503.3 997.9,504.9 997.6,507.5 995.0,507.3 992.5,506.5 992.5,504.2" fill="#fbe100"/><polygon points="928.9,531.9 931.4,531.0 932.9,532.9 933.1,534.7 931.3,535.8 928.7,535.7 928.0,533.9" fill="#c90000"/><polygon points="903.3,466.7 903.5,465.3 904.8,464.1 906.1,464.8 907.4,466.0 906.2,467.2 904.8,467.3" fill="#4a90a0"/><polygon points="1216.2,459.3 1217.3,460.0 1216.9,460.9 1215.9,461.5 1214.8,461.0 1214.8,460.1 1215.1,459.3" fill="#4a90a0"/><polygon points="983.3,440.8 984.6,440.6 985.7,441.6 985.4,442.6 984.4,443.7 983.2,443.0 982.7,441.9" fill="#b0cf45"/><polygon points="1123.1,454.9 1122.1,455.7 1121.2,454.9 1120.9,454.1 1121.8,453.3 1122.8,453.6 1123.4,454.1" fill="#4a90a0"/><polygon points="955.1,519.0 955.8,518.4 956.9,518.6 957.9,519.4 956.9,520.5 956.0,520.8 954.9,520.2" fill="#e67300"/><polygon points="1020.6,527.5 1023.1,526.9 1025.6,527.3 1025.6,529.8 1024.6,531.6 1022.1,531.1 1020.9,529.8" fill="#e67300"/><polygon points="996.7,465.2 996.8,463.9 999.1,462.4 1000.8,464.0 1001.6,466.3 999.2,466.9 997.4,467.1" fill="#b0cf45"/><polygon points="967.1,538.6 968.7,540.3 967.4,542.4 965.5,542.2 963.9,541.4 963.4,539.5 965.3,537.9" fill="#c90000"/><polygon points="1077.1,502.9 1076.6,501.0 1078.3,499.7 1080.2,500.5 1081.1,501.7 1080.9,503.7 1078.8,503.6" fill="#dd3a00"/><polygon points="854.4,532.1 853.5,533.0 852.3,533.5 851.2,532.6 851.5,531.4 852.3,531.1 853.6,530.9" fill="#dd3a00"/><polygon points="804.7,524.4 802.0,524.5 801.4,522.3 802.1,520.3 803.8,519.3 805.5,520.2 806.3,522.7" fill="#4a90a0"/><polygon points="1015.4,500.2 1014.4,500.3 1014.0,499.5 1014.0,498.6 1015.0,498.3 1015.7,498.7 1016.0,499.5" fill="#b0cf45"/><polygon points="941.3,543.6 942.6,541.5 944.8,541.0 945.9,542.7 946.1,544.3 944.8,545.3 943.2,544.9" fill="#e67300"/><polygon points="941.4,476.5 939.8,476.0 938.1,474.4 939.2,472.4 941.5,472.5 942.5,473.7 943.2,475.0" fill="#4a90a0"/><polygon points="866.0,497.2 867.0,496.1 868.1,496.1 869.5,496.4 869.7,497.5 868.4,498.2 867.0,498.3" fill="#dd3a00"/><polygon points="1060.4,444.8 1059.9,443.6 1060.9,443.0 1062.3,443.3 1063.2,444.0 1062.8,445.0 1061.3,445.4" fill="#1a70d0"/><polygon points="897.6,514.2 896.4,513.1 897.5,511.7 898.6,511.1 899.8,511.8 899.8,513.3 899.3,514.3" fill="#dd3a00"/><polygon points="1063.3,495.7 1062.9,494.0 1064.7,492.3 1066.8,492.9 1068.3,494.3 1067.6,496.5 1065.3,497.1" fill="#b0cf45"/><polygon points="1175.6,478.3 1175.1,477.4 1175.6,476.5 1176.6,476.4 1177.5,477.0 1177.3,477.8 1176.6,478.4" fill="#b0cf45"/><polygon points="836.7,553.2 837.5,555.4 835.2,556.8 833.3,555.9 832.7,553.9 833.7,552.2 835.4,551.9" fill="#fbe100"/><polygon points="1087.8,520.4 1088.9,519.3 1090.7,518.3 1092.1,519.7 1092.0,521.1 1090.4,522.5 1088.3,521.7" fill="#c90000"/><polygon points="899.5,465.4 898.5,463.8 899.3,463.0 900.8,462.3 901.8,463.4 901.6,464.7 900.8,465.7" fill="#4a90a0"/><polygon points="847.3,536.8 847.6,535.2 849.4,535.4 850.4,536.0 850.9,537.4 849.4,538.2 847.8,538.4" fill="#fbe100"/><polygon points="881.7,538.2 883.4,539.4 883.4,541.4 882.0,543.2 879.9,542.6 878.1,540.8 879.6,539.0" fill="#e67300"/><polygon points="940.4,529.4 938.0,528.3 939.4,525.6 941.2,524.4 943.6,525.8 944.7,527.8 943.3,530.0" fill="#c90000"/><polygon points="823.9,494.5 823.1,495.4 822.2,495.7 821.4,494.7 821.7,493.9 822.3,493.6 823.4,493.5" fill="#fbe100"/><polygon points="809.2,553.2 810.4,552.5 811.2,553.5 811.9,554.6 810.5,555.1 809.6,555.1 808.3,554.1" fill="#b0cf45"/><polygon points="1051.5,493.4 1049.0,493.3 1046.7,493.4 1046.7,491.1 1047.8,489.7 1049.8,489.7 1051.3,491.2" fill="#e67300"/><polygon points="948.0,544.4 945.7,544.6 944.7,542.4 943.7,540.0 946.4,539.6 949.2,539.7 950.4,541.8" fill="#c90000"/><polygon points="923.1,517.7 925.2,516.0 929.1,516.4 931.3,518.6 929.5,521.2 926.4,522.3 923.6,521.2" fill="#f0a800"/><polygon points="1037.3,498.7 1039.9,498.1 1041.9,499.2 1041.7,501.5 1039.3,502.5 1036.8,502.3 1035.9,499.9" fill="#f0a800"/><polygon points="918.9,515.7 916.8,515.6 916.7,513.5 917.5,512.0 919.3,511.3 921.4,512.9 920.7,514.9" fill="#f0a800"/><polygon points="1136.8,516.9 1133.8,518.6 1130.2,516.1 1129.1,512.4 1132.0,508.9 1136.6,509.6 1137.4,512.8" fill="#f0a800"/><polygon points="902.6,495.0 901.6,496.9 899.7,496.2 898.0,495.0 898.7,493.3 900.6,492.5 902.3,493.5" fill="#f0a800"/><polygon points="888.6,490.7 890.3,491.4 890.8,493.5 889.2,494.6 886.8,494.2 886.1,493.0 886.4,491.6" fill="#f0a800"/><polygon points="1195.1,536.2 1192.4,537.1 1189.3,534.6 1191.0,532.3 1193.4,531.5 1196.7,531.2 1196.9,534.5" fill="#f0a800"/><polygon points="1074.4,510.9 1073.3,509.0 1074.3,506.8 1076.8,506.3 1079.8,507.3 1079.5,510.4 1077.1,512.0" fill="#f0a800"/><polygon points="1200.0,530.4 1196.3,531.0 1192.4,528.6 1192.4,525.6 1195.9,524.1 1199.6,524.6 1201.4,526.7" fill="#f0a800"/><polygon points="893.4,496.7 893.5,492.1 895.7,489.8 899.6,489.5 902.0,493.3 900.8,496.0 896.6,497.7" fill="#f0a800"/><polygon points="944.8,495.1 945.3,491.7 949.8,489.1 953.0,492.2 954.3,495.6 951.8,497.9 948.0,498.5" fill="#f0a800"/><polygon points="1020.4,498.4 1023.1,500.9 1024.6,503.1 1023.6,505.5 1019.9,506.4 1016.3,504.8 1016.8,501.1" fill="#f0a800"/><polygon points="867.4,513.6 868.4,509.8 871.8,510.1 875.2,511.3 874.7,513.8 873.1,517.2 869.4,516.2" fill="#f0a800"/><polygon points="923.7,490.1 924.2,492.4 923.6,493.8 920.9,494.8 919.1,492.4 919.8,490.1 922.0,488.8" fill="#f0a800"/><polygon points="914.5,520.3 917.0,517.1 920.1,518.1 922.6,519.4 921.9,522.6 919.1,524.2 915.5,523.0" fill="#f0a800"/><polygon points="856.9,523.9 854.1,520.8 854.2,517.4 858.3,516.0 862.3,516.6 863.7,519.9 861.1,522.3" fill="#f0a800"/><polygon points="846.1,540.2 845.2,537.7 847.2,535.4 849.4,536.8 850.4,538.1 850.0,540.2 847.8,541.6" fill="#f0a800"/><polygon points="990.8,507.5 992.2,508.5 992.4,509.7 991.5,511.1 989.5,510.7 988.5,509.6 989.0,508.3" fill="#f0a800"/><polygon points="942.0,516.3 943.0,517.5 943.2,519.0 941.3,520.0 939.2,519.3 938.7,517.7 940.3,516.4" fill="#f0a800"/><polygon points="1196.8,519.6 1198.9,518.4 1200.7,520.1 1200.6,521.9 1199.1,523.7 1197.0,523.1 1195.4,521.1" fill="#f0a800"/><polygon points="941.4,503.6 944.0,500.9 947.5,501.7 951.0,503.4 950.0,507.4 945.9,509.3 942.4,507.1" fill="#f0a800"/><polygon points="948.3,494.7 949.6,495.8 950.6,497.5 949.0,498.5 947.2,498.3 946.2,497.4 946.8,495.9" fill="#f0a800"/><polygon points="919.4,522.4 915.5,521.8 912.2,519.0 914.9,515.9 918.0,514.9 922.6,515.0 923.3,519.1" fill="#f0a800"/><polygon points="979.6,507.6 976.8,509.4 973.2,510.8 971.4,507.7 970.9,504.7 974.3,503.4 977.7,504.7" fill="#f0a800"/><polygon points="889.7,500.0 893.3,497.7 897.1,498.0 898.6,502.1 896.4,505.0 892.7,506.5 889.4,503.9" fill="#f0a800"/><polygon points="880.8,503.9 883.9,502.1 886.8,504.8 886.0,507.0 884.1,509.5 880.6,509.4 878.2,506.0" fill="#f0a800"/><polygon points="1154.6,532.4 1156.3,532.5 1157.1,533.3 1157.5,534.9 1155.7,536.1 1154.3,535.5 1153.8,533.6" fill="#f0a800"/><polygon points="1167.5,529.0 1165.8,530.8 1162.2,531.7 1160.4,529.9 1160.1,525.8 1163.3,524.0 1167.3,525.2" fill="#f0a800"/><polygon points="1006.0,511.3 1008.6,508.8 1011.7,510.2 1012.3,511.8 1011.5,514.1 1009.3,514.2 1007.7,513.5" fill="#f0a800"/><polygon points="1020.7,508.6 1016.9,510.6 1013.3,509.6 1010.1,506.6 1013.8,502.5 1017.7,502.3 1019.9,505.6" fill="#f0a800"/><polygon points="851.8,532.0 849.9,535.1 846.3,536.5 843.7,533.8 843.2,531.2 845.5,529.9 848.7,529.7" fill="#f0a800"/><polygon points="1002.9,518.1 1000.9,519.7 999.4,519.4 998.6,517.9 999.2,516.4 1000.7,515.3 1002.0,516.5" fill="#f0a800"/><polygon points="916.3,494.1 914.9,494.8 913.5,494.2 912.7,493.1 913.2,491.6 915.2,491.4 916.3,492.4" fill="#f0a800"/><polygon points="1007.5,523.1 1009.3,521.8 1010.9,523.4 1010.6,525.1 1009.5,525.7 1007.7,526.0 1006.1,524.3" fill="#f0a800"/><polygon points="911.9,495.5 913.9,495.7 914.9,497.7 913.2,499.8 911.3,500.3 910.1,498.0 910.3,496.4" fill="#f0a800"/><polygon points="1180.5,529.1 1182.9,527.3 1186.1,529.1 1186.7,531.8 1184.0,534.3 1181.0,534.0 1179.2,531.6" fill="#f0a800"/><polygon points="992.3,513.3 996.0,512.0 997.7,515.0 997.1,517.4 994.9,519.8 991.8,517.9 991.4,515.5" fill="#f0a800"/><polygon points="1001.6,527.3 999.2,527.8 997.3,526.9 996.8,523.5 998.3,521.6 1001.5,521.2 1003.7,524.2" fill="#f0a800"/><polygon points="907.8,515.1 908.2,518.9 904.7,521.1 899.9,519.6 898.0,516.9 900.0,513.1 904.2,512.4" fill="#f0a800"/><polygon points="996.2,513.1 992.7,511.4 991.7,508.1 993.7,505.9 997.8,505.9 999.2,507.3 1000.0,510.1" fill="#f0a800"/><polygon points="992.2,514.3 991.5,511.4 992.2,508.3 994.2,507.6 996.4,508.5 997.3,511.6 995.6,512.9" fill="#f0a800"/><polygon points="869.1,515.9 868.2,512.1 872.5,509.2 876.9,510.8 878.2,514.1 876.2,517.7 872.3,518.3" fill="#f0a800"/><polygon points="909.5,494.9 912.1,492.1 916.0,491.5 918.3,494.0 917.6,497.5 915.0,498.8 912.0,497.7" fill="#f0a800"/><polygon points="874.7,499.8 878.0,498.0 881.1,500.7 880.1,503.6 878.1,505.9 874.9,504.8 873.7,502.3" fill="#f0a800"/><polygon points="1144.7,515.3 1143.4,517.3 1140.1,517.2 1138.6,514.2 1140.6,512.2 1143.0,510.8 1145.2,512.3" fill="#f0a800"/><polygon points="1190.0,536.1 1188.6,534.1 1190.0,531.5 1192.5,530.4 1195.5,532.4 1195.4,534.7 1193.1,536.8" fill="#f0a800"/><polygon points="1007.8,528.3 1010.0,530.7 1008.6,533.7 1005.8,534.3 1003.3,532.3 1002.4,530.2 1005.0,528.0" fill="#f0a800"/><polygon points="907.2,503.9 906.7,502.2 907.3,500.7 909.6,501.0 911.0,501.6 910.2,503.6 908.8,504.6" fill="#f0a800"/><polygon points="900.4,520.1 902.3,518.6 904.1,518.8 905.2,520.8 904.8,522.3 902.4,523.7 901.0,522.1" fill="#f0a800"/><polygon points="1073.2,506.0 1075.0,505.4 1077.1,505.7 1077.6,507.5 1075.9,508.6 1073.6,509.1 1072.9,507.3" fill="#f0a800"/><polygon points="1021.6,508.7 1018.3,506.9 1017.7,504.0 1020.1,500.9 1024.5,500.9 1025.4,504.6 1025.8,508.1" fill="#f0a800"/><polygon points="995.3,505.3 997.3,504.8 999.4,505.7 999.3,507.1 998.4,508.8 996.5,508.9 995.5,507.1" fill="#f0a800"/><polygon points="898.7,526.0 897.0,526.1 896.3,524.3 896.6,522.5 898.4,522.5 899.4,522.9 899.5,524.7" fill="#f0a800"/><polygon points="1153.3,529.2 1151.6,532.4 1148.0,531.6 1145.0,530.1 1146.4,527.1 1149.1,524.6 1153.0,525.4" fill="#f0a800"/><polygon points="1113.9,507.8 1110.8,507.3 1110.7,504.2 1112.7,501.7 1115.5,501.4 1117.1,504.3 1117.5,506.9" fill="#f0a800"/><polygon points="915.3,501.4 914.9,499.6 916.7,498.2 918.6,498.6 920.1,500.3 919.2,502.2 916.7,502.1" fill="#f0a800"/><polygon points="1157.0,532.2 1155.1,534.1 1151.8,535.1 1149.0,532.0 1150.1,529.2 1153.8,527.4 1157.4,529.7" fill="#f0a800"/><polygon points="1028.9,507.6 1026.9,510.2 1023.9,510.3 1022.5,507.3 1022.5,505.1 1025.3,503.4 1027.5,505.0" fill="#f0a800"/><polygon points="916.0,510.5 914.2,509.3 913.1,508.4 914.3,507.0 915.7,506.7 917.5,507.3 917.6,509.2" fill="#f0a800"/><polygon points="889.8,500.7 887.9,497.6 888.9,493.8 892.3,492.4 896.2,494.2 895.9,497.6 894.2,499.7" fill="#f0a800"/><polygon points="1255.8,546.5 1259.8,542.8 1262.2,538.0 1258.2,541.7" fill="#b0cf45"/><polygon points="1289.7,505.3 1293.0,502.2 1295.1,498.2 1291.8,501.3" fill="#4a90a0"/><polygon points="1241.2,540.7 1244.3,539.2 1246.1,536.2 1243.0,537.7" fill="#4a90a0"/><polygon points="1279.8,516.1 1284.9,513.0 1288.6,508.4 1283.5,511.4" fill="#4a90a0"/><polygon points="1267.2,531.3 1271.5,529.0 1274.6,525.1 1270.3,527.5" fill="#b0cf45"/><polygon points="1260.9,543.9 1264.7,541.1 1266.7,536.8 1262.9,539.6" fill="#1a70d0"/><polygon points="1293.9,497.3 1297.4,494.8 1299.9,491.4 1296.5,493.9" fill="#1a70d0"/><polygon points="1274.8,510.8 1279.1,508.0 1282.5,504.2 1278.2,507.0" fill="#1a70d0"/><polygon points="1229.2,555.1 1232.1,553.6 1234.1,550.9 1231.2,552.5" fill="#1a70d0"/><polygon points="1257.4,536.5 1261.0,534.9 1263.2,531.6 1259.6,533.2" fill="#4a90a0"/><polygon points="1242.0,556.6 1245.5,553.8 1247.7,549.9 1244.2,552.8" fill="#fbe100"/><polygon points="1200.4,558.8 1204.8,554.8 1208.2,549.9 1203.8,553.9" fill="#4a90a0"/><polygon points="1262.5,545.6 1267.2,542.7 1270.1,538.0 1265.4,540.9" fill="#4a90a0"/><polygon points="1228.4,548.6 1231.0,546.5 1232.1,543.4 1229.5,545.4" fill="#1a70d0"/><polygon points="1283.5,526.1 1286.7,524.2 1288.9,521.2 1285.7,523.1" fill="#4a90a0"/><polygon points="1268.0,523.9 1270.2,523.0 1270.4,520.6 1268.3,521.5" fill="#1a70d0"/><polygon points="1289.9,520.5 1292.5,519.3 1293.8,516.8 1291.2,517.9" fill="#e67300"/><polygon points="1258.0,558.1 1260.8,556.5 1262.2,553.5 1259.4,555.2" fill="#b0cf45"/><polygon points="1250.3,542.9 1254.5,538.9 1257.0,533.7 1252.9,537.7" fill="#1a70d0"/><polygon points="1224.1,550.9 1227.7,547.4 1229.8,543.0 1226.3,546.4" fill="#fbe100"/><polygon points="1227.6,555.6 1231.1,553.5 1233.2,550.1 1229.8,552.1" fill="#b0cf45"/><polygon points="1273.5,531.6 1276.6,528.7 1278.6,525.0 1275.5,527.9" fill="#fbe100"/><polygon points="1245.4,560.9 1249.2,558.4 1252.2,554.9 1248.3,557.4" fill="#4a90a0"/><polygon points="1286.3,507.0 1289.7,503.9 1291.9,499.8 1288.5,503.0" fill="#4a90a0"/><polygon points="1305.1,502.5 1307.9,500.1 1309.1,496.6 1306.3,499.0" fill="#fbe100"/><polygon points="1273.3,523.8 1277.5,520.2 1280.7,515.7 1276.5,519.4" fill="#1a70d0"/><polygon points="1287.9,506.1 1291.3,503.6 1293.6,500.1 1290.2,502.6" fill="#1a70d0"/><polygon points="1237.6,557.0 1241.8,553.7 1244.9,549.3 1240.6,552.6" fill="#fbe100"/><polygon points="1250.1,552.2 1253.1,550.1 1254.1,546.6 1251.1,548.7" fill="#b0cf45"/><polygon points="1236.0,553.5 1238.2,552.1 1239.5,549.7 1237.2,551.2" fill="#1a70d0"/><polygon points="1227.5,545.8 1229.5,544.6 1230.4,542.5 1228.4,543.7" fill="#4a90a0"/><polygon points="1232.5,546.2 1237.2,542.5 1240.9,537.7 1236.1,541.4" fill="#1a70d0"/><polygon points="1257.6,537.1 1260.6,535.6 1262.2,532.6 1259.2,534.1" fill="#fbe100"/><polygon points="1279.6,533.1 1283.7,528.7 1286.4,523.4 1282.2,527.7" fill="#1a70d0"/><polygon points="1235.6,563.7 1240.2,560.5 1243.5,556.0 1238.9,559.2" fill="#e67300"/><polygon points="1282.8,518.8 1287.0,516.1 1289.8,511.9 1285.6,514.6" fill="#fbe100"/><polygon points="1212.3,553.4 1216.4,550.9 1219.1,546.9 1214.9,549.4" fill="#fbe100"/><polygon points="1251.2,556.2 1255.0,554.3 1257.4,550.7 1253.6,552.7" fill="#fbe100"/><polygon points="1229.5,555.4 1233.5,551.5 1235.6,546.5 1231.7,550.3" fill="#1a70d0"/><polygon points="1285.0,520.6 1287.7,518.6 1288.8,515.4 1286.1,517.4" fill="#e67300"/><polygon points="1232.6,551.6 1236.9,548.2 1240.3,543.8 1235.9,547.2" fill="#fbe100"/><polygon points="1254.2,549.9 1256.5,548.9 1257.0,546.5 1254.8,547.5" fill="#fbe100"/><polygon points="1276.3,529.6 1279.1,527.6 1281.0,524.8 1278.2,526.8" fill="#fbe100"/><polygon points="1281.2,503.0 1284.2,500.5 1286.2,497.1 1283.2,499.7" fill="#e67300"/><polygon points="1247.8,540.4 1252.0,537.3 1255.4,533.2 1251.1,536.3" fill="#1a70d0"/><polygon points="1236.3,563.0 1239.9,560.1 1241.6,555.8 1238.0,558.7" fill="#b0cf45"/><polygon points="1256.5,534.7 1260.7,531.3 1264.1,527.1 1259.8,530.4" fill="#1a70d0"/><polygon points="1213.1,552.4 1216.6,549.8 1219.1,546.4 1215.6,548.9" fill="#b0cf45"/><polygon points="1261.2,530.9 1264.6,529.4 1266.6,526.4 1263.2,527.8" fill="#fbe100"/><polygon points="1252.9,534.3 1255.2,532.4 1256.2,529.5 1253.9,531.5" fill="#e67300"/><polygon points="1286.1,501.8 1290.2,498.2 1293.3,493.7 1289.2,497.3" fill="#4a90a0"/><polygon points="1275.6,535.0 1278.4,533.4 1279.8,530.5 1277.0,532.1" fill="#b0cf45"/><polygon points="1242.7,554.7 1247.0,550.4 1249.4,544.9 1245.1,549.2" fill="#b0cf45"/><polygon points="1288.6,510.5 1292.5,507.6 1295.0,503.5 1291.1,506.3" fill="#1a70d0"/><polygon points="1275.7,527.1 1278.7,524.9 1280.4,521.6 1277.4,523.8" fill="#1a70d0"/><polygon points="1210.1,554.4 1214.1,551.1 1217.1,546.9 1213.1,550.2" fill="#1a70d0"/><polygon points="1230.3,556.9 1234.3,553.6 1236.5,548.9 1232.5,552.2" fill="#b0cf45"/><polygon points="1247.5,563.8 1251.6,561.8 1254.0,558.0 1250.0,560.0" fill="#4a90a0"/><polygon points="1257.6,557.5 1260.0,556.0 1261.3,553.5 1258.8,554.9" fill="#1a70d0"/><polygon points="1247.0,539.5 1249.4,537.9 1250.4,535.2 1248.0,536.8" fill="#fbe100"/><polygon points="1284.4,508.0 1287.4,506.0 1289.5,503.1 1286.5,505.0" fill="#fbe100"/><polygon points="1276.2,507.2 1281.2,503.9 1284.6,499.0 1279.6,502.3" fill="#fbe100"/><polygon points="1303.4,501.8 1305.6,500.4 1306.7,498.1 1304.5,499.5" fill="#fbe100"/><polygon points="1270.9,537.9 1274.8,535.6 1277.6,532.0 1273.7,534.3" fill="#b0cf45"/><polygon points="1204.0,559.9 1208.2,557.1 1210.7,552.8 1206.6,555.6" fill="#1a70d0"/><polygon points="1286.3,525.2 1289.3,523.2 1290.9,519.9 1287.9,521.9" fill="#fbe100"/><polygon points="1292.5,505.6 1294.9,504.0 1296.3,501.4 1293.9,503.1" fill="#e67300"/><polygon points="1258.1,539.3 1260.2,538.3 1260.8,536.1 1258.7,537.0" fill="#e67300"/><polygon points="1293.7,515.0 1297.8,511.4 1300.6,506.8 1296.5,510.3" fill="#e67300"/><polygon points="1286.9,506.4 1290.1,503.9 1292.2,500.4 1289.0,502.9" fill="#1a70d0"/><polygon points="1251.4,554.2 1253.7,553.0 1254.2,550.5 1251.9,551.7" fill="#4a90a0"/><polygon points="1225.2,560.4 1227.1,559.3 1227.6,557.2 1225.7,558.3" fill="#fbe100"/><polygon points="1233.2,564.3 1237.1,560.8 1239.0,556.0 1235.2,559.5" fill="#1a70d0"/><polygon points="1207.4,555.2 1211.7,552.8 1214.6,548.8 1210.3,551.2" fill="#4a90a0"/><polygon points="1232.7,561.9 1236.9,558.4 1239.5,553.6 1235.3,557.1" fill="#1a70d0"/><polygon points="1256.5,527.5 1258.6,526.2 1259.4,523.9 1257.3,525.2" fill="#1a70d0"/><polygon points="1278.6,529.1 1283.2,525.6 1286.9,521.1 1282.3,524.6" fill="#b0cf45"/><polygon points="1290.9,513.8 1294.2,510.8 1296.0,506.7 1292.7,509.7" fill="#1a70d0"/><polygon points="1222.2,549.3 1226.9,546.1 1230.3,541.4 1225.6,544.7" fill="#e67300"/><polygon points="1301.6,502.7 1306.7,499.5 1310.4,494.8 1305.4,498.0" fill="#e67300"/><polygon points="1235.3,559.8 1237.7,558.5 1238.5,555.9 1236.1,557.2" fill="#4a90a0"/><polygon points="1279.0,533.1 1281.9,530.9 1283.6,527.7 1280.6,529.9" fill="#b0cf45"/><polygon points="1234.6,563.4 1237.4,561.0 1238.7,557.6 1235.9,559.9" fill="#fbe100"/><polygon points="1234.2,547.0 1237.5,544.6 1239.9,541.3 1236.6,543.7" fill="#e67300"/><polygon points="1263.8,532.6 1267.1,530.0 1268.5,526.1 1265.2,528.6" fill="#fbe100"/><polygon points="1221.3,555.7 1224.5,553.2 1226.1,549.4 1223.0,552.0" fill="#fbe100"/><polygon points="1263.2,534.0 1266.6,531.6 1268.7,528.0 1265.4,530.5" fill="#4a90a0"/><polygon points="1242.4,557.7 1246.9,555.4 1249.8,551.3 1245.3,553.6" fill="#e67300"/><polygon points="1269.6,540.9 1273.4,538.1 1275.3,533.8 1271.5,536.6" fill="#1a70d0"/><polygon points="1235.0,556.3 1239.0,553.0 1241.9,548.8 1237.9,552.0" fill="#e67300"/><polygon points="1224.6,574.3 1228.0,571.1 1230.3,567.0 1226.9,570.2" fill="#fbe100"/><polygon points="1213.5,588.2 1215.9,586.7 1217.0,584.0 1214.6,585.6" fill="#e67300"/><polygon points="1206.2,589.6 1210.0,586.3 1212.7,582.1 1208.9,585.4" fill="#b0cf45"/><polygon points="1190.3,586.2 1193.3,584.9 1194.7,582.1 1191.8,583.4" fill="#dd3a00"/><polygon points="1219.7,573.4 1222.0,572.3 1223.4,570.3 1221.2,571.4" fill="#dd3a00"/><polygon points="1174.7,611.7 1177.7,609.5 1179.9,606.5 1176.8,608.7" fill="#fbe100"/><polygon points="1191.2,589.0 1194.9,586.9 1197.1,583.3 1193.4,585.4" fill="#e67300"/><polygon points="1207.4,571.8 1211.6,569.7 1214.3,565.8 1210.1,567.9" fill="#dd3a00"/><polygon points="1199.6,579.6 1202.0,578.4 1202.7,575.8 1200.3,577.0" fill="#1a70d0"/><polygon points="1215.9,574.6 1219.9,571.7 1222.7,567.7 1218.7,570.6" fill="#fbe100"/><polygon points="1214.2,577.1 1217.7,574.8 1219.3,570.9 1215.9,573.3" fill="#b0cf45"/><polygon points="1217.5,570.5 1219.7,569.7 1220.6,567.7 1218.5,568.4" fill="#4a90a0"/><polygon points="1209.7,575.4 1213.2,573.8 1215.3,570.7 1211.8,572.2" fill="#e67300"/><polygon points="1170.8,610.8 1174.0,609.0 1175.9,605.8 1172.7,607.6" fill="#dd3a00"/><polygon points="1205.6,587.8 1209.3,585.2 1211.7,581.4 1208.0,584.0" fill="#4a90a0"/><polygon points="1197.1,580.6 1199.5,579.1 1200.5,576.5 1198.2,578.0" fill="#e67300"/><polygon points="1165.9,615.6 1169.5,613.4 1171.9,609.8 1168.2,612.0" fill="#dd3a00"/><polygon points="1192.3,606.1 1194.8,605.0 1196.4,602.7 1193.8,603.8" fill="#fbe100"/><polygon points="1218.4,587.8 1222.9,585.6 1226.1,581.7 1221.7,584.0" fill="#b0cf45"/><polygon points="1188.6,603.5 1192.2,601.4 1194.5,597.9 1190.9,600.0" fill="#fbe100"/><polygon points="1218.9,585.2 1222.6,581.9 1224.3,577.3 1220.6,580.6" fill="#dd3a00"/><polygon points="1233.3,572.7 1235.8,570.9 1236.7,568.0 1234.2,569.8" fill="#fbe100"/><polygon points="1217.3,588.9 1220.8,586.1 1222.7,582.0 1219.2,584.8" fill="#dd3a00"/><polygon points="1211.2,576.6 1213.7,575.8 1214.9,573.4 1212.4,574.3" fill="#dd3a00"/><polygon points="1180.7,601.4 1184.8,599.1 1187.9,595.5 1183.8,597.8" fill="#fbe100"/><polygon points="1218.0,589.1 1221.1,587.2 1222.5,583.9 1219.4,585.7" fill="#dd3a00"/><polygon points="1174.2,602.3 1176.5,600.3 1177.5,597.4 1175.2,599.4" fill="#e67300"/><polygon points="1207.7,592.1 1211.8,589.5 1215.1,585.9 1211.0,588.5" fill="#e67300"/><polygon points="1224.1,583.2 1227.8,580.2 1229.9,576.0 1226.2,579.0" fill="#b0cf45"/><polygon points="1184.0,591.0 1188.2,588.7 1191.3,585.1 1187.1,587.4" fill="#b0cf45"/><polygon points="1225.1,579.0 1228.3,576.7 1230.6,573.5 1227.4,575.8" fill="#fbe100"/><polygon points="1211.7,570.6 1216.2,568.4 1219.2,564.3 1214.7,566.5" fill="#fbe100"/><polygon points="1175.1,613.9 1179.4,611.7 1182.2,607.8 1177.9,609.9" fill="#fbe100"/><polygon points="1188.1,607.7 1191.7,606.2 1193.7,602.8 1190.2,604.4" fill="#4a90a0"/><polygon points="1224.0,573.8 1228.0,571.4 1230.2,567.4 1226.2,569.8" fill="#b0cf45"/><polygon points="1201.1,581.9 1203.7,580.1 1204.3,577.0 1201.6,578.8" fill="#1a70d0"/><polygon points="1203.1,595.3 1206.7,593.1 1208.6,589.4 1204.9,591.5" fill="#dd3a00"/><polygon points="1203.7,580.2 1206.2,579.7 1207.2,577.3 1204.7,577.8" fill="#fbe100"/><polygon points="1203.5,578.3 1206.0,577.0 1207.6,574.7 1205.1,576.0" fill="#b0cf45"/><polygon points="1203.6,579.9 1207.0,578.0 1209.4,575.0 1206.0,576.8" fill="#4a90a0"/><polygon points="1187.8,592.4 1190.3,590.7 1191.5,588.0 1189.0,589.7" fill="#4a90a0"/><polygon points="1200.3,580.3 1203.2,578.8 1204.8,576.1 1201.9,577.5" fill="#b0cf45"/><polygon points="1209.6,572.0 1211.5,571.0 1212.2,568.9 1210.2,569.9" fill="#e67300"/><polygon points="1229.6,568.9 1233.1,566.3 1234.9,562.4 1231.4,565.0" fill="#1a70d0"/><polygon points="1215.6,582.4 1218.1,581.2 1218.6,578.5 1216.1,579.7" fill="#4a90a0"/><polygon points="1230.2,569.7 1234.3,567.2 1237.1,563.4 1233.1,565.9" fill="#fbe100"/><polygon points="1219.3,573.7 1222.4,571.4 1224.3,568.1 1221.2,570.3" fill="#b0cf45"/><polygon points="1218.2,589.2 1221.2,586.5 1222.7,582.7 1219.7,585.4" fill="#dd3a00"/><polygon points="1193.0,583.5 1197.1,581.4 1199.5,577.5 1195.5,579.7" fill="#b0cf45"/><polygon points="1221.1,585.5 1225.1,583.1 1227.8,579.3 1223.8,581.7" fill="#dd3a00"/><polygon points="1247.7,532.6 1250.6,530.8 1251.6,527.5 1248.7,529.3" fill="#4a90a0"/><polygon points="1232.9,526.0 1235.6,523.0 1236.2,519.0 1233.6,522.0" fill="#4a90a0"/><polygon points="1249.3,523.6 1251.7,522.7 1252.7,520.4 1250.3,521.3" fill="#1a70d0"/><polygon points="1248.5,534.8 1252.2,531.4 1253.7,526.6 1250.0,530.0" fill="#4a90a0"/><polygon points="1267.4,513.7 1269.8,512.8 1270.1,510.2 1267.7,511.1" fill="#1a70d0"/><polygon points="1259.3,514.8 1263.2,513.3 1265.8,509.9 1261.9,511.4" fill="#fbe100"/><polygon points="1253.4,488.9 1256.2,486.5 1256.7,482.9 1253.8,485.2" fill="#b0cf45"/><polygon points="1256.8,519.5 1259.7,517.4 1261.1,514.2 1258.2,516.2" fill="#4a90a0"/><polygon points="1257.6,503.0 1260.2,503.0 1261.0,500.6 1258.5,500.6" fill="#1a70d0"/><polygon points="1226.4,537.7 1230.2,536.5 1232.5,533.2 1228.7,534.4" fill="#4a90a0"/><polygon points="1257.9,486.0 1260.5,484.5 1261.7,481.7 1259.1,483.2" fill="#1a70d0"/><polygon points="1233.5,520.6 1236.5,518.7 1238.4,515.7 1235.4,517.6" fill="#4a90a0"/><polygon points="1220.0,540.1 1222.5,538.2 1223.2,535.1 1220.8,537.0" fill="#fbe100"/><polygon points="1254.9,492.3 1257.6,491.9 1258.2,489.4 1255.6,489.7" fill="#4a90a0"/><polygon points="1242.2,508.8 1244.7,507.6 1244.6,504.8 1242.2,506.1" fill="#1a70d0"/><polygon points="1222.9,536.1 1225.9,534.4 1226.8,531.0 1223.8,532.7" fill="#1a70d0"/><polygon points="1237.4,514.4 1241.1,512.3 1243.5,508.9 1239.9,511.0" fill="#4a90a0"/><polygon points="1249.1,500.3 1251.3,499.1 1252.3,496.9 1250.1,498.1" fill="#4a90a0"/><polygon points="1242.2,502.4 1246.0,501.1 1248.0,497.6 1244.2,498.9" fill="#b0cf45"/><polygon points="1264.7,484.9 1267.8,484.0 1269.3,481.1 1266.2,482.1" fill="#fbe100"/><polygon points="1252.4,485.2 1256.4,484.0 1258.9,480.6 1254.9,481.8" fill="#4a90a0"/><polygon points="1257.9,502.7 1261.3,499.3 1263.3,494.9 1259.9,498.3" fill="#4a90a0"/><polygon points="1233.5,533.8 1236.6,530.8 1238.0,526.7 1234.9,529.7" fill="#4a90a0"/><polygon points="1236.7,537.0 1240.3,535.5 1242.6,532.2 1238.9,533.7" fill="#fbe100"/><polygon points="1231.8,526.3 1235.7,524.3 1238.5,520.9 1234.6,522.9" fill="#fbe100"/><polygon points="1253.9,526.2 1258.1,524.4 1261.0,521.0 1256.8,522.8" fill="#4a90a0"/><polygon points="1254.1,497.7 1256.6,496.1 1257.8,493.4 1255.3,495.0" fill="#1a70d0"/><polygon points="1239.6,517.3 1242.9,514.3 1244.4,510.1 1241.1,513.1" fill="#b0cf45"/><polygon points="1240.9,517.7 1244.3,516.3 1245.9,512.9 1242.5,514.4" fill="#4a90a0"/><polygon points="1229.6,541.1 1233.5,538.7 1235.4,534.5 1231.5,536.9" fill="#1a70d0"/><polygon points="1243.9,537.1 1247.3,533.5 1249.3,529.0 1245.9,532.6" fill="#b0cf45"/><polygon points="1257.1,508.6 1259.5,506.4 1260.7,503.4 1258.3,505.6" fill="#b0cf45"/><polygon points="1217.2,539.7 1220.6,537.1 1222.7,533.2 1219.3,535.9" fill="#1a70d0"/><polygon points="1273.5,491.0 1276.4,490.4 1277.4,487.7 1274.6,488.3" fill="#fbe100"/><polygon points="1237.0,533.6 1240.8,532.2 1243.2,528.8 1239.3,530.2" fill="#b0cf45"/><polygon points="1252.0,487.1 1255.2,485.0 1256.7,481.5 1253.5,483.6" fill="#4a90a0"/><polygon points="1243.8,533.6 1247.0,531.3 1249.1,527.8 1245.9,530.2" fill="#b0cf45"/><polygon points="1265.4,500.1 1268.9,497.1 1270.4,492.8 1267.0,495.8" fill="#1a70d0"/><polygon points="1243.8,508.9 1247.2,506.3 1249.6,502.6 1246.1,505.3" fill="#fbe100"/><polygon points="1260.3,514.8 1263.9,511.1 1265.0,506.1 1261.4,509.7" fill="#fbe100"/><polygon points="1208.1,489.1 1211.0,487.1 1212.2,483.7 1209.3,485.7" fill="#fbe100"/><polygon points="1180.7,496.5 1183.6,494.6 1184.9,491.3 1182.0,493.3" fill="#b0cf45"/><polygon points="1182.7,503.7 1183.9,502.0 1183.2,500.0 1182.0,501.7" fill="#fbe100"/><polygon points="1221.4,504.8 1222.6,502.6 1221.6,500.2 1220.4,502.5" fill="#e67300"/><polygon points="1197.0,487.0 1199.3,486.7 1200.2,484.6 1197.9,484.9" fill="#b0cf45"/><polygon points="1196.2,514.6 1200.3,514.6 1203.4,512.0 1199.4,512.0" fill="#fbe100"/><polygon points="1186.1,502.8 1187.9,504.8 1190.6,504.0 1188.7,502.0" fill="#b0cf45"/><polygon points="1204.1,491.3 1207.1,489.4 1207.9,485.9 1204.9,487.8" fill="#fbe100"/><polygon points="1204.5,500.9 1207.4,502.1 1210.3,500.9 1207.4,499.8" fill="#fbe100"/><polygon points="1218.2,510.8 1220.0,511.8 1221.4,510.4 1219.6,509.3" fill="#7fae76"/><polygon points="1191.1,472.0 1192.7,473.2 1194.7,472.9 1193.1,471.7" fill="#4a90a0"/><polygon points="1202.4,495.4 1204.8,495.6 1205.8,493.4 1203.3,493.1" fill="#b0cf45"/><polygon points="1221.8,479.2 1223.4,480.7 1224.9,479.2 1223.4,477.8" fill="#4a90a0"/><polygon points="1209.7,490.7 1211.9,492.6 1214.7,492.0 1212.5,490.2" fill="#4a90a0"/><polygon points="1191.5,501.8 1195.3,503.2 1199.3,502.7 1195.5,501.3" fill="#4a90a0"/><polygon points="1233.6,491.1 1235.3,492.1 1237.1,491.2 1235.4,490.2" fill="#b0cf45"/><polygon points="1208.6,477.6 1210.4,478.1 1211.8,476.7 1209.9,476.3" fill="#b0cf45"/><polygon points="1200.1,516.6 1201.5,513.7 1200.1,510.9 1198.7,513.7" fill="#e67300"/><polygon points="1228.5,475.8 1230.2,476.0 1231.5,474.7 1229.7,474.5" fill="#e67300"/><polygon points="1209.6,491.7 1211.1,488.5 1210.3,485.1 1208.7,488.3" fill="#e67300"/><polygon points="1186.3,493.1 1188.1,492.6 1188.2,490.7 1186.4,491.3" fill="#e67300"/><polygon points="1223.0,487.8 1224.7,485.6 1224.8,482.8 1223.0,485.0" fill="#4a90a0"/><polygon points="1210.4,508.3 1212.8,508.3 1213.9,506.1 1211.4,506.1" fill="#fbe100"/><polygon points="1189.7,498.6 1192.1,499.2 1193.5,497.1 1191.1,496.5" fill="#e67300"/><polygon points="1215.3,517.9 1217.4,515.1 1217.9,511.7 1215.9,514.5" fill="#e67300"/><polygon points="1247.2,488.8 1249.3,486.5 1250.0,483.5 1247.9,485.8" fill="#4a90a0"/><polygon points="1208.2,487.9 1212.0,488.5 1215.2,486.5 1211.5,485.9" fill="#fbe100"/><polygon points="1210.5,478.1 1212.6,478.0 1213.8,476.2 1211.7,476.3" fill="#fbe100"/><polygon points="1237.0,483.6 1240.1,482.8 1241.7,479.9 1238.5,480.7" fill="#7fae76"/><polygon points="1213.6,470.8 1215.9,472.1 1218.5,471.7 1216.2,470.4" fill="#e67300"/><polygon points="1185.5,501.5 1188.2,499.1 1188.9,495.5 1186.2,497.9" fill="#7fae76"/><polygon points="1230.4,497.2 1233.3,497.1 1235.8,495.4 1232.8,495.6" fill="#fbe100"/><polygon points="1208.2,478.3 1209.7,476.1 1209.6,473.5 1208.1,475.7" fill="#e67300"/><polygon points="1206.7,517.5 1209.8,516.3 1211.2,513.3 1208.1,514.5" fill="#b0cf45"/><polygon points="1220.8,484.1 1223.8,483.4 1224.9,480.7 1222.0,481.3" fill="#b0cf45"/><polygon points="1213.5,516.6 1215.0,513.9 1213.8,511.0 1212.2,513.7" fill="#b0cf45"/><polygon points="1232.1,485.0 1233.9,484.3 1234.0,482.4 1232.2,483.1" fill="#fbe100"/><polygon points="1206.2,478.5 1208.4,479.0 1209.2,477.0 1207.0,476.4" fill="#b0cf45"/><polygon points="1214.6,475.5 1216.2,475.1 1216.7,473.4 1215.0,473.9" fill="#7fae76"/><polygon points="1201.2,479.1 1203.1,479.6 1204.7,478.5 1202.8,478.0" fill="#4a90a0"/><polygon points="1306.4,498.0 1309.2,497.5 1311.1,495.4 1308.3,495.9" fill="#e67300"/><polygon points="1338.8,507.0 1341.3,506.9 1343.2,505.1 1340.6,505.3" fill="#fbe100"/><polygon points="1338.5,499.1 1340.2,500.2 1341.6,498.6 1339.9,497.6" fill="#e67300"/><polygon points="1337.7,496.9 1339.9,496.6 1341.2,494.7 1338.9,495.0" fill="#c90000"/><polygon points="1318.0,491.5 1322.0,491.8 1325.6,490.1 1321.6,489.8" fill="#dd3a00"/><polygon points="1296.6,510.2 1299.0,508.9 1300.1,506.4 1297.7,507.7" fill="#e67300"/><polygon points="1315.6,491.2 1317.8,490.2 1318.6,487.9 1316.4,489.0" fill="#dd3a00"/><polygon points="1346.5,505.0 1349.4,505.2 1351.8,503.5 1348.9,503.3" fill="#fbe100"/><polygon points="1310.3,493.6 1313.4,493.5 1315.2,491.0 1312.1,491.0" fill="#dd3a00"/><polygon points="1323.7,503.6 1326.3,501.2 1326.5,497.6 1323.9,500.0" fill="#dd3a00"/><polygon points="1301.1,501.3 1303.7,498.2 1304.2,494.1 1301.6,497.2" fill="#f0a800"/><polygon points="1327.5,506.5 1328.6,503.9 1328.2,501.1 1327.1,503.7" fill="#e67300"/><polygon points="1323.7,495.2 1327.0,495.7 1330.1,494.6 1326.8,494.1" fill="#c90000"/><polygon points="1295.1,509.0 1298.6,507.1 1300.3,503.4 1296.8,505.3" fill="#f0a800"/><polygon points="1337.1,510.6 1340.7,511.3 1344.1,509.9 1340.5,509.2" fill="#c90000"/><polygon points="1331.2,498.4 1333.4,494.8 1332.9,490.6 1330.7,494.2" fill="#f0a800"/><polygon points="1327.5,500.7 1329.3,498.5 1328.7,495.7 1326.9,497.9" fill="#f0a800"/><polygon points="1337.5,492.0 1339.6,490.7 1339.7,488.2 1337.5,489.5" fill="#fbe100"/><polygon points="1328.1,493.6 1331.6,492.9 1333.9,490.2 1330.4,490.9" fill="#c90000"/><polygon points="1323.8,497.3 1325.6,495.3 1324.9,492.8 1323.1,494.7" fill="#e67300"/><polygon points="1330.5,502.3 1334.1,501.6 1336.5,498.9 1332.9,499.6" fill="#f0a800"/><polygon points="1346.3,512.2 1350.4,512.1 1353.7,509.4 1349.5,509.6" fill="#fbe100"/><polygon points="1348.3,511.4 1351.5,510.1 1353.5,507.4 1350.4,508.7" fill="#c90000"/><polygon points="1332.2,508.5 1335.2,508.1 1337.3,506.1 1334.4,506.4" fill="#fbe100"/><polygon points="1350.0,512.7 1353.2,510.5 1354.7,506.9 1351.5,509.1" fill="#e67300"/><polygon points="1315.2,490.8 1317.2,490.1 1317.6,488.0 1315.5,488.6" fill="#dd3a00"/><polygon points="1289.9,517.3 1293.1,517.8 1295.7,515.9 1292.5,515.5" fill="#dd3a00"/><polygon points="1337.5,495.0 1340.1,493.1 1340.4,489.9 1337.8,491.8" fill="#f0a800"/><polygon points="1335.7,499.9 1339.4,500.1 1342.7,498.7 1339.1,498.4" fill="#e67300"/><polygon points="1287.4,511.7 1290.4,511.1 1292.1,508.6 1289.1,509.2" fill="#e67300"/><polygon points="1146.3,587.6 1148.8,584.5 1149.2,580.6 1146.7,583.7" fill="#fbe100"/><polygon points="1145.1,583.4 1147.3,581.8 1148.1,579.2 1145.9,580.8" fill="#c90000"/><polygon points="1151.2,572.7 1153.0,570.8 1152.9,568.1 1151.0,570.0" fill="#f0a800"/><polygon points="1149.4,577.1 1151.2,576.5 1151.7,574.7 1149.9,575.3" fill="#f0a800"/><polygon points="1133.4,599.8 1135.1,599.2 1135.8,597.6 1134.1,598.1" fill="#c90000"/><polygon points="1154.7,568.1 1156.5,567.4 1156.5,565.5 1154.7,566.2" fill="#c90000"/><polygon points="1142.8,588.9 1146.3,587.2 1148.4,583.9 1144.8,585.6" fill="#dd3a00"/><polygon points="1138.1,602.2 1141.3,599.9 1143.3,596.5 1140.1,598.8" fill="#c90000"/><polygon points="1143.3,584.6 1145.7,583.5 1146.6,580.9 1144.2,582.1" fill="#f0a800"/><polygon points="1139.8,592.7 1143.1,590.5 1144.4,586.8 1141.2,589.0" fill="#fbe100"/><polygon points="1142.1,588.7 1143.3,587.5 1143.5,585.8 1142.2,587.0" fill="#c90000"/><polygon points="1157.9,572.0 1159.8,569.3 1160.3,566.0 1158.4,568.7" fill="#dd3a00"/><polygon points="1144.8,577.2 1147.2,576.2 1148.5,573.9 1146.1,574.9" fill="#fbe100"/><polygon points="1145.3,583.6 1148.1,581.3 1149.1,577.8 1146.3,580.1" fill="#c90000"/><polygon points="1130.2,600.7 1132.9,597.8 1133.9,593.8 1131.1,596.8" fill="#dd3a00"/><polygon points="1134.6,596.0 1137.8,593.4 1139.2,589.5 1136.1,592.2" fill="#fbe100"/><polygon points="1144.0,585.5 1147.1,583.4 1148.8,580.1 1145.7,582.2" fill="#f0a800"/><polygon points="1142.8,586.8 1144.4,585.5 1144.7,583.4 1143.1,584.7" fill="#f0a800"/><polygon points="1159.6,570.7 1161.3,569.6 1161.9,567.6 1160.2,568.8" fill="#c90000"/><polygon points="1150.4,579.0 1153.6,577.0 1155.1,573.6 1151.9,575.6" fill="#dd3a00"/><polygon points="1151.5,577.0 1153.1,575.9 1153.5,573.9 1151.9,575.0" fill="#dd3a00"/><polygon points="1137.7,598.2 1140.7,596.6 1142.6,593.7 1139.5,595.3" fill="#fbe100"/><polygon points="1130.4,600.0 1132.7,596.9 1133.3,593.2 1131.0,596.3" fill="#fbe100"/><polygon points="1145.7,578.8 1148.2,576.9 1148.6,573.8 1146.2,575.7" fill="#c90000"/><polygon points="1141.0,596.8 1142.9,596.1 1143.8,594.4 1141.9,595.1" fill="#fbe100"/><polygon points="417.0,445.3 424.3,440.0 429.1,432.3 421.7,437.6" fill="#4a90a0"/><polygon points="492.3,448.9 497.6,441.4 498.7,432.3 493.5,439.8" fill="#b0cf45"/><polygon points="484.9,457.6 493.4,452.6 497.5,443.6 489.0,448.7" fill="#7fae76"/><polygon points="517.8,440.7 524.1,434.4 526.5,425.9 520.3,432.1" fill="#4a90a0"/><polygon points="490.7,483.3 495.4,475.3 494.8,466.0 490.1,474.0" fill="#7fae76"/><polygon points="471.2,460.9 477.1,452.9 479.1,443.2 473.2,451.2" fill="#b0cf45"/><polygon points="501.6,473.1 506.6,465.3 506.7,455.9 501.7,463.8" fill="#7fae76"/><polygon points="460.7,449.1 464.0,446.3 464.1,441.8 460.8,444.7" fill="#4a90a0"/><polygon points="488.1,429.8 492.6,424.6 493.8,417.8 489.3,423.0" fill="#4a90a0"/><polygon points="465.9,474.1 473.8,468.5 478.7,460.2 470.8,465.9" fill="#b0cf45"/><polygon points="434.5,453.5 438.5,445.5 438.9,436.6 434.9,444.6" fill="#7fae76"/><polygon points="419.5,439.0 424.7,431.3 427.2,422.2 421.9,430.0" fill="#b0cf45"/><polygon points="462.4,479.4 466.2,476.1 465.9,471.0 462.0,474.3" fill="#b0cf45"/><polygon points="510.1,464.7 515.1,461.2 515.1,455.1 510.1,458.6" fill="#fbe100"/><polygon points="446.7,475.1 450.8,472.4 451.4,467.5 447.3,470.2" fill="#4a90a0"/><polygon points="446.4,465.1 451.3,458.3 453.2,450.2 448.4,457.0" fill="#7fae76"/><polygon points="437.2,431.4 440.7,427.3 440.1,422.0 436.5,426.0" fill="#fbe100"/><polygon points="422.5,438.3 427.5,432.3 427.8,424.6 422.9,430.5" fill="#b0cf45"/><polygon points="481.4,445.2 485.8,440.0 486.2,433.2 481.8,438.4" fill="#7fae76"/><polygon points="451.2,481.6 456.9,473.4 457.2,463.4 451.5,471.6" fill="#4a90a0"/><polygon points="477.1,430.9 484.0,426.4 487.3,418.7 480.3,423.3" fill="#b0cf45"/><polygon points="433.4,477.1 438.8,468.8 439.4,458.9 433.9,467.2" fill="#4a90a0"/><polygon points="470.1,430.1 474.5,425.5 474.5,419.1 470.0,423.7" fill="#4a90a0"/><polygon points="495.6,489.0 500.2,485.8 499.4,480.3 494.8,483.4" fill="#b0cf45"/><polygon points="444.9,481.1 448.3,474.1 448.6,466.2 445.2,473.3" fill="#b0cf45"/><polygon points="475.2,448.6 482.3,441.3 485.3,431.5 478.2,438.9" fill="#7fae76"/><polygon points="495.4,428.5 502.1,425.0 504.9,418.1 498.3,421.6" fill="#fbe100"/><polygon points="487.6,429.0 492.1,425.6 491.4,420.1 486.9,423.5" fill="#4a90a0"/><polygon points="515.2,432.6 520.7,425.2 523.2,416.2 517.7,423.7" fill="#b0cf45"/><polygon points="529.2,471.9 533.9,465.6 534.8,457.9 530.2,464.1" fill="#7fae76"/><polygon points="411.9,432.7 419.5,427.5 424.0,419.4 416.3,424.6" fill="#b0cf45"/><polygon points="426.1,439.2 433.5,432.7 436.7,423.4 429.3,429.8" fill="#b0cf45"/><polygon points="479.3,453.9 484.7,449.0 487.5,442.3 482.1,447.2" fill="#4a90a0"/><polygon points="499.3,476.9 503.7,471.6 503.7,464.7 499.4,470.0" fill="#4a90a0"/><polygon points="475.7,426.2 479.5,423.7 480.4,419.2 476.6,421.8" fill="#b0cf45"/><polygon points="490.9,443.9 495.7,437.9 497.4,430.3 492.5,436.3" fill="#fbe100"/><polygon points="424.1,476.1 429.8,468.9 432.6,460.1 426.9,467.3" fill="#fbe100"/><polygon points="505.3,468.7 511.9,463.1 514.4,454.9 507.9,460.5" fill="#fbe100"/><polygon points="438.5,462.2 442.7,457.3 443.9,451.0 439.8,455.9" fill="#b0cf45"/><polygon points="420.8,462.2 426.4,458.8 428.2,452.4 422.5,455.8" fill="#b0cf45"/><polygon points="428.4,440.5 432.8,437.7 434.0,432.6 429.6,435.4" fill="#fbe100"/><polygon points="461.1,471.2 468.6,465.1 472.4,456.3 465.0,462.4" fill="#b0cf45"/><polygon points="498.2,448.1 504.2,441.7 506.4,433.3 500.4,439.7" fill="#fbe100"/><polygon points="432.9,458.7 439.5,453.1 443.5,445.5 436.9,451.0" fill="#b0cf45"/><polygon points="436.0,469.9 441.4,464.7 442.4,457.4 437.1,462.5" fill="#4a90a0"/><polygon points="509.6,540.0 513.0,535.4 512.1,529.7 508.7,534.3" fill="#7fae76"/><polygon points="487.6,495.2 492.5,489.1 494.3,481.5 489.3,487.6" fill="#4a90a0"/><polygon points="495.3,508.1 498.8,506.9 499.2,503.3 495.8,504.5" fill="#fbe100"/><polygon points="445.7,488.2 449.3,486.6 448.8,482.7 445.2,484.3" fill="#fbe100"/><polygon points="511.2,485.2 515.6,480.1 515.8,473.3 511.3,478.4" fill="#4a90a0"/><polygon points="483.8,541.0 489.2,537.5 490.7,531.2 485.3,534.7" fill="#b0cf45"/><polygon points="481.1,518.0 485.3,513.5 485.7,507.5 481.6,512.0" fill="#fbe100"/><polygon points="487.1,540.2 492.2,535.5 495.2,529.1 490.0,533.9" fill="#b0cf45"/><polygon points="479.5,498.7 483.3,496.8 483.9,492.4 480.0,494.4" fill="#b0cf45"/><polygon points="527.8,513.4 532.0,510.4 531.7,505.3 527.6,508.3" fill="#4a90a0"/><polygon points="457.5,496.3 460.3,493.1 460.0,488.8 457.2,492.0" fill="#7fae76"/><polygon points="502.1,521.1 508.4,516.7 510.9,509.4 504.5,513.8" fill="#7fae76"/><polygon points="527.4,506.1 532.3,500.3 532.8,492.7 527.9,498.5" fill="#b0cf45"/><polygon points="477.6,487.8 482.9,483.5 486.1,477.5 480.8,481.8" fill="#4a90a0"/><polygon points="472.3,539.9 477.8,535.5 480.7,529.1 475.2,533.5" fill="#fbe100"/><polygon points="460.4,499.5 463.6,498.0 464.6,494.6 461.3,496.1" fill="#fbe100"/><polygon points="473.8,485.5 477.7,483.8 477.7,479.4 473.7,481.2" fill="#fbe100"/><polygon points="448.1,488.5 451.7,486.7 451.6,482.6 447.9,484.4" fill="#4a90a0"/><polygon points="515.3,539.5 518.8,536.6 519.2,532.0 515.7,535.0" fill="#4a90a0"/><polygon points="468.9,532.9 474.7,527.5 477.4,520.0 471.5,525.4" fill="#fbe100"/><polygon points="472.3,508.8 476.6,506.0 477.7,501.1 473.4,503.9" fill="#b0cf45"/><polygon points="512.5,519.9 517.1,515.5 519.3,509.6 514.7,513.9" fill="#b0cf45"/><polygon points="461.4,495.4 464.8,492.4 463.6,488.0 460.1,491.0" fill="#4a90a0"/><polygon points="471.7,524.7 475.8,522.8 476.6,518.3 472.5,520.3" fill="#b0cf45"/><polygon points="497.1,519.6 500.6,517.7 500.6,513.8 497.1,515.6" fill="#fbe100"/></g><polygon points="1058.0,263.0 1062.0,260.0 1068.0,258.5 1074.5,255.5 1076.0,258.0 1071.0,262.5 1064.0,265.5 1059.0,267.5" fill="#c90000"/><polygon points="1028.0,289.0 1033.0,285.0 1034.5,287.0 1032.0,292.0 1029.0,293.0" fill="#c90000"/><polygon points="1024.0,291.0 1029.0,289.5 1029.0,293.0 1025.0,294.0" fill="#dd3a00"/><polygon points="400.0,629.5 408.0,628.0 416.0,629.0 424.0,630.5 416.0,632.5 406.0,632.5" fill="#1a70d0"/><polygon points="409.0,629.0 415.0,628.5 415.0,631.0 409.0,631.5" fill="#e6a000"/><polygon points="418.5,649.0 422.0,649.5 423.0,653.5 419.5,653.0" fill="#1a70d0"/><polygon points="437.0,643.0 442.0,645.0 444.0,650.0 440.5,649.0" fill="#1a70d0"/><polygon points="438.5,655.0 441.0,656.0 446.0,663.0 442.5,662.5" fill="#1a70d0"/><polygon points="430.0,642.0 432.0,642.0 432.0,644.5 430.0,644.5" fill="#1a70d0"/><polygon points="1240.0,868.0 1244.0,863.0 1249.0,856.0 1250.5,857.0 1246.0,865.0 1241.5,870.0" fill="#c90000"/><polygon points="1229.0,875.0 1234.0,872.5 1238.0,870.5 1238.5,872.5 1234.0,875.0 1229.5,877.0" fill="#c90000"/><polygon points="1215.0,879.5 1220.0,877.0 1226.0,875.0 1227.0,877.0 1221.0,880.0 1215.5,881.5" fill="#c90000"/><polygon points="1206.0,879.5 1209.5,878.5 1210.0,880.5 1206.5,881.5" fill="#c90000"/><polygon points="1190.0,876.5 1193.0,876.5 1193.0,879.5 1190.0,879.5" fill="#c90000"/><polygon points="884.0,808.0 887.0,806.0 891.0,822.0 893.0,838.0 890.0,840.0 887.0,828.0" fill="#c90000"/><polygon points="1063.0,733.0 1066.0,732.0 1067.0,738.0 1064.0,744.0 1059.0,749.0 1057.0,747.0 1062.0,741.0" fill="#c90000"/><polygon points="1063.0,728.0 1075.0,727.5 1085.0,728.5 1075.0,730.0" fill="#c90000"/><polygon points="1141.0,745.5 1148.0,745.5 1154.0,742.0 1150.0,746.5 1143.0,748.0" fill="#c90000"/><polygon points="1205.0,822.0 1208.0,829.0 1210.0,834.0 1207.5,832.0 1204.0,825.0" fill="#c90000"/><polygon points="1236.0,768.0 1239.0,770.0 1242.0,780.0 1239.5,779.0" fill="#c90000"/><polygon points="1010.0,756.0 1020.0,760.0 1028.0,760.0 1019.0,762.5 1010.0,759.0" fill="#c90000"/><polygon points="1022.0,594.0 1024.0,594.0 1024.0,596.0 1022.0,596.0" fill="#c90000"/><polygon points="1487.0,363.0 1492.0,360.5 1497.0,359.5 1496.0,363.0 1489.0,366.0" fill="#fbe100"/><polygon points="1496.0,360.0 1502.0,357.5 1502.0,361.0 1497.0,363.5" fill="#dd3a00"/><polygon points="1514.0,354.5 1520.0,352.0 1521.0,353.5 1515.0,356.5" fill="#c90000"/><polygon points="1485.0,370.0 1489.0,369.0 1489.5,372.0 1486.0,373.0" fill="#c90000"/><polygon points="1172.0,311.5 1179.0,311.5 1179.0,318.0 1172.0,316.0" fill="#fbe100"/><g fill="none" stroke="#000" stroke-width="3.7" stroke-linejoin="round" stroke-linecap="round"><polygon points="351.2,235.5 932.5,235.5 932.5,226.2 941.8,226.2 943.8,241.2 952.5,243.8 962.5,247.0 972.5,244.5 982.5,246.2 990.0,252.0 1000.0,252.5 1010.0,258.8 1022.5,255.0 1032.5,258.8 1045.0,260.0 1053.8,262.0 1040.0,266.2 1027.5,271.2 1015.0,280.0 1002.5,290.0 995.0,295.0 1000.0,295.0 1015.0,292.5 1021.2,291.2 1025.0,298.8 1035.0,300.0 1045.0,293.8 1057.5,290.0 1067.5,283.8 1075.0,278.8 1087.5,276.2 1090.0,277.5 1082.5,281.2 1075.0,288.8 1076.2,293.8 1085.0,291.2 1092.5,293.8 1100.0,301.2 1110.0,302.0 1120.0,297.5 1130.0,296.2 1147.5,293.8 1150.0,300.0 1162.5,301.2 1165.0,310.0 1171.2,313.8 1160.0,313.8 1150.0,315.0 1140.0,312.5 1130.0,315.0 1120.0,317.5 1113.8,320.0 1105.0,320.0 1102.5,327.5 1096.2,338.8 1089.0,348.0 1083.0,354.0 1086.5,356.0 1093.5,349.0 1100.5,340.0 1108.0,327.0 1111.0,329.0 1104.0,342.0 1098.0,352.0 1092.5,357.5 1090.0,372.5 1086.2,387.5 1087.5,402.5 1091.2,415.0 1095.0,426.2 1102.5,428.8 1110.0,425.0 1117.5,415.0 1122.5,402.5 1121.2,390.0 1117.5,380.0 1116.2,367.5 1120.0,357.5 1121.2,347.5 1127.5,342.5 1136.2,336.2 1143.8,330.0 1146.2,323.8 1150.0,318.8 1160.0,320.0 1170.0,325.0 1178.8,331.2 1183.8,338.8 1181.2,347.5 1183.8,355.0 1178.8,363.8 1172.5,368.8 1171.2,375.0 1175.0,377.5 1182.5,370.0 1190.0,365.0 1197.5,368.8 1200.0,380.0 1201.2,392.5 1200.0,400.0 1193.8,403.8 1188.8,412.5 1185.0,421.2 1180.0,426.2 1191.2,433.8 1200.0,435.0 1212.5,432.5 1222.5,426.2 1240.0,421.2 1257.5,413.8 1270.0,405.0 1276.2,398.8 1272.5,390.0 1277.5,385.0 1290.0,383.8 1302.5,387.5 1317.5,385.0 1330.0,378.8 1332.5,370.0 1328.8,365.0 1337.5,360.0 1343.8,351.2 1352.5,345.0 1361.2,340.5 1433.8,340.5 1435.0,333.8 1445.0,333.8 1447.5,327.5 1456.2,320.0 1457.5,308.8 1463.8,297.5 1472.5,285.0 1481.2,276.2 1485.0,281.2 1500.0,278.0 1510.0,286.2 1510.5,320.0 1517.5,326.2 1518.8,335.0 1525.0,340.0 1526.2,346.2 1515.0,352.5 1502.5,356.2 1490.0,355.0 1487.5,360.0 1477.5,367.5 1467.5,373.8 1460.0,376.2 1453.8,383.8 1447.5,393.8 1446.2,400.0 1448.8,403.8 1442.5,411.2 1446.2,416.2 1452.5,422.5 1453.8,430.0 1445.0,435.0 1437.5,432.5 1433.8,435.0 1425.0,436.2 1415.0,437.5 1400.0,438.8 1388.8,442.5 1383.8,446.2 1397.5,446.2 1415.0,442.5 1425.0,445.0 1415.0,450.0 1400.0,455.0 1385.0,457.5 1375.0,458.8 1381.0,462.8 1379.4,476.0 1374.7,484.0 1368.5,491.8 1363.8,498.0 1359.8,500.4 1352.8,493.4 1349.6,487.0 1350.4,480.0 1351.2,491.8 1355.9,502.8 1358.3,509.0 1357.5,518.5 1352.8,527.9 1346.5,535.7 1341.8,543.6 1338.6,549.8 1338.8,553.8 1341.2,563.8 1343.0,577.5 1346.0,588.0 1345.0,594.0 1338.0,600.0 1330.0,608.8 1322.5,613.8 1310.0,618.8 1302.5,625.0 1296.2,633.8 1285.0,635.0 1275.0,641.2 1267.5,651.2 1255.0,662.5 1245.0,671.5 1237.5,679.0 1231.2,685.2 1227.5,694.0 1221.2,706.5 1222.0,719.0 1225.0,736.5 1230.0,751.5 1235.0,767.8 1238.8,779.0 1243.8,794.0 1250.0,811.5 1252.5,819.0 1251.2,831.5 1250.0,847.8 1246.2,854.0 1243.8,861.5 1235.0,864.0 1230.0,862.8 1227.5,855.2 1222.5,847.8 1216.2,844.0 1215.0,835.2 1210.0,827.8 1206.2,819.0 1202.5,814.0 1197.5,804.0 1195.0,794.0 1193.8,786.5 1196.2,776.5 1197.0,766.5 1193.8,759.0 1187.5,756.5 1181.2,749.0 1173.8,739.0 1167.5,734.0 1160.0,736.5 1150.0,741.5 1140.0,744.0 1137.5,735.2 1130.0,729.0 1120.0,724.0 1112.5,722.5 1097.5,722.5 1090.0,724.0 1083.8,718.0 1080.0,724.5 1065.0,725.0 1055.0,731.2 1058.8,737.5 1055.0,743.8 1050.0,750.0 1057.5,762.5 1062.5,760.0 1052.5,753.8 1042.5,750.0 1037.5,757.5 1030.0,756.2 1022.5,758.8 1015.0,752.5 1007.5,743.8 997.5,742.5 995.0,747.5 985.0,747.0 975.0,741.2 962.5,742.0 950.0,746.2 940.0,743.8 936.2,753.8 930.0,762.5 915.0,772.5 905.0,772.5 898.8,780.0 890.0,786.2 882.5,793.8 885.0,807.5 883.8,818.8 887.5,830.0 891.2,842.0 886.2,844.5 880.0,841.2 868.8,840.0 860.0,835.0 851.2,832.0 847.5,822.5 842.5,812.5 841.2,800.0 832.5,790.0 825.0,778.8 817.5,761.2 806.2,747.5 800.0,742.5 782.5,740.5 775.0,743.8 770.0,757.5 763.8,763.0 756.2,759.5 745.0,753.8 736.2,745.0 732.5,735.0 730.0,725.0 725.0,718.8 715.0,711.2 702.5,701.2 697.5,693.8 692.5,690.0 658.8,690.0 658.8,700.8 597.5,700.8 519.5,671.2 520.0,665.0 471.2,669.5 468.8,665.0 466.2,657.5 461.2,647.5 453.8,640.0 445.0,637.5 442.5,632.5 435.0,630.0 427.5,623.8 417.5,619.5 405.0,618.8 397.5,615.0 396.2,598.8 390.0,591.2 382.5,582.5 375.0,572.5 369.5,565.0 372.5,556.2 366.2,553.8 363.8,545.0 358.8,540.0 360.0,532.5 352.0,528.0 347.5,525.0 346.2,518.8 341.2,511.2 332.5,500.0 331.2,490.0 328.8,477.5 323.8,468.8 318.0,463.8 318.0,456.2 322.5,447.5 323.8,437.5 322.0,425.0 318.8,419.5 317.0,405.0 314.5,397.5 316.2,392.5 320.0,380.0 323.8,365.0 325.0,345.0 327.0,325.0 326.2,307.5 325.0,297.5 327.5,290.0 325.0,287.5 321.2,278.8 317.5,267.5 312.0,258.8 311.2,251.2 325.0,255.5 342.5,257.5 350.0,262.0 346.0,275.0 350.0,285.0 358.0,282.0 360.0,262.0 358.0,248.0 351.2,240.0"/><polyline points="326.2,307.5 332.5,307.5 341.2,310.0 347.5,312.5 350.0,320.0 353.8,324.5 361.2,326.2 372.5,323.0 382.5,323.0 387.5,324.2 400.0,321.8 412.5,318.0 430.0,314.5 450.0,313.0 473.0,313.0"/><polyline points="473.0,235.5 473.0,313.0 476.2,316.2 483.8,321.2 484.5,326.2 481.2,332.5 478.8,341.2 472.5,347.5 468.8,355.0 470.0,360.0 475.0,362.5 473.8,370.0 473.0,375.0 473.0,418.8"/><polyline points="318.8,419.0 598.8,418.8"/><polyline points="409.2,419.0 409.2,498.8 522.5,602.5"/><polyline points="535.5,418.8 535.5,575.0 531.2,577.5 525.0,575.0 520.8,576.2 521.2,587.5 522.5,602.5"/><polyline points="522.5,602.5 525.0,610.0 530.0,617.5 533.8,622.5 527.5,628.8 525.0,637.5 521.2,647.5 522.5,655.0 526.2,658.8 520.0,665.0 519.5,671.2"/><polyline points="535.5,551.2 945.5,551.2"/><polyline points="640.8,445.5 640.8,700.8"/><polyline points="493.8,235.5 493.8,260.0 498.8,270.0 501.2,276.2 510.0,283.8 520.0,295.0 530.0,297.5 530.0,307.5 526.2,315.0 525.0,325.0 530.0,328.8 537.5,322.5 541.2,328.8 545.0,337.5 550.0,345.0 556.2,348.8 557.5,355.0 570.0,353.8 582.5,352.5 592.5,347.5 597.5,351.2 598.8,355.0"/><polyline points="598.8,340.8 746.2,340.8"/><polyline points="598.8,340.8 598.8,445.5"/><polyline points="598.8,445.5 787.5,445.5"/><polyline points="746.2,235.5 746.2,445.5"/><polyline points="746.2,316.2 903.8,316.2"/><polyline points="746.2,393.8 862.5,393.8 872.5,399.5 880.0,397.0 890.0,398.0 900.0,402.5 905.0,406.2"/><polyline points="787.5,445.5 787.5,551.2"/><polyline points="787.5,472.8 928.8,472.8"/><polyline points="767.0,551.2 767.5,684.5"/><polyline points="767.0,565.0 831.2,565.0 831.2,615.0 837.5,620.0 845.0,618.8 850.0,625.0 860.0,627.5 870.0,627.5 875.0,633.8 885.0,632.5 890.0,637.5 896.2,632.5 907.5,638.8 917.5,633.8 932.5,631.2 940.0,637.5 947.5,640.0"/><polyline points="692.5,690.0 692.5,684.5 767.5,684.5"/><polyline points="891.2,235.5 892.5,257.5 897.5,272.5 900.0,292.5 903.8,307.5 903.8,316.2 898.0,322.5 901.2,328.8 907.0,332.5 907.0,380.0 902.5,382.5 906.2,390.0 902.5,400.0 905.0,406.2"/><polyline points="905.0,406.2 908.8,415.0 911.2,420.0 915.0,432.5 918.8,447.5 921.2,457.0 926.2,467.5 933.8,476.2 938.8,478.8 936.2,485.0 941.2,492.5 945.0,495.0 945.5,551.2 946.2,567.5 948.8,595.0 947.5,640.0 956.2,642.5 956.2,682.5 961.2,690.0 963.8,697.5 967.5,707.5 963.8,720.0 965.0,730.0 960.0,741.2"/><polyline points="907.0,380.0 1016.2,380.0"/><polyline points="921.2,457.0 1007.5,457.0 1011.2,461.2"/><polyline points="946.2,565.0 1040.0,565.0 1040.0,571.2 1033.8,578.8 1047.5,578.8"/><polyline points="957.5,657.0 1017.0,657.0"/><polyline points="995.0,295.0 993.8,311.2 985.0,316.2 981.2,323.8 985.0,330.0 983.8,345.0 988.8,350.0 1000.0,356.2 1007.5,363.8 1015.0,370.0 1016.2,380.0"/><polyline points="1016.2,380.0 1020.0,386.2 1017.5,395.0 1022.5,401.2 1031.2,406.2 1035.0,413.8 1040.0,420.0 1037.5,427.5 1030.0,432.5 1020.0,435.0 1018.8,443.8 1021.2,450.0 1011.2,461.2 1011.2,472.5 1016.2,481.2 1023.8,490.0 1027.5,500.0 1036.2,503.8 1037.5,510.0 1033.8,516.2 1040.0,522.5 1047.5,530.0 1052.5,536.2 1055.0,545.0 1058.8,551.2 1060.0,560.0 1052.5,563.8 1047.5,578.8 1042.5,587.5 1038.8,595.0 1037.5,603.8 1030.0,612.5 1023.8,625.0 1018.8,632.5 1016.2,640.0 1018.8,647.5 1017.0,657.0 1018.8,665.0 1022.5,675.0 1017.5,680.0 1015.0,687.5 1010.0,697.5 1008.0,710.0 1047.5,710.0 1046.2,717.5 1050.0,725.0 1052.5,730.0"/><polyline points="1030.0,405.8 1087.5,405.8"/><polyline points="1035.0,300.0 1040.0,305.0 1060.0,310.0 1080.0,315.0 1085.0,325.0 1090.0,335.0 1089.0,347.0"/><polyline points="1094.2,426.0 1094.2,492.5 1095.0,505.0 1088.8,515.0 1085.0,522.5 1081.2,530.0"/><polyline points="1058.8,551.2 1065.0,546.2 1073.8,548.8 1075.0,541.2 1081.2,537.5 1081.2,530.0 1090.0,527.5 1100.0,528.8 1107.5,525.0 1115.0,527.5 1120.0,521.2 1127.5,523.8 1132.5,517.5 1137.5,507.5 1147.5,505.0 1152.5,500.0 1153.8,495.0 1160.0,496.2 1165.0,503.8 1175.0,507.5 1180.0,508.8 1190.0,507.5 1197.5,516.2 1200.0,510.0 1207.5,502.5 1212.5,495.0 1222.5,487.5 1232.5,480.0 1237.5,470.0 1240.0,455.0 1241.5,440.0"/><polyline points="1095.0,426.2 1152.5,425.0 1152.5,426.2 1180.0,426.2"/><polyline points="1152.5,425.0 1152.5,500.0"/><polyline points="1241.5,421.0 1241.5,479.5 1343.8,479.5"/><polyline points="1257.5,413.8 1257.5,419.5 1350.0,419.2 1356.2,425.0 1358.8,435.0 1365.0,438.8 1382.5,445.5"/><polyline points="1365.0,438.8 1356.2,446.2 1353.8,455.0 1360.0,462.5 1365.0,467.5 1359.0,473.7 1350.0,478.5 1345.0,479.5"/><polyline points="1345.0,477.7 1342.6,481.0 1344.1,513.7 1357.5,514.5"/><polyline points="1197.5,516.2 1198.8,525.0 1203.8,532.5 1210.0,538.8"/><polyline points="1210.0,538.8 1217.5,545.0 1227.5,545.0 1237.5,542.5 1245.0,537.5 1252.5,527.5 1260.0,515.0 1261.2,510.0 1267.5,513.8 1275.0,505.0 1283.8,497.5 1287.5,487.5 1293.8,491.2 1300.0,495.0 1302.5,490.0 1297.5,482.5"/><polyline points="1263.8,479.5 1263.8,493.8 1272.5,487.5 1282.5,481.2 1290.0,483.8 1297.5,482.5"/><polyline points="1297.5,482.5 1305.0,495.0 1315.0,500.0 1317.5,507.5 1310.0,515.0 1322.5,517.5 1330.0,525.0"/><polyline points="1210.0,538.8 1200.0,547.5 1187.5,557.5 1175.0,562.5"/><polyline points="1060.0,564.2 1082.5,564.2 1083.8,561.5 1180.0,562.2 1217.5,563.0 1338.8,563.8"/><polyline points="1217.5,563.0 1216.2,568.8 1205.0,575.0 1192.5,582.5 1177.5,590.0 1165.0,597.5 1161.2,604.5"/><polyline points="1037.5,604.8 1182.5,605.5"/><polyline points="1081.2,605.0 1073.8,685.0 1076.2,725.0"/><polyline points="1134.0,605.0 1142.5,655.0 1148.8,670.0 1149.5,677.5 1145.0,685.0 1145.0,701.5 1147.5,710.2 1150.0,717.8"/><polyline points="1097.5,722.5 1093.8,717.5 1092.5,709.5 1146.0,709.5"/><polyline points="1150.0,717.8 1206.2,722.2 1207.5,726.5 1211.2,715.2 1222.0,719.0"/><polyline points="1182.5,606.0 1200.0,600.0 1232.5,600.0 1237.5,608.0 1260.0,608.8 1282.5,633.8 1296.2,633.8"/><polyline points="1182.5,606.0 1184.0,611.0 1192.5,617.5 1200.0,630.0 1210.0,642.5 1220.0,655.0 1225.0,667.5 1228.8,674.0 1230.0,681.5 1231.2,685.2"/><polyline points="1392.5,340.5 1390.0,360.0 1391.2,377.5 1395.0,385.0 1395.0,401.2 1390.0,420.0 1388.2,440.0 1383.8,446.2"/><polyline points="1433.8,340.5 1430.0,350.0 1421.2,358.8 1417.5,370.0 1412.5,382.5 1410.0,401.0"/><polyline points="1440.0,333.8 1442.5,377.5 1446.2,393.8"/><polyline points="1395.0,401.2 1437.5,401.2 1446.2,396.2"/><polyline points="1390.0,419.2 1436.2,419.2 1436.0,430.0"/><polyline points="1425.0,419.5 1425.0,436.2"/><polyline points="351.8,236.2 353.0,243.8 347.5,247.0 356.2,248.0 360.0,251.2 361.2,262.5 356.2,267.5 351.2,272.5 348.8,281.2 350.0,285.0 357.5,280.0 359.5,271.2" stroke-width="7"/><polyline points="353.8,252.5 358.8,257.5 356.2,265.0 351.2,275.0" stroke-width="8"/><polyline points="325.0,287.5 328.0,290.5 326.0,296.2 327.0,304.5" stroke-width="6"/><polyline points="358.0,522.0 360.0,527.5 359.0,533.8 362.5,538.0 367.0,539.5" stroke-width="7"/><polyline points="356.5,523.0 365.5,524.0" stroke-width="5"/><polyline points="938.0,745.0 942.0,752.0 936.0,757.0" stroke-width="5"/><polyline points="883.0,796.0 888.0,790.0 884.0,805.0" stroke-width="5"/><polyline points="900.0,776.0 908.0,772.0 915.0,772.0" stroke-width="5"/><polyline points="1035.0,733.0 1042.0,727.0 1052.0,733.0 1056.0,738.0 1046.0,738.0 1036.0,735.0" stroke-width="4.5"/><polyline points="1052.0,740.0 1058.0,752.0 1063.0,760.0 1056.0,762.0" stroke-width="5"/><polyline points="997.0,744.0 1003.0,742.0 1010.0,747.0" stroke-width="5"/><polyline points="1020.0,757.0 1030.0,755.0 1040.0,756.0" stroke-width="5"/><polyline points="1083.5,717.0 1085.0,724.0 1088.0,727.0" stroke-width="4.5"/><polyline points="1194.0,790.0 1198.0,796.0 1202.0,792.0" stroke-width="7"/><polyline points="1204.0,817.0 1208.0,823.0" stroke-width="6"/><polyline points="1229.0,858.0 1234.0,863.0" stroke-width="6"/><polyline points="1207.0,724.0 1209.0,727.0" stroke-width="5"/><polyline points="1222.0,705.0 1226.0,696.0 1230.0,688.0 1236.0,680.0 1243.0,673.0" stroke-width="4.5"/><polyline points="1337.6,484.3 1329.0,490.0 1325.2,500.5 1327.1,510.0 1325.2,517.6 1328.1,527.1 1331.0,536.7 1329.0,546.2 1328.1,553.8 1336.7,553.8" stroke-width="6.5"/><polyline points="1339.9,481.4 1335.7,492.9 1334.8,504.3 1337.6,513.8 1341.4,521.4 1344.3,527.1 1340.5,536.7 1337.6,546.2 1338.6,551.0" stroke-width="5.5"/><polyline points="1331.0,492.9 1329.0,502.4 1331.0,511.0" stroke-width="6"/><polyline points="1311.0,514.2 1318.6,519.9 1324.3,525.6 1328.1,529.4" stroke-width="6"/><polyline points="1317.6,525.6 1326.6,533.2" stroke-width="5.5"/><polyline points="1319.5,537.0 1328.5,540.9" stroke-width="5.5"/><polyline points="1316.7,544.7 1327.7,546.6" stroke-width="6"/><polyline points="1347.1,525.2 1343.3,532.9 1339.9,540.5" stroke-width="4.5"/><polyline points="1321.4,569.0 1321.4,580.5 1328.1,578.6 1333.8,571.0 1337.6,576.7 1335.7,584.3 1341.8,582.4" stroke-width="5"/><polyline points="1315.7,591.9 1324.3,590.0 1328.1,593.8 1324.3,599.5 1314.8,601.4 1322.4,605.2 1330.4,603.3" stroke-width="5.5"/><polyline points="1307.1,611.9 1311.0,610.0 1314.8,611.9" stroke-width="5"/><polyline points="1350.0,481.0 1350.0,490.0 1354.0,497.0" stroke-width="4.5"/><polyline points="1376.0,458.0 1383.0,450.0 1388.0,447.0" stroke-width="6"/><polyline points="1384.0,452.0 1400.0,448.0 1416.0,444.0 1425.0,445.0" stroke-width="4"/><polyline points="1412.0,445.0 1420.0,447.0" stroke-width="5"/><polyline points="1453.8,430.0 1460.0,432.5 1464.0,430.0 1465.5,424.0 1463.0,418.0 1459.5,416.5" stroke-width="3.6"/><polyline points="1447.0,437.0 1453.0,438.0" stroke-width="5"/><polyline points="1459.0,438.0 1465.0,439.5" stroke-width="5.5"/><polyline points="1436.0,431.0 1441.0,434.0" stroke-width="5"/><polyline points="1428.0,434.0 1434.0,432.0" stroke-width="4.5"/><polyline points="1486.0,356.0 1490.0,352.0 1494.0,356.0" stroke-width="4.5"/><polyline points="1466.0,374.0 1470.0,370.0" stroke-width="4.5"/><polyline points="1090.5,353.5 1097.5,345.0 1104.5,336.0 1110.0,327.5" stroke-width="4.5"/><polyline points="1136.2,338.0 1137.5,346.2" stroke-width="6"/><polyline points="1191.2,433.0 1193.0,432.0" stroke-width="5"/><polyline points="1329.0,366.0 1332.0,372.0" stroke-width="5"/></g></svg>
<div class="lt">Relative pop. size</div>
<div class="sw" style="top:417.0px;background:#4d4d4d"></div><div class="lb" style="top:417.0px">excl.-severe</div><div class="sw" style="top:442.5px;background:#b3b3b3"></div><div class="lb" style="top:442.5px">excl.-moderate</div><div class="sw" style="top:468.0px;background:#1a70d0"></div><div class="lb" style="top:468.0px">0-10</div><div class="sw" style="top:493.5px;background:#4a90a0"></div><div class="lb" style="top:493.5px">10-20</div><div class="sw" style="top:519.0px;background:#7fae76"></div><div class="lb" style="top:519.0px">20-30</div><div class="sw" style="top:544.5px;background:#b0cf45"></div><div class="lb" style="top:544.5px">30-40</div><div class="sw" style="top:570.0px;background:#e6ee1a"></div><div class="lb" style="top:570.0px">40-50</div><div class="sw" style="top:595.5px;background:#fbe100"></div><div class="lb" style="top:595.5px">50-60</div><div class="sw" style="top:621.0px;background:#f0a800"></div><div class="lb" style="top:621.0px">60-70</div><div class="sw" style="top:646.5px;background:#e67300"></div><div class="lb" style="top:646.5px">70-80</div><div class="sw" style="top:672.0px;background:#dd3a00"></div><div class="lb" style="top:672.0px">80-90</div><div class="sw" style="top:697.5px;background:#c90000"></div><div class="lb" style="top:697.5px">90-100</div>
</body></html>
